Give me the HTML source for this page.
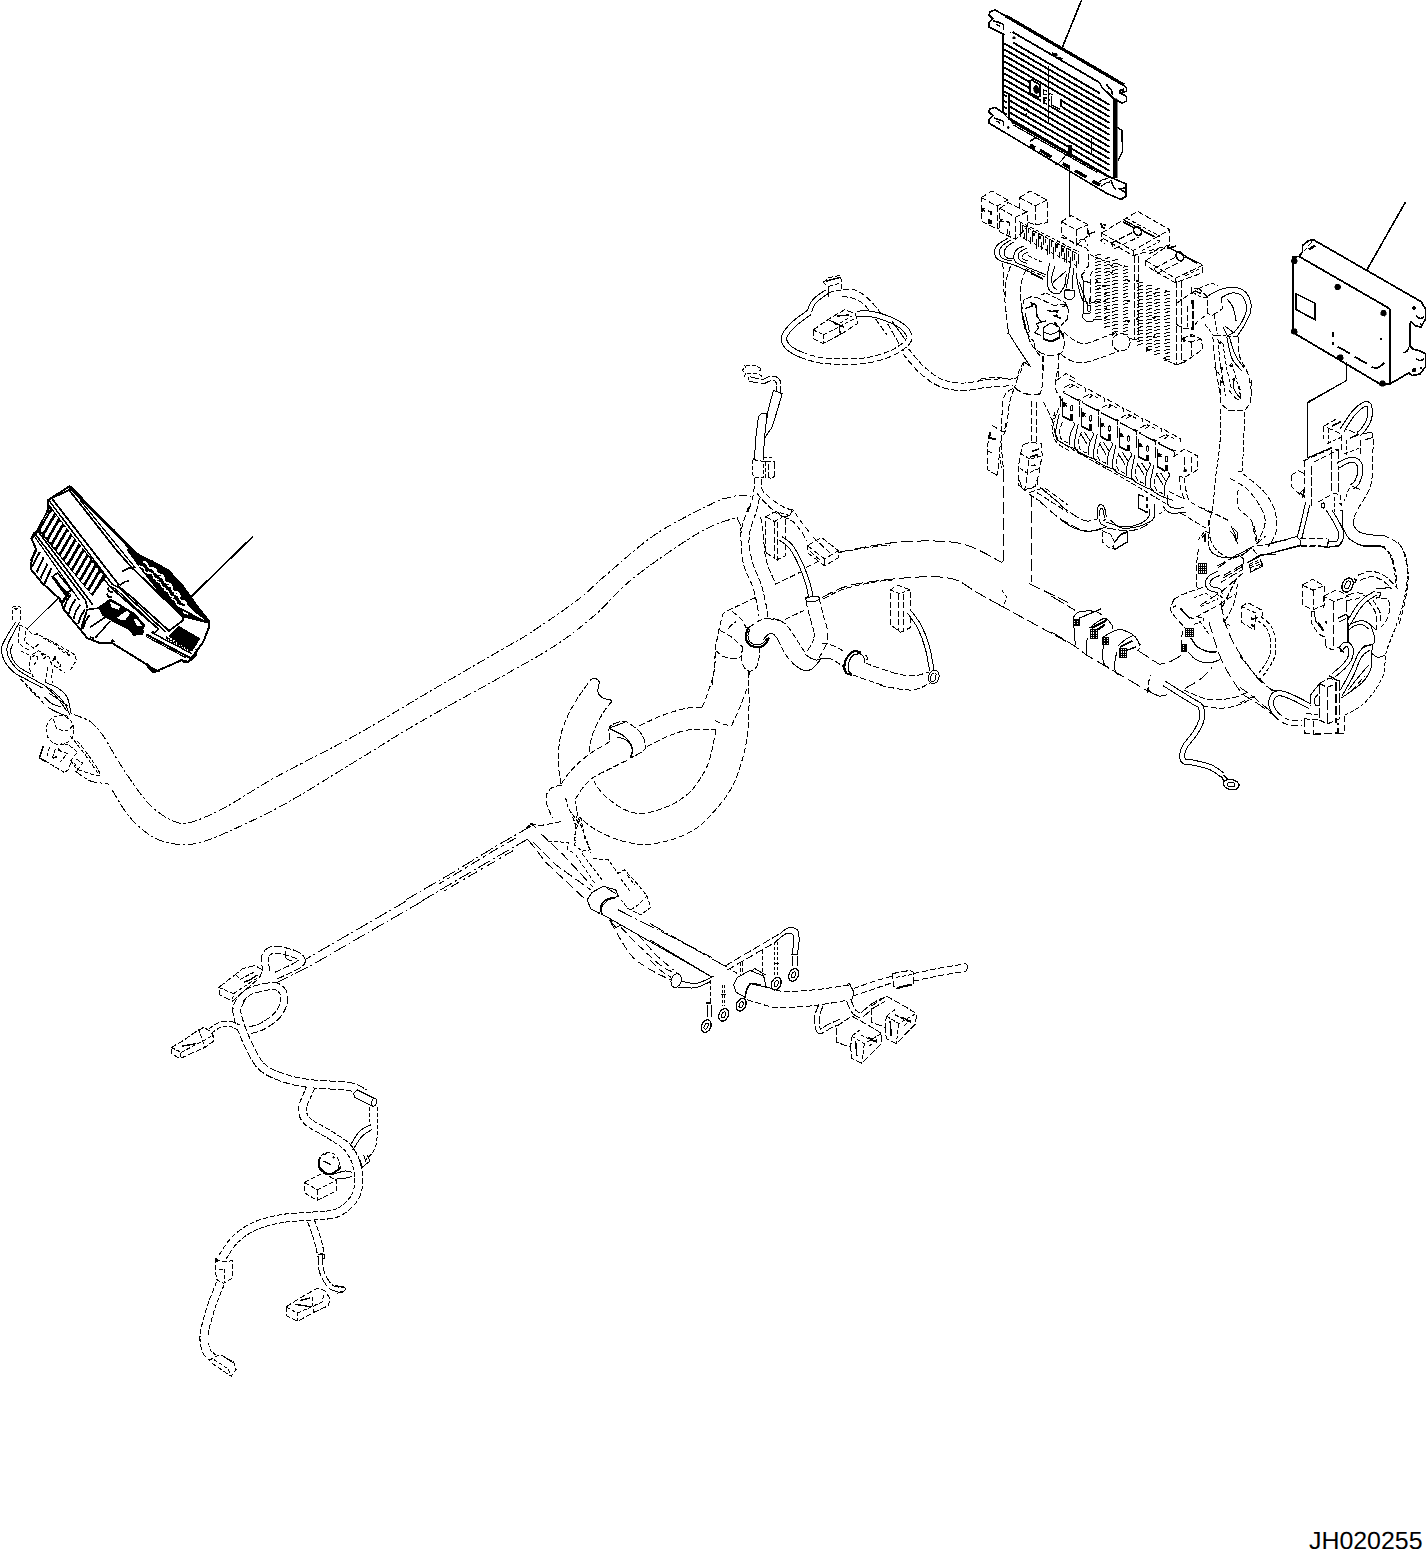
<!DOCTYPE html>
<html><head><meta charset="utf-8"><title>JH020255</title>
<style>html,body{margin:0;padding:0;background:#fff}body{width:1426px;height:1549px;overflow:hidden;font-family:"Liberation Sans",sans-serif}svg{display:block}</style></head>
<body>
<svg width="1426" height="1549" viewBox="0 0 1426 1549" shape-rendering="crispEdges">
<path d="M73.6,714.6 C76.4,715.8 85.5,718.1 90.4,721.7 C95.4,725.3 99,730 103.3,736 C107.6,742 111.8,750.6 116.2,757.8 C120.7,765 124.4,771.1 130,779 C135.6,786.9 143,798.1 150,805 C157,811.9 165.3,817.6 172,820.5 C178.7,823.4 181.2,824.7 190,822.5 C198.8,820.3 210.8,815 225,807.5 C239.2,800 253.2,789.6 275,777.5 C296.8,765.4 331.5,748.6 356,735 C380.5,721.4 398,710.1 422,696 C446,681.9 482,661.1 500,650.6 C518,640.1 517.1,641.4 530,633 C542.9,624.6 564.8,609.7 577.5,600 C590.2,590.3 592.9,586 606,575 C619.1,564 638.3,545.9 656,534 C673.7,522.1 700.2,509.7 712,503.7 C723.8,497.7 722.2,499.4 727,498 C731.8,496.6 737,495.4 741,495.2 C745,495 749.3,496.7 751,497" fill="none" stroke="#000" stroke-width="1" stroke-dasharray="9 2.5 2.5 2.5"/>
<path d="M74.9,770.8 C77.5,772.5 85.1,778.9 90.4,781 C95.8,783.1 104.2,783.1 107,783.7 C109.8,784.3 107.4,784.4 107.5,784.5" fill="none" stroke="#000" stroke-width="1" stroke-dasharray="9 2.5 2.5 2.5"/>
<path d="M112,790 C115,794.6 123.3,809.8 130,817.5 C136.7,825.2 144.5,832.1 152,836.5 C159.5,840.9 167,843 175,844 C183,845 189.6,845.2 200,842.5 C210.4,839.8 222.9,834.2 237.5,827.5 C252.1,820.8 267.8,813.6 287.5,802.5 C307.2,791.4 333.9,774.4 356,761 C378.1,747.6 396,735.9 420,722 C444,708.1 477.3,690.3 500,677.5 C522.7,664.7 540.2,655.4 556,645 C571.8,634.6 582.5,625.8 595,615 C607.5,604.2 616.7,591.8 631,580 C645.3,568.2 667.5,553 681,544 C694.5,535 702.7,530.4 712,526 C721.3,521.6 732.8,518.9 737,517.5" fill="none" stroke="#000" stroke-width="1" stroke-dasharray="9 2.5 2.5 2.5"/>
<path d="M737,517.5 L740,524 L741,533" fill="none" stroke="#000" stroke-width="1" stroke-dasharray="9 2.5 2.5 2.5"/>
<path d="M12.3,620.3 C12.3,618.5 11.9,611.7 12.3,609.4 C12.6,607.1 13.1,607 14.2,606.5 C15.3,606 17.6,605.9 18.7,606.3 C19.8,606.6 20.4,606.3 20.7,608.7 C20.9,611.2 20.1,618.9 20,621" fill="none" stroke="#000" stroke-width="1" stroke-dasharray="4 2"/>
<path d="M14.5,608.1 L16.1,609.4 L18.1,607.8" fill="none" stroke="#000" stroke-width="1" stroke-dasharray="4 2"/>
<path d="M16.1,621.6 C15,623.5 11.4,628.4 9,632.6 C6.7,636.8 2.8,642.3 1.9,646.8 C1.1,651.3 1.8,655.4 3.9,659.7 C5.9,664 10.5,669.4 14.2,672.6 C17.9,675.9 21.1,676.5 25.8,679.1 C30.6,681.7 39.8,686.6 42.6,688.1" fill="none" stroke="#000" stroke-width="1"/>
<path d="M19.4,622.3 C18.3,624.2 15,629.8 12.9,633.9 C10.9,638 7.8,642.8 7.1,646.8 C6.4,650.8 7.2,654.1 8.8,657.8 C10.4,661.4 13.5,665.6 16.8,668.8 C20.1,671.9 23.8,673.8 28.4,676.5 C33,679.3 41.9,683.8 44.5,685.3" fill="none" stroke="#000" stroke-width="1"/>
<path d="M12.9,644.2 C12.5,645.3 10.6,648.1 10.6,650.7 C10.6,653.3 11.4,656.9 12.9,659.7 C14.4,662.5 16.4,665.1 19.4,667.5 C22.4,669.8 29.1,672.8 31,673.9" fill="none" stroke="#000" stroke-width="1"/>
<path d="M19.4,624.9 L27.1,628.7 L32.3,634.5 L37.4,633.9 L58.1,644.9 L75.5,655.2 L76.2,660.4 L70.4,670.1" fill="none" stroke="#000" stroke-width="1" stroke-dasharray="4 2"/>
<path d="M19.4,627.4 L18.1,642.9 L23.2,646.8 L29.7,650.7" fill="none" stroke="#000" stroke-width="1" stroke-dasharray="4 2"/>
<path d="M25.8,631.3 L24.5,641.6 L33.6,648.1 L38.7,644.2" fill="none" stroke="#000" stroke-width="1" stroke-dasharray="4 2"/>
<path d="M42.6,637.8 L56.8,645.5 L60.7,650.7 L72.3,657.1" fill="none" stroke="#000" stroke-width="1" stroke-dasharray="4 2"/>
<path d="M32.3,654.6 L38.7,650.7 L49.1,657.1 L51.6,664.2 L56.8,667.5 L64.6,672.6" fill="none" stroke="#000" stroke-width="1" stroke-dasharray="4 2"/>
<path d="M20.7,650.7 L31,655.8 L29.1,667.5 L33.6,677.8" fill="none" stroke="#000" stroke-width="1" stroke-dasharray="4 2"/>
<path d="M31.6,657.1 C32.3,656.8 34.5,655 35.5,655.2 C36.5,655.4 37.7,656.8 37.4,658.4 C37.2,660 34.8,663.8 34.2,664.9" fill="none" stroke="#000" stroke-width="1" stroke-dasharray="4 2"/>
<path d="M41.3,653.3 L45.2,657.1 L42.6,659.7" fill="none" stroke="#000" stroke-width="1.6" stroke-dasharray="3 2"/>
<path d="M54.2,657.1 L57.5,662.3 L60.7,663.6 L60,668.8" fill="none" stroke="#000" stroke-width="1.6" stroke-dasharray="3 2"/>
<path d="M59.4,648.1 L64.6,650.7 L69.7,654.6" fill="none" stroke="#000" stroke-width="1" stroke-dasharray="4 2"/>
<path d="M55.5,655.8 L52.9,661" fill="none" stroke="#000" stroke-width="1.6"/>
<path d="M48,667.2 C47.8,668.5 47,672.6 46.5,675.2 C46,677.8 45.4,681.7 45.2,683" fill="none" stroke="#000" stroke-width="1" stroke-dasharray="4 2"/>
<path d="M53.2,668.8 C52.9,670.1 51.2,674.1 51.1,676.5 C51.1,678.9 52.6,682.1 52.9,683.2" fill="none" stroke="#000" stroke-width="1" stroke-dasharray="4 2"/>
<path d="M45.2,682.3 C47.3,683.3 54.4,685.7 58.1,688.1 C61.8,690.6 64.9,692.8 67.1,697.2 C69.3,701.5 70.6,711.4 71.3,714.2" fill="none" stroke="#000" stroke-width="1"/>
<path d="M43.9,685.5 C45.6,686.6 50.8,689 54.2,692 C57.7,695 62,699.7 64.6,703.6 C67.1,707.5 68.9,713.3 69.7,715.2" fill="none" stroke="#000" stroke-width="1"/>
<path d="M47.1,688.1 C48.7,689.6 53.5,693.3 56.8,697.2 C60.1,701 65.4,709 67.1,711.4" fill="none" stroke="#000" stroke-width="1"/>
<path d="M47.8,707.5 C49.5,708.4 54.7,711.2 58.1,712.7 C61.5,714.2 66.7,715.9 68.4,716.5" fill="none" stroke="#000" stroke-width="1"/>
<path d="M49.1,693.3 C51,694.6 57.5,698.9 60.7,701 C63.9,703.2 67.1,705.3 68.4,706.2" fill="none" stroke="#000" stroke-width="1"/>
<path d="M44.5,697.2 C45.7,698.2 49,702 51.6,703.6 C54.3,705.2 59.2,706.3 60.7,706.8" fill="none" stroke="#000" stroke-width="1"/>
<path d="M20.7,679.1 L38.7,697.2 L44.5,704.9" fill="none" stroke="#000" stroke-width="1" stroke-dasharray="4 2"/>
<path d="M25.8,685.5 L37.4,697.2" fill="none" stroke="#000" stroke-width="1" stroke-dasharray="4 2"/>
<ellipse cx="60" cy="730.1" rx="14" ry="14.5" fill="none" stroke="#000" stroke-width="1" stroke-dasharray="4 2"/>
<path d="M53.6,719.1 C54.1,720.6 54.6,726.3 56.8,728.2 C59.1,730 64.3,731.1 67.1,730.5 C70,729.8 72.7,725.3 73.9,724.3" fill="none" stroke="#000" stroke-width="1" stroke-dasharray="4 2"/>
<path d="M43.3,746.2 L39.4,757.9 L45.2,761.1" fill="none" stroke="#000" stroke-width="1.6"/>
<path d="M45.2,761.1 L49.7,763.7 L64.6,772.7 L68.4,769.5 L72.3,757.9 L77.5,752 L68.4,744.9 L60.7,743" fill="none" stroke="#000" stroke-width="1" stroke-dasharray="4 2"/>
<path d="M49.7,746.9 L46.5,757.9" fill="none" stroke="#000" stroke-width="1" stroke-dasharray="4 2"/>
<path d="M55.5,748.8 L51.6,760.4" fill="none" stroke="#000" stroke-width="1" stroke-dasharray="4 2"/>
<path d="M58.1,750.1 L67.1,753.3 L60.7,761.7" fill="none" stroke="#000" stroke-width="1" stroke-dasharray="4 2"/>
<path d="M52.9,757.9 L56.8,756.6" fill="none" stroke="#000" stroke-width="1.6"/>
<path d="M58.1,748.8 L60.7,751.4" fill="none" stroke="#000" stroke-width="1.6"/>
<path d="M70.4,760.4 L77.5,770.1 L82.6,763 L76.2,759.1" fill="none" stroke="#000" stroke-width="1" stroke-dasharray="4 2"/>
<path d="M74.2,763 L78.1,768.8" fill="none" stroke="#000" stroke-width="1" stroke-dasharray="4 2"/>
<path d="M70.4,735.9 C72.4,738.5 78,745.2 82.6,751.4 C87.3,757.6 95.5,769.7 98.1,773.3" fill="none" stroke="#000" stroke-width="1" stroke-dasharray="4 2"/>
<path d="M77.5,741.1 C80.1,744.5 89.2,756 93,761.7 C96.7,767.4 100.7,773.3 100.1,775.3 C99.4,777.2 92.9,774.3 89.1,773.3 C85.3,772.4 79.4,770.1 77.5,769.5" fill="none" stroke="#000" stroke-width="1" stroke-dasharray="4 2"/>
<path d="M743.6,364.5 L745.8,367.1 L742.4,370.2 L745.5,373.4 L744.3,377.2" fill="none" stroke="#000" stroke-width="1" stroke-dasharray="4 2"/>
<path d="M745.5,365.8 L755.7,365.8 L762,369 L759.4,370.9" fill="none" stroke="#000" stroke-width="1" stroke-dasharray="4 2"/>
<path d="M747.1,374 L758.2,373.8 L763.2,377.2" fill="none" stroke="#000" stroke-width="1" stroke-dasharray="4 2"/>
<path d="M748.7,376.8 L749.6,380.6" fill="none" stroke="#000" stroke-width="1.8"/>
<path d="M749.1,378.8 C750.3,379.1 753.9,380.1 756.3,380.5 C758.6,380.9 761.1,381.6 763.2,381.4 C765.4,381.1 766.9,379.5 768.9,379.1 C770.9,378.6 773.7,378.1 775.3,378.7 C776.8,379.3 777.9,380.5 778.4,382.6 C779,384.8 778.6,390.2 778.7,391.7" fill="none" stroke="#000" stroke-width="5.4" stroke-dasharray="10 2" stroke-linejoin="round"/>
<path d="M749.1,378.8 C750.3,379.1 753.9,380.1 756.3,380.5 C758.6,380.9 761.1,381.6 763.2,381.4 C765.4,381.1 766.9,379.5 768.9,379.1 C770.9,378.6 773.7,378.1 775.3,378.7 C776.8,379.3 777.9,380.5 778.4,382.6 C779,384.8 778.6,390.2 778.7,391.7" fill="none" stroke="#fff" stroke-width="3.4" stroke-linejoin="round"/>
<path d="M773.4,390.5 L782.2,393.6 L777.2,410.7 L772.1,427.2 L765.1,437.3 L764.5,437.3 L765.8,425.9 L768.3,409.4Z" fill="#fff" stroke="#000" stroke-width="1"/>
<path d="M754.4,460 L755.7,438.5 L758.4,416.4 L761.3,413.6 L766,413.2 L767,414.8 L764.5,437.3 L763.2,460" fill="#fff" stroke="#000" stroke-width="1"/>
<path d="M752.5,461.3 L754.4,457.5 L755.7,460.3 L763.2,461.3 L763.2,477.8 L754.4,477.1 L752.9,474.6 L752.5,461.3" fill="none" stroke="#000" stroke-width="1" stroke-dasharray="4 2"/>
<path d="M763.2,457.5 L772.1,457.5" fill="none" stroke="#000" stroke-width="1" stroke-dasharray="4 2"/>
<path d="M763.2,461.3 L774,461.3 L774,476.5 L772.1,478.4 L768.9,477.8 L768.3,463.8" fill="none" stroke="#000" stroke-width="1" stroke-dasharray="8 2"/>
<path d="M765.1,461.9 L765.1,479" fill="none" stroke="#000" stroke-width="1" stroke-dasharray="4 2"/>
<path d="M755,477.8 C754.7,480.7 754.3,489.8 753.1,495.5 C752,501.2 748.8,510.1 748.1,511.9 C747.3,513.7 749.7,503.8 748.7,506.4 C747.6,509.1 743,521.8 741.7,527.9 C740.5,534.1 740.8,537 741.1,543.1 C741.4,549.2 741.7,557.5 743.6,564.6 C745.5,571.8 750.5,580.6 752.5,586.1 C754.5,591.6 754.5,592.5 755.6,597.5 C756.7,602.6 758.5,613.3 759.1,616.5" fill="none" stroke="#000" stroke-width="1" stroke-dasharray="6 2.5"/>
<path d="M759.4,498 C758.8,500.7 756.4,511.5 755.7,514.4 C754.9,517.3 756,512.4 755,515.3 C754.1,518.2 750.9,526.5 749.9,531.7 C749,537 748.7,541.2 749.3,546.9 C749.9,552.6 751.7,559.6 753.7,565.9 C755.7,572.2 759.2,578.1 761.3,584.9 C763.4,591.6 765.3,600.8 766.4,606.4 C767.4,612 767.4,616.4 767.7,618.4" fill="none" stroke="#000" stroke-width="1" stroke-dasharray="6 2.5"/>
<path d="M762,479 C761.9,480.4 760.7,484.7 761.3,487.2 C762,489.8 762.5,491.1 765.8,494.2 C769,497.3 776.5,502.9 781,505.6 C785.4,508.3 790.4,509.6 792.3,510.4" fill="none" stroke="#000" stroke-width="1" stroke-dasharray="6 2.5"/>
<path d="M787.3,508.1 L792.3,510.4 L790.4,514.4 L783.5,518.2" fill="none" stroke="#000" stroke-width="1" stroke-dasharray="4 2"/>
<path d="M787.9,509.6 C788.7,509.7 791.1,508.7 793,510.2 C794.8,511.8 796.5,515.4 799.3,519.1 C802,522.8 807.7,530.2 809.4,532.4" fill="none" stroke="#000" stroke-width="1" stroke-dasharray="6 2.5"/>
<path d="M756.9,492.9 C757.6,493.8 758.4,495.5 760.7,498 C763,500.5 767.5,505.4 770.8,508.1 C774.2,510.8 779.3,513.4 781,514.4" fill="none" stroke="#000" stroke-width="1" stroke-dasharray="6 2.5"/>
<path d="M782.8,516.6 C784.5,517.4 790,519.3 793,521.6 C795.9,523.9 798.2,527.3 800.5,530.5 C802.9,533.6 805.8,538.9 806.9,540.6" fill="none" stroke="#000" stroke-width="1" stroke-dasharray="6 2.5"/>
<path d="M807.5,545.7 L821.4,537.4 L838.5,550.7 L838.5,557.7 L824.6,565.9 L807.5,552.6Z" fill="#fff" stroke="#000" stroke-width="1" stroke-dasharray="6 2.5"/>
<path d="M807.5,545.7 L824.6,558.9 L838.5,550.7 M824.6,558.9 L824.6,565.9" fill="none" stroke="#000" stroke-width="1" stroke-dasharray="6 2.5"/>
<path d="M813.2,537.4 L830.3,553.2" fill="none" stroke="#000" stroke-width="1" stroke-dasharray="6 2.5"/>
<path d="M809.4,550.7 L820.8,560.8" fill="none" stroke="#000" stroke-width="1" stroke-dasharray="6 2.5"/>
<path d="M760.7,517.2 L763.2,531.7 L764.5,552 L767.7,565.9 L775.9,584.2 L800.5,572" fill="none" stroke="#000" stroke-width="1" stroke-dasharray="6 2.5"/>
<path d="M806.2,567.4 L819.5,560.8" fill="none" stroke="#000" stroke-width="1" stroke-dasharray="6 2.5"/>
<path d="M765.1,552 L765.1,517.2 L774,512.1 L782.2,516.3 L785.6,517.2 L785.6,555.8 L777.8,559.3" fill="none" stroke="#000" stroke-width="1" stroke-dasharray="6 2.5"/>
<path d="M765.8,516.6 L774.6,521.6 L774.6,558.3 L765.1,552" fill="none" stroke="#000" stroke-width="1" stroke-dasharray="6 2.5"/>
<path d="M777.8,522.3 L777.8,560.2 L774.6,558.3" fill="none" stroke="#000" stroke-width="1" stroke-dasharray="6 2.5"/>
<path d="M774.6,521.6 L782.2,517.2" fill="none" stroke="#000" stroke-width="1" stroke-dasharray="4 2"/>
<path d="M780.3,512.8 L789.2,515.3 L793,510.9" fill="none" stroke="#000" stroke-width="1" stroke-dasharray="4 2"/>
<path d="M780.3,538.1 C782.1,539.5 787.6,542.4 791.1,546.9 C794.5,551.5 798.2,558.6 801.2,565.3 C804.1,571.9 807.1,581.3 808.8,586.8 C810.4,592.2 810.6,596.2 810.9,598.1" fill="none" stroke="#000" stroke-width="5.4" stroke-linejoin="round"/>
<path d="M780.3,538.1 C782.1,539.5 787.6,542.4 791.1,546.9 C794.5,551.5 798.2,558.6 801.2,565.3 C804.1,571.9 807.1,581.3 808.8,586.8 C810.4,592.2 810.6,596.2 810.9,598.1" fill="none" stroke="#fff" stroke-width="3.4" stroke-linejoin="round"/>
<path d="M812.6,600 C813.3,603 815.6,612.5 817,617.8 C818.4,623 820.4,627.4 820.8,631.7 C821.2,635.9 820.8,639.3 819.5,643 C818.2,646.8 814.2,652.5 813.2,654.4" fill="none" stroke="#000" stroke-width="14.5" stroke-dasharray="6 2.5" stroke-linejoin="round"/>
<path d="M812.6,600 C813.3,603 815.6,612.5 817,617.8 C818.4,623 820.4,627.4 820.8,631.7 C821.2,635.9 820.8,639.3 819.5,643 C818.2,646.8 814.2,652.5 813.2,654.4" fill="none" stroke="#fff" stroke-width="12.5" stroke-linejoin="round"/>
<ellipse cx="812.6" cy="599" rx="7" ry="2.6" fill="#fff" stroke="#000" stroke-width="1" transform="rotate(-8 812.6 599)"/>
<path d="M805.6,599.4 C805.6,599.1 805.4,598 805.9,597.5 C806.3,597 807.8,596.8 808.1,596.6" fill="none" stroke="#000" stroke-width="1"/>
<path d="M819.5,599 C819.5,598.7 819.9,597.7 819.3,597.3 C818.6,596.8 816.3,596.6 815.7,596.5" fill="none" stroke="#000" stroke-width="1"/>
<path d="M823.3,599 C826.9,597.3 836,591.5 844.8,588.7 C853.7,585.8 868.6,583.1 876.4,581.7 C884.3,580.3 889.4,580.6 892,580.4" fill="none" stroke="#000" stroke-width="1" stroke-dasharray="6 2.5"/>
<path d="M838.5,552.6 C842.7,551.9 855.1,549.4 863.8,548.2 C872.4,546.9 885.9,545.5 890.3,545" fill="none" stroke="#000" stroke-width="1" stroke-dasharray="6 2.5"/>
<path d="M768.3,618.4 L781.6,621.2 L804.3,610.2" fill="none" stroke="#000" stroke-width="1" stroke-dasharray="6 2.5"/>
<path d="M755.6,597.5 L724.6,612.1 L722.8,614.6 L719.6,626.6 L715.8,645.6 L715.2,653.2" fill="none" stroke="#000" stroke-width="1" stroke-dasharray="6 2.5"/>
<path d="M728.4,628.5 C729.1,627.8 730.9,625.5 732.2,624.3 C733.5,623.2 735.6,622 736.3,621.5" fill="none" stroke="#000" stroke-width="1" stroke-dasharray="6 2.5"/>
<path d="M732.2,611.4 C733.7,612.7 738.8,616.3 741.1,619 C743.4,621.8 745.3,626.4 746.2,627.9" fill="none" stroke="#000" stroke-width="1" stroke-dasharray="6 2.5"/>
<path d="M715.8,650.6 C717.3,651.7 721.1,655.7 724.6,657 C728.2,658.2 734.3,658.6 737.3,658.2 C740.2,657.8 741.5,655.1 742.4,654.4" fill="none" stroke="#000" stroke-width="1" stroke-dasharray="6 2.5"/>
<path d="M719.6,630.4 C721.5,631.5 727.2,634 731,636.7 C734.8,639.5 740.5,645.2 742.4,646.8" fill="none" stroke="#000" stroke-width="1" stroke-dasharray="6 2.5"/>
<path d="M715.2,653.2 L713.9,672.1 L712,685.9" fill="none" stroke="#000" stroke-width="1" stroke-dasharray="6 2.5"/>
<path d="M742.4,646.8 C742.3,649.2 741.3,657.2 741.7,660.8 C742.1,664.3 743.5,666.6 744.9,668.3 C746.3,670.1 748.2,671.1 749.9,671.1 C751.7,671.1 754.2,670.3 755.6,668.3 C757.1,666.4 758.2,663 758.8,659.5 C759.4,656 759,649.5 759.1,647.5" fill="none" stroke="#000" stroke-width="1" stroke-dasharray="6 2.5"/>
<path d="M749.3,672.1 L748,685.9" fill="none" stroke="#000" stroke-width="1" stroke-dasharray="6 2.5"/>
<path d="M749.3,627.2 C750.9,626.2 755.7,622.4 758.8,620.9 C761.9,619.4 764.9,618.7 767.7,618.4 C770.4,618.1 772.9,618.5 775.2,619 C777.6,619.5 779.5,620.3 781.6,621.5 C783.7,622.8 785.2,623.2 787.9,626.6 C790.6,630 795,637.1 798,641.8 C801.1,646.4 804.9,652.3 806.2,654.4" fill="none" stroke="#000" stroke-width="1" stroke-dasharray="6 2.5"/>
<path d="M762.6,640.5 C763.4,639.6 766,636 767.7,634.8 C769.3,633.7 771,632.8 772.7,633.6 C774.4,634.3 776.9,638.3 777.8,639.3" fill="none" stroke="#000" stroke-width="1"/>
<path d="M777.8,639.3 C779,641.8 782.6,650.2 785.4,654.4 C788.1,658.6 792.7,662.9 794.2,664.6" fill="none" stroke="#000" stroke-width="1" stroke-dasharray="6 2.5"/>
<path d="M794.2,664.6 C795.7,665.5 800.1,669.5 803.1,670.2 C806,671 809.2,670.6 811.9,669 C814.7,667.4 817.9,662.5 819.5,660.8 C821.1,659 821.1,658.6 821.4,658.2" fill="none" stroke="#000" stroke-width="1"/>
<path d="M805.6,654.4 C806.4,655.1 808.8,657.3 810.7,658.2 C812.6,659.2 815.2,660.1 817,660.1 C818.8,660.1 819.7,658.5 821.4,658.2 C823.1,657.9 826.2,658.2 827.1,658.2" fill="none" stroke="#000" stroke-width="1"/>
<path d="M748.9,626.9 C748.4,628.3 745.7,632.7 745.6,635.5 C745.6,638.3 747,641.7 748.7,643.7 C750.3,645.6 753.1,646.9 755.6,647.2 C758.2,647.5 761.6,646.9 763.9,645.3 C766.1,643.7 768.3,639 769.2,637.7" fill="none" stroke="#000" stroke-width="2.2"/>
<path d="M749.9,629.1 C749.6,630.2 747.9,633.4 747.9,635.5 C747.9,637.6 748.6,640.2 749.9,641.8 C751.3,643.4 754.2,644.7 756.3,644.9 C758.4,645.2 760.8,644.5 762.6,643.3 C764.4,642.1 766.3,638.9 767,638" fill="none" stroke="#000" stroke-width="1"/>
<path d="M755.6,647.2 L763.9,646.8" fill="none" stroke="#000" stroke-width="1.2"/>
<path d="M822,643.3 C822.9,643.4 824.4,642.9 827.1,643.7 C829.8,644.5 835.3,646.5 838.5,648.1 C841.6,649.7 844.8,652.3 846.1,653.2" fill="none" stroke="#000" stroke-width="1" stroke-dasharray="6 2.5"/>
<path d="M827.1,658.2 C828.2,658.5 830.6,658.6 833.4,660.1 C836.3,661.6 842.4,665.9 844.2,667.1" fill="none" stroke="#000" stroke-width="1" stroke-dasharray="6 2.5"/>
<path d="M865.7,663.3 C867.5,663.9 872,665.5 876.4,667.1 C880.8,668.6 889.4,671.6 892,672.5" fill="none" stroke="#000" stroke-width="1" stroke-dasharray="6 2.5"/>
<path d="M852.4,674.9 C855.4,675.9 864.8,679.2 870.1,681 C875.4,682.8 881.7,685.1 884,685.9" fill="none" stroke="#000" stroke-width="1" stroke-dasharray="6 2.5"/>
<path d="M861.3,652.5 C860,652.3 856.1,650.3 853.7,651.3 C851.2,652.2 848.3,655.6 846.7,658.2 C845.1,660.9 844.2,664.6 844.2,667.1 C844.2,669.6 845.3,672.1 846.7,673.4 C848.1,674.7 851.5,674.5 852.4,674.7" fill="none" stroke="#000" stroke-width="2.2"/>
<path d="M858.7,653.8 C857.7,654.1 854.1,654.1 852.4,655.7 C850.7,657.3 849.2,660.8 848.6,663.3 C848,665.8 848.1,669.1 848.6,670.9 C849.1,672.7 851.2,673.5 851.8,674" fill="none" stroke="#000" stroke-width="1.2"/>
<path d="M859.4,653.2 C860.1,653.8 862.8,655.3 863.8,657 C864.7,658.6 864.8,662.2 865,663.3" fill="none" stroke="#000" stroke-width="1"/>
<path d="M865.7,655.1 C866,655.6 867.4,657.4 867.6,658.2 C867.7,659.1 866.7,659.8 866.6,660.1" fill="none" stroke="#000" stroke-width="1"/>
<path d="M748.8,671.2 C748.7,680.3 749.6,710.7 748.4,725.9 C747.2,741 744.5,751.7 741.5,762.3 C738.5,773 735.4,781.2 730.5,789.7 C725.7,798.2 718.4,806.7 712.3,813.4 C706.2,820 701.4,825.2 694.1,829.8 C686.8,834.3 677.1,838.3 668.6,840.7 C660.1,843.1 650.9,844.4 643,844.4 C635.1,844.4 627.8,842.5 621.2,840.7 C614.5,838.9 608.1,835.8 602.9,833.4 C597.8,831 594.1,828.9 590.2,826.1 C586.2,823.4 581,818.5 579.2,817" fill="none" stroke="#000" stroke-width="1" stroke-dasharray="6 2.5"/>
<path d="M716,729.5 C715.5,731.9 714.4,738.6 713.2,744.1 C712,749.6 710.6,756.8 708.7,762.3 C706.7,767.8 704.7,771.7 701.4,776.9 C698,782.1 694.1,788.4 688.6,793.3 C683.1,798.2 676.2,802.7 668.6,806.1 C661,809.4 650.3,812.8 643,813.4 C635.7,814 630.6,812.1 624.8,809.7 C619,807.3 612.6,802.1 608.4,798.8 C604.1,795.4 601.7,792.7 599.3,789.7 C596.8,786.6 594.7,782.1 593.8,780.5" fill="none" stroke="#000" stroke-width="1" stroke-dasharray="6 2.5"/>
<path d="M561,784.2 C562.8,781.8 567.4,774.5 571.9,769.6 C576.5,764.7 582,759.7 588.3,755 C594.7,750.3 606.6,743.6 610.2,741.3" fill="none" stroke="#000" stroke-width="1" stroke-dasharray="6 2.5"/>
<path d="M639.4,725.9 C643,724.2 653.7,718.7 661.3,715.8 C668.9,712.9 678.1,710 685,708.5 C691.8,707.1 699.4,707.3 702.3,707.1" fill="none" stroke="#000" stroke-width="1" stroke-dasharray="6 2.5"/>
<path d="M702.3,707.1 C703.2,704.7 705.8,699 707.8,693 C709.7,687 712.8,679.4 714.1,671.2 C715.5,663 715.7,648.4 716,643.8" fill="none" stroke="#000" stroke-width="1" stroke-dasharray="6 2.5"/>
<path d="M575.6,798.8 C576.8,797 580,791.3 582.9,787.8 C585.8,784.3 588.3,781 592.9,777.8 C597.5,774.6 604.3,771.7 610.2,768.7 C616.1,765.7 625.4,761.1 628.5,759.6" fill="none" stroke="#000" stroke-width="1" stroke-dasharray="6 2.5"/>
<path d="M646.7,746.8 C650,745.1 659.7,739.6 666.7,736.8 C673.7,734 680.4,731.1 688.6,729.9 C696.8,728.6 711.4,729.6 716,729.5" fill="none" stroke="#000" stroke-width="1" stroke-dasharray="6 2.5"/>
<path d="M715.1,720.4 L721.4,724 L731.5,725.9" fill="none" stroke="#000" stroke-width="1" stroke-dasharray="6 2.5"/>
<path d="M731.5,725.9 C732.8,722.8 736.8,714.6 739.7,707.6 C742.5,700.6 747.3,687.9 748.8,683.9" fill="none" stroke="#000" stroke-width="1" stroke-dasharray="6 2.5"/>
<path d="M609.7,740.4 C609.6,738.3 608.3,730.6 609.3,727.7 C610.3,724.8 613.1,724.2 615.7,723.1 C618.3,722.1 621.8,720.7 624.8,721.3 C627.8,721.9 631,724.5 633.9,726.8 C636.8,729 640.2,731.9 642.1,735 C644,738 644.9,742.4 645.2,745 C645.5,747.6 646.3,748.3 643.9,750.5 C641.6,752.6 633.3,756.5 631.2,757.8" fill="none" stroke="#000" stroke-width="1" stroke-dasharray="7 2"/>
<path d="M609.7,728 L624.8,722.2" fill="none" stroke="#000" stroke-width="1"/>
<path d="M609.7,728.6 C612.2,730 621.1,733.6 624.8,736.8 C628.5,740 631,744.2 632.1,747.7 C633.2,751.2 631.3,756.1 631.2,757.8" fill="none" stroke="#000" stroke-width="1.3"/>
<path d="M617.5,737.2 C619,737.7 624.2,738.4 626.6,740.4 C629.1,742.5 631.5,746.6 632.1,749.6 C632.6,752.5 630.3,756.8 629.9,758.3" fill="none" stroke="#000" stroke-width="1"/>
<path d="M561,784.2 C560.5,780.5 558.4,769.9 558.3,762.3 C558.1,754.7 558.7,745.9 560.1,738.6 C561.4,731.3 563.6,725.2 566.5,718.6 C569.3,711.9 573.3,705 577.4,698.5 C581.5,692 588.8,682.6 591.1,679.4" fill="none" stroke="#000" stroke-width="1" stroke-dasharray="6 2.5"/>
<path d="M591.1,679.4 C591.8,679.2 594.3,678 595.6,678.5 C597,678.9 598.9,680 599.3,682.1 C599.6,684.2 597.4,688.6 597.8,691.2 C598.3,693.8 599.6,696.1 602,697.6 C604.4,699.1 610.4,699.9 612,700.3" fill="none" stroke="#000" stroke-width="1"/>
<path d="M612,701.2 C610.5,703.2 606,708.1 602.9,713.1 C599.9,718.1 595.9,726.2 593.8,731.3 C591.7,736.5 590.9,740.3 590.2,744.1 C589.4,747.9 589.4,752.4 589.3,754.1" fill="none" stroke="#000" stroke-width="1" stroke-dasharray="6 2.5"/>
<path d="M561.9,785.1 C560.2,785.6 554.5,786.2 551.9,787.8 C549.3,789.5 547.2,792.1 546.4,795.1 C545.6,798.2 546.3,802.3 547.3,806.1 C548.4,809.9 551.9,815.9 552.8,817.9" fill="none" stroke="#000" stroke-width="1" stroke-dasharray="6 2.5"/>
<path d="M530,823.4 C531.8,823.7 537.3,825.2 540.9,825.2 C544.6,825.2 548.5,824 551.9,823.4 C555.2,822.8 559.5,821.9 561,821.6" fill="none" stroke="#000" stroke-width="1" stroke-dasharray="6 2.5"/>
<path d="M565.6,797.9 C566.2,799.8 567.2,805.6 569.2,809.7 C571.2,813.8 576.5,818.2 577.4,822.5 C578.3,826.7 575,831.9 574.7,835.2 C574.4,838.6 575.4,841.3 575.6,842.5" fill="none" stroke="#000" stroke-width="1" stroke-dasharray="4 2"/>
<path d="M575.6,800.6 C576,803.3 576.8,811.2 578.3,817 C579.8,822.8 582.7,829.8 584.7,835.2 C586.7,840.7 589.3,847.4 590.2,849.8" fill="none" stroke="#000" stroke-width="1" stroke-dasharray="4 2"/>
<path d="M572.8,817 L575.6,825.2 L578.9,823.4 L576.5,816.1" fill="none" stroke="#000" stroke-width="1" stroke-dasharray="4 2"/>
<path d="M530.9,826.2 L495.9,846.2 L450.9,873.7 L406,899.7" fill="none" stroke="#000" stroke-width="1" stroke-dasharray="14 3 2 3"/>
<path d="M528.4,838.7 L495.9,857.4 L450.9,883.7 L422,900.9" fill="none" stroke="#000" stroke-width="1" stroke-dasharray="14 3 2 3"/>
<path d="M515.9,838 L495.9,849.4 L450.9,876.9 L438.4,884.2" fill="none" stroke="#000" stroke-width="1" stroke-dasharray="10 4 3 4"/>
<path d="M513.4,850.4 L495.9,860.7 L450.9,886.9 L440.9,892.9" fill="none" stroke="#000" stroke-width="1" stroke-dasharray="10 4 3 4"/>
<path d="M525.9,828.7 C526.7,828 529.2,824.7 530.9,824.5 C532.5,824.3 535,827 535.9,827.5" fill="none" stroke="#000" stroke-width="1"/>
<path d="M528.4,840 L545.9,862.4 L585.8,899.9" fill="none" stroke="#000" stroke-width="1" stroke-dasharray="10 4"/>
<path d="M533.4,842.5 L555.9,864.9 L590.8,889.9" fill="none" stroke="#000" stroke-width="1" stroke-dasharray="10 4"/>
<path d="M540.9,833.7 L563.3,854.9 L593.3,887.4" fill="none" stroke="#000" stroke-width="1" stroke-dasharray="10 4"/>
<path d="M548.4,841.2 L568.3,842.5 L567.1,849.9 L573.3,852.4" fill="none" stroke="#000" stroke-width="1" stroke-dasharray="4 2"/>
<path d="M575.8,825 L574.6,845 L582.1,851.2 L589.6,849.9" fill="none" stroke="#000" stroke-width="1" stroke-dasharray="4 2"/>
<path d="M580.8,817.5 L584.6,837.5 L590.8,852.4" fill="none" stroke="#000" stroke-width="1" stroke-dasharray="4 2"/>
<path d="M575.8,854.9 L595.8,884.9" fill="none" stroke="#000" stroke-width="1" stroke-dasharray="4 2"/>
<path d="M582.1,853.7 L602.1,879.9" fill="none" stroke="#000" stroke-width="1" stroke-dasharray="4 2"/>
<path d="M593.3,858.7 L608.3,859.9 L618.3,873.7" fill="none" stroke="#000" stroke-width="1" stroke-dasharray="4 2"/>
<path d="M617.1,873.7 L624.5,869.9 L638.3,884.9 L647,896.2 L650.8,907.4 L640.8,914.9 L628.3,908.7 L620.8,899.9" fill="none" stroke="#000" stroke-width="1" stroke-dasharray="4 2"/>
<path d="M620.8,878.7 L630.8,892.4" fill="none" stroke="#000" stroke-width="1" stroke-dasharray="4 2"/>
<path d="M627,874.9 L634.5,884.9" fill="none" stroke="#000" stroke-width="1" stroke-dasharray="4 2"/>
<path d="M630.8,909.9 L638.3,904.9 L647,896.2" fill="none" stroke="#000" stroke-width="1" stroke-dasharray="4 2"/>
<path d="M587.1,899.9 L592.1,892.4 L603.3,886.2 L615.8,889.9 L618.3,896.2 L608.3,899.9 L602.1,906.2 L599.6,913.6 L590.8,908.7Z" fill="#fff" stroke="#000" stroke-width="1"/>
<path d="M615.8,897.4 C614.1,897.8 608.3,898.2 605.8,899.9 C603.3,901.6 601.4,904.9 600.8,907.4 C600.2,909.9 601.9,913.6 602.1,914.9" fill="none" stroke="#000" stroke-width="1.8"/>
<path d="M605.8,887.4 L615.8,893.7" fill="none" stroke="#000" stroke-width="1"/>
<path d="M618.3,909.9 L712,957.4" fill="none" stroke="#000" stroke-width="1" stroke-dasharray="16 3 2 3"/>
<path d="M603.3,914.9 L708.2,974.9" fill="none" stroke="#000" stroke-width="1"/>
<path d="M609.6,919.9 L615.8,927.4 L622.1,924.9" fill="none" stroke="#000" stroke-width="1"/>
<circle cx="611.3" cy="921.1" r="1.2" fill="#000" stroke="#000" stroke-width="0.5"/>
<path d="M610.8,922.4 C614.1,927.8 624.1,947 630.8,954.9 C637.5,962.8 644.1,965.7 650.8,969.9 C657.4,974 667.4,978.2 670.8,979.9" fill="none" stroke="#000" stroke-width="1" stroke-dasharray="8 4"/>
<path d="M620.8,927.4 C624.5,931.1 636.2,943.2 643.3,949.9 C650.4,956.5 657.4,963.4 663.3,967.4 C669.1,971.3 675.8,972.6 678.3,973.6" fill="none" stroke="#000" stroke-width="1" stroke-dasharray="8 4"/>
<path d="M638.3,934.9 L655.8,954.9 L673.3,969.9" fill="none" stroke="#000" stroke-width="1" stroke-dasharray="8 4"/>
<path d="M650,923.6 L724.9,966.1 L737.4,973.6" fill="none" stroke="#000" stroke-width="1" stroke-dasharray="16 3 2 3"/>
<path d="M650,939.9 L712.5,977.4" fill="none" stroke="#000" stroke-width="1"/>
<path d="M650,959.9 C651.7,961.5 656.5,966.9 660,969.9 C663.5,972.8 669.4,976.1 671.2,977.4" fill="none" stroke="#000" stroke-width="1" stroke-dasharray="8 4"/>
<path d="M677.5,979.9 C680.4,980.5 689.8,983.8 695,983.6 C700.2,983.4 705.6,979.9 708.7,978.6 C711.8,977.4 712.9,976.5 713.7,976.1" fill="none" stroke="#000" stroke-width="1"/>
<path d="M676.2,986.8 C679.4,987 689.3,988.7 695,987.8 C700.6,987 707.5,982.8 710,981.8" fill="none" stroke="#000" stroke-width="1"/>
<ellipse cx="676.2" cy="980.6" rx="5" ry="7" fill="#fff" stroke="#000" stroke-width="1" transform="rotate(20 676.2 980.6)"/>
<path d="M724.9,966.1 L779.9,933.6" fill="none" stroke="#000" stroke-width="1" stroke-dasharray="8 3"/>
<path d="M727.4,969.9 L774.9,942.4" fill="none" stroke="#000" stroke-width="1" stroke-dasharray="8 3"/>
<path d="M779.9,933.6 C781.4,932.7 785.7,928.5 788.6,927.9 C791.6,927.3 795.6,927.9 797.4,929.9 C799.1,931.9 799.1,935.7 799.1,939.9 C799.1,944 797.7,952.4 797.4,954.9" fill="none" stroke="#000" stroke-width="1"/>
<path d="M774.9,942.4 C776.8,940.9 783.2,934.9 786.1,933.6 C789.1,932.4 791.6,933.4 792.9,934.9 C794.1,936.3 793.8,939 793.6,942.4 C793.5,945.7 792.2,952.8 791.9,954.9" fill="none" stroke="#000" stroke-width="1"/>
<path d="M791.9,954.9 L797.4,954.9" fill="none" stroke="#000" stroke-width="1"/>
<path d="M792.9,956.1 L792.9,966.1" fill="none" stroke="#000" stroke-width="1"/>
<path d="M797.4,956.1 L797.4,966.1" fill="none" stroke="#000" stroke-width="1"/>
<path d="M740.4,962.4 L740.4,977.4" fill="none" stroke="#000" stroke-width="1" stroke-dasharray="4 2"/>
<path d="M742.9,962.4 L742.9,977.4" fill="none" stroke="#000" stroke-width="1" stroke-dasharray="4 2"/>
<path d="M762.4,949.9 L762.4,977.4" fill="none" stroke="#000" stroke-width="1" stroke-dasharray="4 2"/>
<path d="M774.9,942.4 L774.9,977.4" fill="none" stroke="#000" stroke-width="1" stroke-dasharray="3 2"/>
<path d="M777.9,942.4 L777.9,977.4" fill="none" stroke="#000" stroke-width="1" stroke-dasharray="3 2"/>
<path d="M774.2,963.6 L778.7,963.6" fill="none" stroke="#000" stroke-width="1.5"/>
<path d="M710,979.9 L710,1002.3" fill="none" stroke="#000" stroke-width="1" stroke-dasharray="4 2"/>
<path d="M706.2,1002.8 L711.2,1002.8" fill="none" stroke="#000" stroke-width="1.5"/>
<path d="M707,1004.8 L707,1017.3" fill="none" stroke="#000" stroke-width="1"/>
<path d="M711.2,1004.8 L711.2,1017.3" fill="none" stroke="#000" stroke-width="1"/>
<path d="M722.4,984.8 L722.4,1006.1" fill="none" stroke="#000" stroke-width="1" stroke-dasharray="3 2"/>
<path d="M724.9,984.8 L724.9,1006.1" fill="none" stroke="#000" stroke-width="1" stroke-dasharray="3 2"/>
<path d="M721.4,994.3 L725.9,994.3" fill="none" stroke="#000" stroke-width="1.5"/>
<path d="M733.7,984.8 L737.4,977.4 L749.9,970.4 L763.7,976.1 L766.2,987.3 L761.2,986.1 L749.9,983.6 L746.2,992.3 L744.9,997.3 L736.2,992.3Z" fill="#fff" stroke="#000" stroke-width="1"/>
<path d="M751.2,971.1 L754.9,968.6 L765.4,974.9" fill="none" stroke="#000" stroke-width="1"/>
<path d="M761.2,985.3 C759.5,985.1 753.7,982.6 751.2,983.6 C748.7,984.6 747.1,988.7 746.2,991.1 C745.3,993.5 745.8,996.7 745.7,997.8" fill="none" stroke="#000" stroke-width="1.6"/>
<path d="M747.4,999.8 C749.5,1000.5 755.3,1002.3 759.9,1003.6 C764.5,1004.8 768.2,1006.8 774.9,1007.3 C781.6,1007.9 792.4,1007.2 799.9,1006.8 C807.4,1006.4 811.5,1006 819.9,1004.8 C828.2,1003.7 844.9,1000.7 849.9,999.8" fill="none" stroke="#000" stroke-width="1" stroke-dasharray="6 2.5"/>
<path d="M767.4,987.3 C770.3,988.1 778.7,991.3 784.9,991.8 C791.1,992.4 798.2,991.1 804.9,990.6 C811.5,990.1 817.4,989.6 824.9,988.6 C832.4,987.6 845.7,985.5 849.9,984.8" fill="none" stroke="#000" stroke-width="1" stroke-dasharray="6 2.5"/>
<path d="M849.9,984.8 C850.5,986.1 853.3,989.8 853.6,992.3 C853.9,994.8 852.1,998.6 851.8,999.8" fill="none" stroke="#000" stroke-width="1"/>
<path d="M847.4,985.3 C847.6,985.1 848.1,983.7 848.6,983.6 C849.1,983.5 850.1,984.6 850.3,984.8" fill="none" stroke="#000" stroke-width="1"/>
<path d="M853.6,988.6 C857.1,987.3 868.4,983.2 874.8,981.1 C881.3,979 889.4,976.9 892.3,976.1" fill="none" stroke="#000" stroke-width="1" stroke-dasharray="6 2.5"/>
<path d="M852.8,996.1 C856.5,994.8 868,990.9 874.8,988.6 C881.6,986.3 890.4,983.4 893.6,982.3" fill="none" stroke="#000" stroke-width="1" stroke-dasharray="6 2.5"/>
<path d="M913.6,973.6 C917.5,972.8 928.5,970.3 937.3,968.6 C946,966.9 961.2,964.4 966,963.6" fill="none" stroke="#000" stroke-width="1" stroke-dasharray="6 2.5"/>
<path d="M913.6,981.1 C917.5,980.3 928.5,977.8 937.3,976.1 C946,974.4 961.2,971.9 966,971.1" fill="none" stroke="#000" stroke-width="1" stroke-dasharray="6 2.5"/>
<path d="M965.3,963.1 C965.7,963.7 967.6,965.5 967.8,966.9 C967.9,968.2 966.3,970.6 966,971.4" fill="none" stroke="#000" stroke-width="1"/>
<path d="M892.3,973.6 L909.8,970.4 L913.6,972.4 L913.6,984.8 L897.3,988.6 L893.6,986.1 L892.3,973.6" fill="none" stroke="#000" stroke-width="1" stroke-dasharray="7 2"/>
<path d="M896.1,977.4 L912.3,974.4" fill="none" stroke="#000" stroke-width="1" stroke-dasharray="4 2"/>
<path d="M897.3,987.8 L912.3,984.3" fill="none" stroke="#000" stroke-width="1.8"/>
<ellipse cx="706.2" cy="1026.1" rx="4.6" ry="6.6" fill="#fff" stroke="#000" stroke-width="1.3" transform="rotate(25 706.2 1026.1)"/>
<ellipse cx="706.2" cy="1026.1" rx="1.8" ry="3.2" fill="#fff" stroke="#000" stroke-width="1" transform="rotate(25 706.2 1026.1)"/>
<ellipse cx="723.7" cy="1014.8" rx="4.6" ry="6.6" fill="#fff" stroke="#000" stroke-width="1.3" transform="rotate(25 723.7 1014.8)"/>
<ellipse cx="723.7" cy="1014.8" rx="1.8" ry="3.2" fill="#fff" stroke="#000" stroke-width="1" transform="rotate(25 723.7 1014.8)"/>
<ellipse cx="741.2" cy="1004.8" rx="4.6" ry="6.6" fill="#fff" stroke="#000" stroke-width="1.3" transform="rotate(25 741.2 1004.8)"/>
<ellipse cx="741.2" cy="1004.8" rx="1.8" ry="3.2" fill="#fff" stroke="#000" stroke-width="1" transform="rotate(25 741.2 1004.8)"/>
<ellipse cx="776.2" cy="983.6" rx="4.6" ry="6.6" fill="#fff" stroke="#000" stroke-width="1.3" transform="rotate(25 776.2 983.6)"/>
<ellipse cx="776.2" cy="983.6" rx="1.8" ry="3.2" fill="#fff" stroke="#000" stroke-width="1" transform="rotate(25 776.2 983.6)"/>
<ellipse cx="793.6" cy="974.9" rx="4.6" ry="6.6" fill="#fff" stroke="#000" stroke-width="1.3" transform="rotate(25 793.6 974.9)"/>
<ellipse cx="793.6" cy="974.9" rx="1.8" ry="3.2" fill="#fff" stroke="#000" stroke-width="1" transform="rotate(25 793.6 974.9)"/>
<path d="M821.1,1004.8 C820.4,1006.9 817.2,1013 816.9,1017.3 C816.6,1021.7 817.2,1029.6 819.4,1031.1 C821.5,1032.5 826.2,1027.7 829.9,1026.1 C833.5,1024.4 839.2,1021.9 841.1,1021.1" fill="none" stroke="#000" stroke-width="5.5" stroke-dasharray="9 2" stroke-linejoin="round"/>
<path d="M821.1,1004.8 C820.4,1006.9 817.2,1013 816.9,1017.3 C816.6,1021.7 817.2,1029.6 819.4,1031.1 C821.5,1032.5 826.2,1027.7 829.9,1026.1 C833.5,1024.4 839.2,1021.9 841.1,1021.1" fill="none" stroke="#fff" stroke-width="3.5" stroke-linejoin="round"/>
<path d="M848.6,999.8 C849.4,1001.7 851.5,1008.6 853.6,1011.1 C855.7,1013.6 858,1015.7 861.1,1014.8 C864.2,1014 868.6,1008.6 872.3,1006.1 C876.1,1003.6 881.7,1000.9 883.6,999.8" fill="none" stroke="#000" stroke-width="5.5" stroke-dasharray="9 2" stroke-linejoin="round"/>
<path d="M848.6,999.8 C849.4,1001.7 851.5,1008.6 853.6,1011.1 C855.7,1013.6 858,1015.7 861.1,1014.8 C864.2,1014 868.6,1008.6 872.3,1006.1 C876.1,1003.6 881.7,1000.9 883.6,999.8" fill="none" stroke="#fff" stroke-width="3.5" stroke-linejoin="round"/>
<path d="M836.9,1026.1 L851.8,1016.1 L863.1,1022.3 L871.8,1027.3 L881.8,1033.6 L881.3,1043.6 L861.8,1063.5 L851.8,1058.5 L850.6,1047.3 L836.9,1042.3 L836.9,1026.1" fill="none" stroke="#000" stroke-width="1" stroke-dasharray="7 2"/>
<path d="M850.6,1047.3 L851.8,1036.1 L861.8,1028.6" fill="none" stroke="#000" stroke-width="1" stroke-dasharray="4 2"/>
<path d="M851.8,1036.1 L864.3,1043.6 L881.3,1033.6" fill="none" stroke="#000" stroke-width="1" stroke-dasharray="4 2"/>
<path d="M864.3,1043.6 L861.8,1063.5" fill="none" stroke="#000" stroke-width="1" stroke-dasharray="4 2"/>
<path d="M855.6,1041.1 L856.8,1056" fill="none" stroke="#000" stroke-width="1.5"/>
<path d="M868.1,1037.3 L876.8,1042.3" fill="none" stroke="#000" stroke-width="1.5"/>
<path d="M860.6,1034.8 L874.3,1041.6" fill="none" stroke="#000" stroke-width="1" stroke-dasharray="4 2"/>
<path d="M869.3,1046.1 L878.1,1038.6" fill="none" stroke="#000" stroke-width="1" stroke-dasharray="4 2"/>
<path d="M871.3,1006.1 L886.3,996.1 L897.6,1002.3 L906.3,1007.3 L916.3,1013.6 L915.8,1023.6 L896.3,1043.6 L886.3,1038.6 L885.1,1027.3 L871.3,1022.3 L871.3,1006.1" fill="none" stroke="#000" stroke-width="1" stroke-dasharray="7 2"/>
<path d="M885.1,1027.3 L886.3,1016.1 L896.3,1008.6" fill="none" stroke="#000" stroke-width="1" stroke-dasharray="4 2"/>
<path d="M886.3,1016.1 L898.8,1023.6 L915.8,1013.6" fill="none" stroke="#000" stroke-width="1" stroke-dasharray="4 2"/>
<path d="M898.8,1023.6 L896.3,1043.6" fill="none" stroke="#000" stroke-width="1" stroke-dasharray="4 2"/>
<path d="M890.1,1021.1 L891.3,1036.1" fill="none" stroke="#000" stroke-width="1.5"/>
<path d="M902.6,1017.3 L911.3,1022.3" fill="none" stroke="#000" stroke-width="1.5"/>
<path d="M895.1,1014.8 L908.8,1021.6" fill="none" stroke="#000" stroke-width="1" stroke-dasharray="4 2"/>
<path d="M903.8,1026.1 L912.6,1018.6" fill="none" stroke="#000" stroke-width="1" stroke-dasharray="4 2"/>
<path d="M422.3,901.2 L309.8,966.2 L274.9,983.7" fill="none" stroke="#000" stroke-width="1" stroke-dasharray="14 3 2 3"/>
<path d="M406,901.2 L302.3,961.2" fill="none" stroke="#000" stroke-width="1" stroke-dasharray="14 3 2 3"/>
<path d="M266.1,971.2 C266,968.7 264.3,959.7 265.4,956.2 C266.4,952.7 269.1,950.8 272.4,950 C275.6,949.1 280.5,950.2 284.9,951.2 C289.2,952.3 296.1,954.1 298.6,956.2 C301.1,958.3 303.8,960.4 299.9,963.7 C295.9,967 279,974.1 274.9,976.2" fill="none" stroke="#000" stroke-width="8" stroke-dasharray="7 2" stroke-linejoin="round"/>
<path d="M266.1,971.2 C266,968.7 264.3,959.7 265.4,956.2 C266.4,952.7 269.1,950.8 272.4,950 C275.6,949.1 280.5,950.2 284.9,951.2 C289.2,952.3 296.1,954.1 298.6,956.2 C301.1,958.3 303.8,960.4 299.9,963.7 C295.9,967 279,974.1 274.9,976.2" fill="none" stroke="#fff" stroke-width="6" stroke-linejoin="round"/>
<path d="M285.4,951.2 L286.1,958.7 L292.4,961.2" fill="none" stroke="#000" stroke-width="1"/>
<path d="M218.7,987.4 L234.9,974.9 L242.4,968.7 L254.9,965.5 L262.4,969.9 L259.9,977.4 L232.4,1001.2 L219.9,994.9 L218.7,987.4" fill="none" stroke="#000" stroke-width="1" stroke-dasharray="7 2"/>
<path d="M218.7,987.4 L233.6,993.7 L232.4,1001.2" fill="none" stroke="#000" stroke-width="1" stroke-dasharray="4 2"/>
<path d="M233.6,993.7 L259.9,976.2" fill="none" stroke="#000" stroke-width="1" stroke-dasharray="4 2"/>
<path d="M236.1,974.9 L239.9,979.4 L256.1,971.2" fill="none" stroke="#000" stroke-width="1" stroke-dasharray="4 2"/>
<path d="M243.6,982.4 L249.9,979.9 L257.4,974.9" fill="none" stroke="#000" stroke-width="1.4"/>
<path d="M239.9,999.9 C241.6,998.5 244.1,993.5 249.9,991.2 C255.7,988.9 269.1,985.4 274.9,986.2 C280.6,987 283.7,991.6 284.4,996.2 C285,1000.8 282.3,1008.7 278.6,1013.7 C275,1018.7 267.2,1023.4 262.4,1026.2 C257.5,1028.9 251.6,1029.7 249.4,1030.4" fill="none" stroke="#000" stroke-width="8" stroke-dasharray="7 2" stroke-linejoin="round"/>
<path d="M240.4,999.9 C239.8,1002 235.9,1005.8 236.9,1012.4 C237.9,1019.1 242.1,1030.9 246.1,1039.9 C250.2,1048.8 254.9,1059.8 261.1,1066.1 C267.4,1072.5 275.5,1075 283.6,1077.9 C291.7,1080.8 298.8,1082.2 309.8,1083.6 C320.9,1085.1 340.7,1084.9 349.8,1086.6 C359,1088.3 362.3,1092.4 364.8,1093.6" fill="none" stroke="#000" stroke-width="9" stroke-dasharray="7 2" stroke-linejoin="round"/>
<path d="M311.1,1086.9 C309.7,1090.3 303.5,1101.6 302.8,1107.3 C302.2,1113 302.8,1116.5 307.3,1121.1 C311.8,1125.7 323,1130.2 329.8,1134.8 C336.7,1139.4 343.9,1142.7 348.6,1148.6 C353.2,1154.4 356.6,1162.1 357.8,1169.8 C359.1,1177.5 359.3,1187.7 356.1,1194.8 C352.9,1201.9 345.6,1208.7 338.6,1212.3 C331.5,1215.8 323,1215 313.6,1216 C304.2,1217.1 292.1,1216.8 282.4,1218.5 C272.6,1220.2 262.8,1222.5 254.9,1226 C247,1229.5 240.3,1234.5 234.9,1239.7 C229.5,1244.9 224.5,1254.3 222.4,1257.2" fill="none" stroke="#000" stroke-width="9" stroke-dasharray="5 2" stroke-linejoin="round"/>
<path d="M239.9,999.9 C241.6,998.5 244.1,993.5 249.9,991.2 C255.7,988.9 269.1,985.4 274.9,986.2 C280.6,987 283.7,991.6 284.4,996.2 C285,1000.8 282.3,1008.7 278.6,1013.7 C275,1018.7 267.2,1023.4 262.4,1026.2 C257.5,1028.9 251.6,1029.7 249.4,1030.4" fill="none" stroke="#fff" stroke-width="6" stroke-linejoin="round"/>
<path d="M240.4,999.9 C239.8,1002 235.9,1005.8 236.9,1012.4 C237.9,1019.1 242.1,1030.9 246.1,1039.9 C250.2,1048.8 254.9,1059.8 261.1,1066.1 C267.4,1072.5 275.5,1075 283.6,1077.9 C291.7,1080.8 298.8,1082.2 309.8,1083.6 C320.9,1085.1 340.7,1084.9 349.8,1086.6 C359,1088.3 362.3,1092.4 364.8,1093.6" fill="none" stroke="#fff" stroke-width="7" stroke-linejoin="round"/>
<path d="M311.1,1086.9 C309.7,1090.3 303.5,1101.6 302.8,1107.3 C302.2,1113 302.8,1116.5 307.3,1121.1 C311.8,1125.7 323,1130.2 329.8,1134.8 C336.7,1139.4 343.9,1142.7 348.6,1148.6 C353.2,1154.4 356.6,1162.1 357.8,1169.8 C359.1,1177.5 359.3,1187.7 356.1,1194.8 C352.9,1201.9 345.6,1208.7 338.6,1212.3 C331.5,1215.8 323,1215 313.6,1216 C304.2,1217.1 292.1,1216.8 282.4,1218.5 C272.6,1220.2 262.8,1222.5 254.9,1226 C247,1229.5 240.3,1234.5 234.9,1239.7 C229.5,1244.9 224.5,1254.3 222.4,1257.2" fill="none" stroke="#fff" stroke-width="7" stroke-linejoin="round"/>
<path d="M209.9,1031.2 C211.6,1030.1 216.6,1026.2 219.9,1024.9 C223.2,1023.7 226.8,1023.2 229.9,1023.7 C233,1024.1 237.2,1026.8 238.6,1027.4" fill="none" stroke="#000" stroke-width="6" stroke-dasharray="5 2" stroke-linejoin="round"/>
<path d="M209.9,1031.2 C211.6,1030.1 216.6,1026.2 219.9,1024.9 C223.2,1023.7 226.8,1023.2 229.9,1023.7 C233,1024.1 237.2,1026.8 238.6,1027.4" fill="none" stroke="#fff" stroke-width="4" stroke-linejoin="round"/>
<path d="M171.2,1047.4 L182.4,1041.1 L194.9,1032.4 L203.7,1027.4 L212.4,1032.4 L213.7,1041.1 L204.9,1047.4 L179.9,1058.6 L171.2,1053.6 L171.2,1047.4" fill="none" stroke="#000" stroke-width="1" stroke-dasharray="6 2"/>
<path d="M171.2,1047.4 L181.2,1052.4 L179.9,1058.6" fill="none" stroke="#000" stroke-width="1" stroke-dasharray="4 2"/>
<path d="M181.2,1052.4 L204.9,1039.9 L213.7,1034.9" fill="none" stroke="#000" stroke-width="1" stroke-dasharray="4 2"/>
<path d="M182.4,1046.1 L196.2,1043.6" fill="none" stroke="#000" stroke-width="1.4"/>
<path d="M198.7,1028.7 L204.9,1047.4" fill="none" stroke="#000" stroke-width="1" stroke-dasharray="4 2"/>
<path d="M353.6,1093.6 L357.3,1089.9 L374.8,1098.6 L372.3,1106.1 L354.8,1097.4Z" fill="#fff" stroke="#000" stroke-width="1"/>
<ellipse cx="374" cy="1102.3" rx="2.5" ry="4.2" fill="#fff" stroke="#000" stroke-width="1" transform="rotate(15 374 1102.3)"/>
<path d="M369.8,1107.3 L369.8,1122.3" fill="none" stroke="#000" stroke-width="1" stroke-dasharray="4 2"/>
<path d="M377.8,1107.3 C377.5,1113.6 378.2,1135.9 376,1144.8 C373.9,1153.8 366.7,1158.3 364.8,1161.1" fill="none" stroke="#000" stroke-width="1" stroke-dasharray="4 2"/>
<path d="M349.8,1146.1 C351.5,1143.6 356.3,1134.6 359.8,1131.1 C363.3,1127.5 369.2,1125.9 371,1124.8" fill="none" stroke="#000" stroke-width="1"/>
<path d="M352.8,1149.8 C354.4,1147.5 359.1,1139.5 362.3,1136.1 C365.6,1132.7 370.6,1130.5 372.3,1129.3" fill="none" stroke="#000" stroke-width="1"/>
<path d="M359.8,1159.8 L362.3,1167.3 L369.8,1161.1 L367.3,1154.8" fill="none" stroke="#000" stroke-width="1"/>
<path d="M363.6,1154.8 L366.1,1162.3" fill="none" stroke="#000" stroke-width="1"/>
<ellipse cx="328.6" cy="1163.6" rx="10.5" ry="11" fill="#fff" stroke="#000" stroke-width="1" stroke-dasharray="4 2"/>
<path d="M319.8,1157.3 C319.8,1159 317.7,1164.5 319.3,1167.3 C321,1170.1 326.2,1174.3 329.8,1174.3 C333.4,1174.3 339.2,1168.5 341.1,1167.3" fill="none" stroke="#000" stroke-width="2"/>
<path d="M322.3,1154.8 L327.3,1153.6" fill="none" stroke="#000" stroke-width="1.4"/>
<path d="M323.6,1161.1 L331.1,1164.8" fill="none" stroke="#000" stroke-width="1.4"/>
<circle cx="333.6" cy="1157.3" r="1" fill="#000" stroke="#000" stroke-width="0.5"/>
<path d="M331.1,1174.8 C333.4,1174.2 341.3,1171.5 344.8,1171 C348.4,1170.6 351.1,1172.1 352.3,1172.3" fill="none" stroke="#000" stroke-width="1"/>
<path d="M334.8,1179.3 C336.9,1179 344.4,1178.3 347.3,1177.8 C350.2,1177.3 351.5,1176.3 352.3,1176" fill="none" stroke="#000" stroke-width="1"/>
<path d="M304.3,1182.3 L323.1,1172.8 L336.1,1180.3 L336.1,1190.8 L317.3,1200.3 L304.3,1192.8Z" fill="#fff" stroke="#000" stroke-width="1" stroke-dasharray="5 2"/>
<path d="M304.3,1182.3 L317.3,1189.8 L336.1,1180.3 M317.3,1189.8 L317.3,1200.3" fill="none" stroke="#000" stroke-width="1" stroke-dasharray="5 2"/>
<path d="M311.1,1221 C312,1223.7 315.2,1231.6 316.8,1237.2 C318.5,1242.9 320.4,1251.8 321.1,1254.7 C321.8,1257.7 321.1,1254.9 321.1,1254.9" fill="none" stroke="#000" stroke-width="8" stroke-dasharray="5 2" stroke-linejoin="round"/>
<path d="M311.1,1221 C312,1223.7 315.2,1231.6 316.8,1237.2 C318.5,1242.9 320.4,1251.8 321.1,1254.7 C321.8,1257.7 321.1,1254.9 321.1,1254.9" fill="none" stroke="#fff" stroke-width="6" stroke-linejoin="round"/>
<path d="M317.8,1254.4 L324.8,1254.4" fill="none" stroke="#000" stroke-width="1"/>
<path d="M320.3,1255.7 C320.6,1258.4 320,1266.7 321.8,1271.9 C323.6,1277.1 327.5,1283.9 331.1,1286.9 C334.7,1289.9 341.5,1289.4 343.6,1289.9" fill="none" stroke="#000" stroke-width="5.5" stroke-dasharray="9 2" stroke-linejoin="round"/>
<path d="M320.3,1255.7 C320.6,1258.4 320,1266.7 321.8,1271.9 C323.6,1277.1 327.5,1283.9 331.1,1286.9 C334.7,1289.9 341.5,1289.4 343.6,1289.9" fill="none" stroke="#fff" stroke-width="3.5" stroke-linejoin="round"/>
<path d="M334.8,1285.7 C336.3,1285.9 341.9,1286.1 343.6,1286.9 C345.2,1287.7 345.9,1289.6 344.8,1290.7 C343.8,1291.7 338.6,1292.7 337.3,1293.2" fill="none" stroke="#000" stroke-width="1"/>
<path d="M286.1,1306.9 L299.9,1298.1 L317.3,1288.2 L324.8,1290.7 L329.8,1298.1 L328.6,1305.6 L314.8,1311.9 L297.4,1321.4 L286.1,1315.6 L286.1,1306.9" fill="none" stroke="#000" stroke-width="1" stroke-dasharray="6 2"/>
<path d="M286.1,1306.9 L297.4,1313.1 L297.4,1321.4" fill="none" stroke="#000" stroke-width="1" stroke-dasharray="4 2"/>
<path d="M297.4,1313.1 L322.3,1301.9 L323.6,1294.4" fill="none" stroke="#000" stroke-width="1" stroke-dasharray="4 2"/>
<path d="M294.9,1304.4 L312.3,1306.9" fill="none" stroke="#000" stroke-width="1.4"/>
<path d="M299.9,1300.6 L309.8,1298.1" fill="none" stroke="#000" stroke-width="1.4"/>
<path d="M312.3,1296.9 L313.6,1313.1" fill="none" stroke="#000" stroke-width="1" stroke-dasharray="4 2"/>
<path d="M215.4,1259.4 L224.9,1261.9 L232.4,1260.7 L232.4,1278.2 L223.7,1283.2 L216.2,1279.4 L215.4,1259.4" fill="none" stroke="#000" stroke-width="1" stroke-dasharray="5 2"/>
<path d="M218.7,1269.4 L224.9,1269.4 L224.9,1283.2" fill="none" stroke="#000" stroke-width="1" stroke-dasharray="4 2"/>
<path d="M216.2,1258.2 L217.4,1261.9" fill="none" stroke="#000" stroke-width="1.6"/>
<path d="M220.4,1283.2 C218.9,1287.1 213.9,1298.4 211.2,1306.9 C208.5,1315.4 205,1327.1 204.2,1334.4 C203.3,1341.7 204.8,1346.8 206.2,1350.6 C207.5,1354.4 211.4,1356.2 212.4,1357.4" fill="none" stroke="#000" stroke-width="9" stroke-dasharray="5 2" stroke-linejoin="round"/>
<path d="M220.4,1283.2 C218.9,1287.1 213.9,1298.4 211.2,1306.9 C208.5,1315.4 205,1327.1 204.2,1334.4 C203.3,1341.7 204.8,1346.8 206.2,1350.6 C207.5,1354.4 211.4,1356.2 212.4,1357.4" fill="none" stroke="#fff" stroke-width="7" stroke-linejoin="round"/>
<path d="M208.7,1360.6 L219.9,1354.4 L233.6,1361.9 L236.1,1369.3 L231.2,1376.3 L209.9,1361.9" fill="none" stroke="#000" stroke-width="1" stroke-dasharray="5 2"/>
<path d="M213.7,1359.4 L228.7,1369.3 L229.9,1375.6" fill="none" stroke="#000" stroke-width="1" stroke-dasharray="4 2"/>
<path d="M222.4,1355.6 L233.6,1363.1" fill="none" stroke="#000" stroke-width="1.3"/>
<path d="M905.6,351.1 C908.1,354 915,363.4 920.6,368.6 C926.2,373.8 932.5,379.3 939.3,382.3 C946.2,385.4 953.9,386.6 961.8,386.8 C969.7,387.1 978.3,384.4 986.8,383.6 C995.3,382.8 1008.7,382.1 1013,381.8" fill="none" stroke="#000" stroke-width="8.5" stroke-dasharray="6 2.5" stroke-linejoin="round"/>
<path d="M905.6,351.1 C908.1,354 915,363.4 920.6,368.6 C926.2,373.8 932.5,379.3 939.3,382.3 C946.2,385.4 953.9,386.6 961.8,386.8 C969.7,387.1 978.3,384.4 986.8,383.6 C995.3,382.8 1008.7,382.1 1013,381.8" fill="none" stroke="#fff" stroke-width="6.5" stroke-linejoin="round"/>
<path d="M843.2,289.9 C845,289.9 850.4,288.7 854.4,289.9 C858.3,291.2 862.3,293.2 866.9,297.4 C871.5,301.6 876.9,307.8 881.9,314.9 C886.9,322 893.1,333.6 896.9,339.9 C900.6,346.1 903.1,350.3 904.4,352.4" fill="none" stroke="#000" stroke-width="1" stroke-dasharray="6 2.5"/>
<path d="M841.9,296.2 C844,296.6 850.6,297.2 854.4,298.7 C858.1,300.1 861.1,301.8 864.4,304.9 C867.7,308 870.6,312.4 874.4,317.4 C878.1,322.4 884.8,332 886.9,334.9" fill="none" stroke="#000" stroke-width="1" stroke-dasharray="6 2.5"/>
<path d="M809.4,312.4 C806.9,314.3 798.6,319.7 794.4,323.6 C790.3,327.6 785.8,332.6 784.4,336.1 C783.1,339.7 784.1,342.1 786.2,344.9 C788.3,347.7 791.6,350.4 796.9,352.9 C802.3,355.4 810.7,358.4 818.2,359.9 C825.7,361.3 833.8,361.5 841.9,361.6 C850,361.7 858.8,361.7 866.9,360.4 C875,359 884,356.5 890.6,353.6 C897.3,350.7 903.8,346 906.9,342.9 C909.9,339.8 909.7,337.7 908.9,334.9 C908,332.1 905.7,329 901.9,326.1 C898,323.3 890.8,319.9 885.6,317.9 C880.4,315.9 875.4,314.6 870.6,313.9 C865.8,313.2 859.2,313.9 856.9,313.9" fill="none" stroke="#000" stroke-width="6.5" stroke-dasharray="62 0 6 2.5 6 2.5 6 2.5 6 2.5 6 2.5 6 2.5 6 2.5 6 2.5 6 2.5 6 2.5 6 2.5 6 2.5 6 2.5 6 2.5 400 0" stroke-linejoin="round"/>
<path d="M809.4,312.4 C806.9,314.3 798.6,319.7 794.4,323.6 C790.3,327.6 785.8,332.6 784.4,336.1 C783.1,339.7 784.1,342.1 786.2,344.9 C788.3,347.7 791.6,350.4 796.9,352.9 C802.3,355.4 810.7,358.4 818.2,359.9 C825.7,361.3 833.8,361.5 841.9,361.6 C850,361.7 858.8,361.7 866.9,360.4 C875,359 884,356.5 890.6,353.6 C897.3,350.7 903.8,346 906.9,342.9 C909.9,339.8 909.7,337.7 908.9,334.9 C908,332.1 905.7,329 901.9,326.1 C898,323.3 890.8,319.9 885.6,317.9 C880.4,315.9 875.4,314.6 870.6,313.9 C865.8,313.2 859.2,313.9 856.9,313.9" fill="none" stroke="#fff" stroke-width="4.5" stroke-linejoin="round"/>
<path d="M826.9,291.7 C824.8,293.2 817.3,297.9 814.4,301.2 C811.5,304.4 810.3,309.5 809.4,311.2" fill="none" stroke="#000" stroke-width="5.5" stroke-linejoin="round"/>
<path d="M826.9,291.7 C824.8,293.2 817.3,297.9 814.4,301.2 C811.5,304.4 810.3,309.5 809.4,311.2" fill="none" stroke="#fff" stroke-width="3.5" stroke-linejoin="round"/>
<path d="M891.9,321.1 L905.6,339.9" fill="none" stroke="#000" stroke-width="1"/>
<path d="M823.2,282.4 L829.4,277.4 L840.7,275.4 L841.9,289.9 L828.9,292.4 L828.2,286.2 L823.2,282.4" fill="none" stroke="#000" stroke-width="1" stroke-dasharray="5 2"/>
<path d="M825.7,281.2 L840.7,277.4" fill="none" stroke="#000" stroke-width="1.5"/>
<path d="M828.9,286.2 L841.4,282.9" fill="none" stroke="#000" stroke-width="1" stroke-dasharray="4 2"/>
<path d="M828.2,286.2 L828.2,297.4" fill="none" stroke="#000" stroke-width="1.3"/>
<path d="M813.2,329.9 L829.4,318.6 L844.4,309.9 L855.6,313.6 L857.4,323.6 L841.9,333.6 L823.2,343.6 L813.2,338.6 L813.2,329.9" fill="none" stroke="#000" stroke-width="1" stroke-dasharray="6 2"/>
<path d="M813.2,329.9 L823.7,334.9 L823.2,343.6" fill="none" stroke="#000" stroke-width="1" stroke-dasharray="4 2"/>
<path d="M823.7,334.9 L856.9,317.4" fill="none" stroke="#000" stroke-width="1" stroke-dasharray="4 2"/>
<path d="M829.4,319.9 L836.9,324.9 L851.9,316.1" fill="none" stroke="#000" stroke-width="1" stroke-dasharray="4 2"/>
<path d="M839.4,324.9 L840.7,334.9" fill="none" stroke="#000" stroke-width="1" stroke-dasharray="4 2"/>
<path d="M831.9,321.1 L844.4,327.4" fill="none" stroke="#000" stroke-width="1.4"/>
<path d="M836.9,316.1 L849.4,314.9" fill="none" stroke="#000" stroke-width="1.4"/>
<path d="M839.4,327.4 L839.9,332.9" fill="none" stroke="#000" stroke-width="1.6"/>
<path d="M1024.3,361.5 C1023.3,363.1 1020,368 1018.7,371.6 C1017.3,375.1 1017.2,380.2 1016.4,382.8 C1015.7,385.4 1014.5,386.6 1014.2,387.3" fill="none" stroke="#000" stroke-width="1" stroke-dasharray="6 2.5"/>
<path d="M1014.2,387.3 C1015.3,388.1 1018.3,390.6 1020.9,391.8 C1023.5,393 1026.7,394.2 1029.9,394.6 C1033.1,395 1038.3,394.1 1040,394" fill="none" stroke="#000" stroke-width="1.3" stroke-dasharray="8 3"/>
<path d="M1043.4,356.4 C1043.2,361 1043.1,377.5 1042.5,383.9 C1041.8,390.4 1039.9,393.3 1039.4,395.2" fill="none" stroke="#000" stroke-width="1" stroke-dasharray="6 2.5"/>
<path d="M1059.1,354.2 C1058.9,356.5 1058.5,364 1058,368.2 C1057.4,372.4 1056.1,375.9 1055.7,379.4 C1055.4,383 1054.6,385.8 1055.7,389.6 C1056.9,393.3 1061.3,399.9 1062.5,401.9" fill="none" stroke="#000" stroke-width="1" stroke-dasharray="6 2.5"/>
<path d="M1013,388.4 C1011.9,389.2 1008,390.7 1006.3,392.9 C1004.6,395.2 1003.7,397.4 1002.9,401.9 C1002.2,406.4 1002.1,413.1 1001.8,419.9 C1001.5,426.6 1001,433.9 1001.2,442.4 C1001.5,450.8 1003.1,465.8 1003.5,470.4" fill="none" stroke="#000" stroke-width="1" stroke-dasharray="6 2.5"/>
<path d="M1003.5,470.4 L1003.5,504 L1003,562.4" fill="none" stroke="#000" stroke-width="1" stroke-dasharray="12 4"/>
<path d="M1014.2,388.4 C1013.4,390.7 1010.8,396.7 1009.7,401.9 C1008.5,407.2 1008.2,415 1007.4,419.9 C1006.7,424.8 1006.3,427.4 1005.2,431.1 C1004,434.9 1001.8,436.7 1000.7,442.4 C999.6,448 999,459.4 998.4,464.8 C997.9,470.3 997.5,473.3 997.3,474.9" fill="none" stroke="#000" stroke-width="1" stroke-dasharray="6 2.5"/>
<path d="M992.2,425.5 L1004,432.2 L1006.3,422.1" fill="none" stroke="#000" stroke-width="1" stroke-dasharray="6 2.5"/>
<path d="M989.4,432.2 L987.2,449.1 L987.2,469.3 L997.3,475.5" fill="none" stroke="#000" stroke-width="1" stroke-dasharray="6 2.5"/>
<path d="M990,431.7 L989.4,437.9 L996.2,439.6" fill="none" stroke="#000" stroke-width="1.8"/>
<path d="M988.3,451.3 L993.9,453.6" fill="none" stroke="#000" stroke-width="1" stroke-dasharray="4 2"/>
<path d="M999.6,453.6 L1001.2,468.2" fill="none" stroke="#000" stroke-width="1" stroke-dasharray="4 2"/>
<path d="M1031,400.8 L1031.2,443.5" fill="none" stroke="#000" stroke-width="1" stroke-dasharray="6 2.5"/>
<path d="M1036.6,401.9 L1036.4,443.5" fill="none" stroke="#000" stroke-width="1" stroke-dasharray="6 2.5"/>
<path d="M1023.1,444.6 L1029.9,442.4 L1041.1,443.5 L1042.2,454.7 L1038.9,473.8 L1035.5,486.2 L1025.4,489.6 L1018.7,485.1 L1018.7,464.8 L1020.9,452.5 L1023.1,444.6" fill="none" stroke="#000" stroke-width="1" stroke-dasharray="6 2.5"/>
<path d="M1020.9,453.6 L1029.9,459.2 L1041.7,455.8" fill="none" stroke="#000" stroke-width="1" stroke-dasharray="4 2"/>
<path d="M1028.8,460.3 L1025.4,488.4" fill="none" stroke="#000" stroke-width="1" stroke-dasharray="6 2.5"/>
<path d="M1019.8,468.2 L1027.6,473.3 L1040,468.2" fill="none" stroke="#000" stroke-width="1" stroke-dasharray="4 2"/>
<path d="M1029.9,457 L1037.8,454.7" fill="none" stroke="#000" stroke-width="1.8"/>
<path d="M1032.1,451.3 L1038.9,449.1" fill="none" stroke="#000" stroke-width="1.4"/>
<path d="M1031.6,466 L1035.5,464.8" fill="none" stroke="#000" stroke-width="1.4"/>
<path d="M1043.4,401.9 C1044.1,403.4 1046.4,407.7 1047.9,410.9 C1049.4,414.1 1051.6,419.3 1052.4,421" fill="none" stroke="#000" stroke-width="1" stroke-dasharray="6 2.5"/>
<path d="M1028.8,494 L1041.1,501.9" fill="none" stroke="#000" stroke-width="1" stroke-dasharray="6 2.5"/>
<path d="M1042.2,488.4 L1060.2,504" fill="none" stroke="#000" stroke-width="1" stroke-dasharray="6 2.5"/>
<path d="M1031.6,495.2 L1031.6,504 L1031.8,582.4" fill="none" stroke="#000" stroke-width="1" stroke-dasharray="12 4"/>
<path d="M838.2,552.4 C844.2,551.3 862.1,547.3 874.4,545.5 C886.7,543.6 897.3,541.5 911.9,541.2 C926.4,540.9 946.8,540.2 961.8,543.7 C976.8,547.2 995.1,559.3 1001.8,562.4" fill="none" stroke="#000" stroke-width="1" stroke-dasharray="12 4"/>
<path d="M821.9,597.4 C826.9,595.3 836.9,588.3 851.9,584.9 C866.9,581.6 895.2,578.5 911.9,577.4 C928.5,576.4 941,576.2 951.8,578.7 C962.6,581.2 968.9,588 976.8,592.4 C984.7,596.8 995.5,602.8 999.3,604.9" fill="none" stroke="#000" stroke-width="1" stroke-dasharray="12 4"/>
<path d="M999.3,604.9 L1068,642.4" fill="none" stroke="#000" stroke-width="1" stroke-dasharray="12 4"/>
<path d="M1029.3,583.7 L1068,602.4" fill="none" stroke="#000" stroke-width="1" stroke-dasharray="12 4"/>
<path d="M1001.8,589.9 L1006.8,597.4 L1003,607.4" fill="none" stroke="#000" stroke-width="1" stroke-dasharray="4 2"/>
<path d="M1019.3,480 C1020.1,481.7 1021.4,489.2 1024.3,490 C1027.2,490.8 1034.7,486.7 1036.8,485 C1038.8,483.3 1036.8,480.8 1036.8,480" fill="none" stroke="#000" stroke-width="1" stroke-dasharray="6 2.5"/>
<path d="M1029.3,492.5 L1044.3,487.5 L1068,505" fill="none" stroke="#000" stroke-width="1" stroke-dasharray="6 2.5"/>
<path d="M1036.8,492.5 L1068,512.5" fill="none" stroke="#000" stroke-width="1" stroke-dasharray="6 2.5"/>
<path d="M1002.9,263.4 C1003.1,267.2 1003.2,279 1003.6,286.2 C1004,293.4 1004.8,300.1 1005.5,306.4 C1006.1,312.8 1007.1,321.2 1007.4,324.1" fill="none" stroke="#000" stroke-width="1" stroke-dasharray="6 2.5"/>
<path d="M1007.4,324.1 L1008.6,333 L1018.1,348.2 L1030.8,367.1" fill="none" stroke="#000" stroke-width="1"/>
<path d="M1025.7,269.7 C1024.9,272.5 1021.4,280.1 1020.7,286.2 C1019.9,292.3 1020.7,300.1 1021.3,306.4 C1021.9,312.8 1022.9,318 1024.4,324.1 C1026,330.2 1028,337.6 1030.8,343.1 C1033.5,348.6 1039.2,354.7 1040.9,357" fill="none" stroke="#000" stroke-width="1" stroke-dasharray="6 2.5"/>
<path d="M1010.5,266 C1009.7,268.9 1006.2,278.2 1005.5,283.7 C1004.7,289.1 1006,296.3 1006.1,298.8" fill="none" stroke="#000" stroke-width="1" stroke-dasharray="6 2.5"/>
<path d="M1006.7,326.7 L1009.3,331.7 L1007.4,333.6" fill="none" stroke="#000" stroke-width="1" stroke-dasharray="4 2"/>
<path d="M980.2,379.2 C982.9,378.8 990.7,377.4 996.6,377.3 C1002.5,377.2 1011,381.1 1015.6,378.5 C1020.2,376 1023,364.8 1024.4,362.1" fill="none" stroke="#000" stroke-width="1" stroke-dasharray="6 2.5"/>
<path d="M1024.4,362.1 L1030.8,367.1" fill="none" stroke="#000" stroke-width="1" stroke-dasharray="6 2.5"/>
<path d="M1042.4,355.8 L1042.4,380.9" fill="none" stroke="#000" stroke-width="1" stroke-dasharray="6 2.5"/>
<path d="M1058.9,354.5 L1058,380.9" fill="none" stroke="#000" stroke-width="1" stroke-dasharray="6 2.5"/>
<path d="M1056.1,380.9 L1066.2,373.5 L1075,378.5" fill="none" stroke="#000" stroke-width="1" stroke-dasharray="6 2.5"/>
<path d="M1063.7,331.7 C1065.1,333 1069.4,337.3 1072.5,339.3 C1075.7,341.3 1079.5,343.3 1082.6,343.7 C1085.8,344.2 1086.2,343.6 1091.5,341.8 C1096.8,340.1 1110.5,334.5 1114.3,333" fill="none" stroke="#000" stroke-width="1" stroke-dasharray="6 2.5"/>
<path d="M1061.1,354.5 C1062.6,355.4 1066.4,358.8 1070,360.2 C1073.6,361.6 1077.8,363 1082.6,362.7 C1087.5,362.4 1093.4,360.1 1099.1,358.3 C1104.8,356.5 1112.6,353.5 1116.8,352 C1121,350.4 1123.1,349.3 1124.4,348.8" fill="none" stroke="#000" stroke-width="1" stroke-dasharray="6 2.5"/>
<path d="M1033.9,341.8 C1034.3,343.1 1033.6,347.2 1035.8,349.4 C1038,351.6 1043.4,354.4 1047.2,355.1 C1051,355.9 1055.9,354.8 1058.6,353.9 C1061.3,352.9 1062.8,352.9 1063.7,349.4 C1064.5,346 1063.7,335.7 1063.7,333" fill="none" stroke="#000" stroke-width="1" stroke-dasharray="8 2"/>
<path d="M1024.4,298.8 C1024,300.9 1021.7,306.2 1021.9,311.5 C1022.1,316.8 1023.7,325.4 1025.7,330.5 C1027.7,335.5 1032.6,339.9 1033.9,341.8" fill="none" stroke="#000" stroke-width="1" stroke-dasharray="6 2.5"/>
<path d="M1025.1,312.8 L1029.5,331.7 L1027,333 L1022.6,314" fill="none" stroke="#000" stroke-width="1"/>
<path d="M1025.7,298.8 L1030.8,296.9 L1037.1,297.6 L1053.5,305.2 L1066.2,304.5 L1068.7,310.2 L1067.5,319.1 L1061.1,325.4" fill="none" stroke="#000" stroke-width="1" stroke-dasharray="7 2"/>
<path d="M1040.9,295 L1046,293.1 L1066.2,303.3" fill="none" stroke="#000" stroke-width="1" stroke-dasharray="4 2"/>
<path d="M1025.1,308.3 L1032,306.4 L1032,303.3 L1035.8,304.5 L1037.1,316.5 L1040.9,321.6" fill="none" stroke="#000" stroke-width="1.3"/>
<path d="M1030.1,302.6 L1034.6,304.5" fill="none" stroke="#000" stroke-width="1.3"/>
<path d="M1046.6,310.2 L1052.3,311.5 L1058.6,310.2" fill="none" stroke="#000" stroke-width="1.5"/>
<path d="M1053.5,315.3 L1061.1,318.4" fill="none" stroke="#000" stroke-width="1.5"/>
<path d="M1055.4,310.2 L1058,312.8" fill="none" stroke="#000" stroke-width="2"/>
<path d="M1055.4,316.5 L1057.3,314.6" fill="none" stroke="#000" stroke-width="2"/>
<path d="M1062.4,307.1 L1066.2,305.2 L1068.1,307.7" fill="none" stroke="#000" stroke-width="1.3"/>
<path d="M1035.8,324.1 C1036.7,323.8 1039.2,322.8 1040.9,322.2 C1042.6,321.7 1045.1,321.2 1046,321" fill="none" stroke="#000" stroke-width="1.3"/>
<path d="M1043.4,327.9 L1043.4,338.7" fill="none" stroke="#000" stroke-width="1.3"/>
<path d="M1059.6,327.3 L1059.6,337.4" fill="none" stroke="#000" stroke-width="1.3"/>
<path d="M1043.4,338.7 C1044.7,339.1 1048.3,341.4 1051,341.2 C1053.7,341 1058.2,338 1059.6,337.4" fill="none" stroke="#000" stroke-width="2"/>
<path d="M1043.4,331.7 C1044.7,332.1 1048.3,334.5 1051,334.3 C1053.7,334 1058.2,331.1 1059.6,330.5" fill="none" stroke="#000" stroke-width="1"/>
<path d="M1043.4,327.9 C1044.7,327.2 1048.3,323.6 1051,323.5 C1053.7,323.4 1058.2,326.7 1059.6,327.3" fill="none" stroke="#000" stroke-width="1"/>
<path d="M1054.8,322.2 L1057.3,326.7" fill="none" stroke="#000" stroke-width="2.2"/>
<path d="M1060.5,330.5 L1063,336.8" fill="none" stroke="#000" stroke-width="1.6"/>
<path d="M1034.6,333 L1038.4,327.9 L1037.7,325.4" fill="none" stroke="#000" stroke-width="1"/>
<path d="M1033.9,332.4 L1040.9,335.5" fill="none" stroke="#000" stroke-width="1"/>
<path d="M981.2,197.6 L991.8,191.1 L1007.8,199.9 L1007.8,222.1 L997.3,229 L981.2,221Z" fill="#fff" stroke="#000" stroke-width="1" stroke-dasharray="6 2.5"/>
<path d="M981.2,197.6 L997.3,206.2 L1007.8,199.9 M997.3,206.2 L997.3,229" fill="none" stroke="#000" stroke-width="1" stroke-dasharray="6 2.5"/>
<path d="M1019.4,197.6 L1030.1,191.1 L1047,199.9 L1047,222.7 L1035.2,224.8 L1019.4,219.2Z" fill="#fff" stroke="#000" stroke-width="1" stroke-dasharray="6 2.5"/>
<path d="M1019.4,197.6 L1035.2,205.9 L1047,199.9 M1035.2,205.9 L1035.2,224.8" fill="none" stroke="#000" stroke-width="1" stroke-dasharray="6 2.5"/>
<path d="M999.8,208.4 L1008,202.7 L1027,211.8 L1027,227 L1015.6,239.4 L999.8,231.8Z" fill="#fff" stroke="#000" stroke-width="1" stroke-dasharray="6 2.5"/>
<path d="M999.8,208.4 L1015.6,217.3 L1027,211.8 M1015.6,217.3 L1015.6,239.4" fill="none" stroke="#000" stroke-width="1" stroke-dasharray="6 2.5"/>
<path d="M1061.4,221.7 L1071,215.6 L1087.9,224.5 L1087.9,235.8 L1076.3,245.1 L1061.4,234.3Z" fill="#fff" stroke="#000" stroke-width="1" stroke-dasharray="6 2.5"/>
<path d="M1061.4,221.7 L1076.3,229.9 L1087.9,224.5 M1076.3,229.9 L1076.3,245.1" fill="none" stroke="#000" stroke-width="1" stroke-dasharray="6 2.5"/>
<path d="M982.1,207.8 L982.1,211.6" fill="none" stroke="#000" stroke-width="1.6"/>
<path d="M982.1,209.7 L984.9,208.4" fill="none" stroke="#000" stroke-width="1.4"/>
<path d="M982.3,209.7 L984.9,211.3" fill="none" stroke="#000" stroke-width="1.4"/>
<path d="M987.8,210.9 L990.9,211.6 L990.9,214.7" fill="none" stroke="#000" stroke-width="1.4"/>
<path d="M989,218.5 L989,223.6" fill="none" stroke="#000" stroke-width="1.6"/>
<path d="M991.2,219.8 L991.2,224.2" fill="none" stroke="#000" stroke-width="1.6"/>
<path d="M1000.4,218.5 L1000.4,222.3" fill="none" stroke="#000" stroke-width="1.6"/>
<path d="M1000.4,220.4 L1003.2,219.2" fill="none" stroke="#000" stroke-width="1.4"/>
<path d="M1000.7,220.4 L1003.2,222.1" fill="none" stroke="#000" stroke-width="1.4"/>
<path d="M1006.1,221.7 L1009.3,222.3 L1009.3,225.5" fill="none" stroke="#000" stroke-width="1.4"/>
<path d="M1007.4,229.3 L1007.4,234.3" fill="none" stroke="#000" stroke-width="1.6"/>
<path d="M1009.5,230.5 L1009.5,235" fill="none" stroke="#000" stroke-width="1.6"/>
<path d="M1020.7,223.4 L1020.7,236.5" fill="none" stroke="#000" stroke-width="1"/>
<path d="M1022.6,226.1 L1022.6,231.5" fill="none" stroke="#000" stroke-width="1.5"/>
<path d="M1024.5,232.9 L1024.5,238" fill="none" stroke="#000" stroke-width="1"/>
<path d="M1026.4,226 L1026.4,241.4" fill="none" stroke="#000" stroke-width="1"/>
<path d="M1028.3,228.9 L1028.3,233.4" fill="none" stroke="#000" stroke-width="1.5"/>
<path d="M1030.3,236.8 L1030.3,243.6" fill="none" stroke="#000" stroke-width="1"/>
<path d="M1032.2,230.5 L1032.2,242.1" fill="none" stroke="#000" stroke-width="1"/>
<path d="M1034.1,232.8 L1034.1,236.1" fill="none" stroke="#000" stroke-width="1.5"/>
<path d="M1036,238.9 L1036,249.1" fill="none" stroke="#000" stroke-width="1"/>
<path d="M1038,232.9 L1038,246.8" fill="none" stroke="#000" stroke-width="1"/>
<path d="M1039.9,235.9 L1039.9,238.8" fill="none" stroke="#000" stroke-width="1.5"/>
<path d="M1041.8,242.2 L1041.8,250.3" fill="none" stroke="#000" stroke-width="1"/>
<path d="M1043.7,235.5 L1043.7,245.3" fill="none" stroke="#000" stroke-width="1"/>
<path d="M1045.6,239.4 L1045.6,243.1" fill="none" stroke="#000" stroke-width="1.5"/>
<path d="M1047.6,245.1 L1047.6,255.1" fill="none" stroke="#000" stroke-width="1"/>
<path d="M1049.5,239.3 L1049.5,253.9" fill="none" stroke="#000" stroke-width="1"/>
<path d="M1051.4,241.2 L1051.4,247.2" fill="none" stroke="#000" stroke-width="1.5"/>
<path d="M1053.3,247.4 L1053.3,258.5" fill="none" stroke="#000" stroke-width="1"/>
<path d="M1055.3,242.6 L1055.3,251.7" fill="none" stroke="#000" stroke-width="1"/>
<path d="M1057.2,243.5 L1057.2,248.3" fill="none" stroke="#000" stroke-width="1.5"/>
<path d="M1059.1,251.7 L1059.1,258.3" fill="none" stroke="#000" stroke-width="1"/>
<path d="M1061,245.1 L1061,256" fill="none" stroke="#000" stroke-width="1"/>
<path d="M1063,247.5 L1063,251.9" fill="none" stroke="#000" stroke-width="1.5"/>
<path d="M1064.9,253.2 L1064.9,262.3" fill="none" stroke="#000" stroke-width="1"/>
<path d="M1066.8,248 L1066.8,262.8" fill="none" stroke="#000" stroke-width="1"/>
<path d="M1068.7,250.9 L1068.7,256.6" fill="none" stroke="#000" stroke-width="1.5"/>
<path d="M1070.6,257.4 L1070.6,267.9" fill="none" stroke="#000" stroke-width="1"/>
<path d="M1072.6,251.2 L1072.6,261.1" fill="none" stroke="#000" stroke-width="1"/>
<path d="M1074.5,254.4 L1074.5,259.7" fill="none" stroke="#000" stroke-width="1.5"/>
<path d="M1076.4,260.6 L1076.4,268.2" fill="none" stroke="#000" stroke-width="1"/>
<path d="M1078.3,254.3 L1078.3,264.4" fill="none" stroke="#000" stroke-width="1"/>
<path d="M1021.9,224.9 L1025.5,226.8" fill="none" stroke="#000" stroke-width="1.2"/>
<path d="M1022.6,237.5 L1025.7,239.3" fill="none" stroke="#000" stroke-width="1"/>
<path d="M1027.6,227.8 L1031.2,229.7" fill="none" stroke="#000" stroke-width="1.2"/>
<path d="M1028.2,240.5 L1031.4,242.2" fill="none" stroke="#000" stroke-width="1"/>
<path d="M1033.3,230.8 L1036.8,232.7" fill="none" stroke="#000" stroke-width="1.2"/>
<path d="M1033.9,243.4 L1037.1,245.2" fill="none" stroke="#000" stroke-width="1"/>
<path d="M1039,233.7 L1042.5,235.6" fill="none" stroke="#000" stroke-width="1.2"/>
<path d="M1039.6,246.4 L1042.8,248.2" fill="none" stroke="#000" stroke-width="1"/>
<path d="M1044.7,236.7 L1048.2,238.6" fill="none" stroke="#000" stroke-width="1.2"/>
<path d="M1045.3,249.4 L1048.5,251.1" fill="none" stroke="#000" stroke-width="1"/>
<path d="M1050.4,239.7 L1053.9,241.6" fill="none" stroke="#000" stroke-width="1.2"/>
<path d="M1051,252.3 L1054.2,254.1" fill="none" stroke="#000" stroke-width="1"/>
<path d="M1056.1,242.6 L1059.6,244.5" fill="none" stroke="#000" stroke-width="1.2"/>
<path d="M1056.7,255.3 L1059.9,257" fill="none" stroke="#000" stroke-width="1"/>
<path d="M1061.8,245.6 L1065.3,247.5" fill="none" stroke="#000" stroke-width="1.2"/>
<path d="M1062.4,258.2 L1065.6,260" fill="none" stroke="#000" stroke-width="1"/>
<path d="M1067.5,248.5 L1071,250.4" fill="none" stroke="#000" stroke-width="1.2"/>
<path d="M1068.1,261.2 L1071.2,263" fill="none" stroke="#000" stroke-width="1"/>
<path d="M1073.1,251.5 L1076.7,253.4" fill="none" stroke="#000" stroke-width="1.2"/>
<path d="M1073.8,264.2 L1076.9,265.9" fill="none" stroke="#000" stroke-width="1"/>
<path d="M1019.4,221.7 L1047.2,235.6 L1078.8,252" fill="none" stroke="#000" stroke-width="1" stroke-dasharray="4 2"/>
<path d="M1061.1,236.9 L1086.4,248.2 L1088.3,250.8 L1088.3,266 L1083.9,271" fill="none" stroke="#000" stroke-width="1" stroke-dasharray="6 2.5"/>
<path d="M1078.8,240.7 L1083.9,238.1 L1087.7,245.7" fill="none" stroke="#000" stroke-width="1" stroke-dasharray="4 2"/>
<path d="M1008,238.1 C1006.2,239.3 999.5,242.7 997.3,245.1 C995,247.5 994.2,250.2 994.3,252.7 C994.5,255.1 995.9,257.9 998.1,259.6 C1000.4,261.4 1004.5,261.9 1008,263.2 C1011.5,264.4 1013.5,264.6 1019.4,267.2 C1025.3,269.8 1039.4,276.7 1043.4,278.6" fill="none" stroke="#000" stroke-width="1"/>
<path d="M1010.5,240 C1009.1,241.1 1003.5,244.2 1001.7,246.3 C999.8,248.5 999.3,250.7 999.4,252.7 C999.5,254.7 1000.2,257 1002.3,258.4 C1004.4,259.7 1010.2,260.5 1011.8,260.9" fill="none" stroke="#000" stroke-width="1"/>
<path d="M1013.7,241.9 C1012.4,242.9 1007.7,245.7 1006.1,247.6 C1004.5,249.5 1004.1,251.6 1004.2,253.3 C1004.3,255 1005.4,256.8 1006.7,257.7 C1008.1,258.7 1011.5,258.8 1012.4,259" fill="none" stroke="#000" stroke-width="1"/>
<path d="M1024.4,245.7 C1023.2,246.3 1018.7,247.8 1016.9,249.5 C1015.1,251.2 1013.9,253.7 1013.7,255.8 C1013.5,257.9 1013.8,260.5 1015.6,262.2 C1017.4,263.8 1019.4,263.8 1024.4,266 C1029.5,268.1 1042.4,273.3 1046,274.8" fill="none" stroke="#000" stroke-width="1"/>
<path d="M1027,248.2 C1025.8,248.9 1021.5,250.6 1020,252 C1018.5,253.5 1018,255.6 1018.1,257.1 C1018.2,258.6 1019.2,259.8 1020.7,260.9 C1022.1,261.9 1025.9,263 1027,263.4" fill="none" stroke="#000" stroke-width="1"/>
<path d="M1028.2,252 C1027.4,252.5 1024.1,253.4 1023.2,254.6 C1022.2,255.7 1021.7,257.9 1022.6,259 C1023.4,260 1027.3,260.6 1028.2,260.9" fill="none" stroke="#000" stroke-width="1"/>
<path d="M1028.2,255.8 L1042.2,262.2" fill="none" stroke="#000" stroke-width="1" stroke-dasharray="4 2"/>
<path d="M1025.7,268.5 L1044.7,276.7" fill="none" stroke="#000" stroke-width="1" stroke-dasharray="4 2"/>
<path d="M1030.8,273.5 L1043.4,279.2" fill="none" stroke="#000" stroke-width="1.3"/>
<path d="M1049.7,263.4 C1049.3,265.5 1047.4,271.9 1047.2,276.1 C1047,280.3 1047.4,285.9 1048.5,288.7 C1049.5,291.6 1051.7,292.3 1053.5,293.1 C1055.3,294 1058.3,293.9 1059.2,294" fill="none" stroke="#000" stroke-width="1"/>
<path d="M1054.8,266 C1054.3,268.1 1052,275.2 1051.6,278.6 C1051.3,282 1052,284.3 1052.9,286.2 C1053.9,288.1 1056.6,289.4 1057.3,290" fill="none" stroke="#000" stroke-width="1"/>
<path d="M1052.9,282.4 L1066.2,271" fill="none" stroke="#000" stroke-width="1"/>
<path d="M1059.2,293.8 C1060.2,292.3 1063.8,288.3 1064.9,284.9 C1066.1,281.6 1066,275.4 1066.2,273.5" fill="none" stroke="#000" stroke-width="1"/>
<path d="M1070,267.2 C1069.7,269.1 1068.7,275.2 1068.1,278.6 C1067.5,282 1066.5,286 1066.2,287.5" fill="none" stroke="#000" stroke-width="1"/>
<path d="M1073.8,268.5 C1073.6,270.4 1072.7,276.5 1072.5,279.9 C1072.3,283.2 1072.5,287.2 1072.5,288.7" fill="none" stroke="#000" stroke-width="1"/>
<path d="M1064.9,290 C1064.8,291 1063.7,294.7 1064.3,296.3 C1064.9,297.9 1067.1,299.3 1068.7,299.5 C1070.3,299.7 1072.7,298.9 1073.8,297.6 C1074.8,296.2 1074.8,292.3 1075,291.2" fill="none" stroke="#000" stroke-width="1"/>
<path d="M1064.9,290 L1075,290.6" fill="none" stroke="#000" stroke-width="1.6"/>
<path d="M1076.3,273.5 C1076.7,276.1 1077.6,283.7 1078.8,288.7 C1080.1,293.8 1083.1,301.4 1083.9,303.9" fill="none" stroke="#000" stroke-width="1"/>
<path d="M1079.5,282.4 C1080.4,285.1 1083.7,294.8 1085.2,298.8 C1086.6,302.8 1087.8,305.2 1088.3,306.4" fill="none" stroke="#000" stroke-width="1"/>
<path d="M1082.6,273.5 L1081.4,276.1 L1083.3,281.1 L1090.2,282.4" fill="none" stroke="#000" stroke-width="1"/>
<path d="M1090.2,296.3 L1089.6,303.3 L1101,300.7" fill="none" stroke="#000" stroke-width="1"/>
<path d="M1083.9,304.5 L1082.6,317.8 L1086.4,321.6 L1092.8,321 L1094,319.1 L1102.2,319.7" fill="none" stroke="#000" stroke-width="1"/>
<path d="M1083.3,314 L1091.5,312.8" fill="none" stroke="#000" stroke-width="1"/>
<ellipse cx="1089" cy="308.3" rx="1.6" ry="3.2" fill="none" stroke="#000" stroke-width="1"/>
<path d="M1101,222.9 L1102.2,227.4 L1105.4,228" fill="none" stroke="#000" stroke-width="2"/>
<path d="M1103.5,224.2 L1106,225.5" fill="none" stroke="#000" stroke-width="1.6"/>
<path d="M1101,231.8 L1106.7,235 L1101,240.7 L1105.4,244.4" fill="none" stroke="#000" stroke-width="1" stroke-dasharray="4 2"/>
<path d="M1088.3,230.5 L1089.6,236.9" fill="none" stroke="#000" stroke-width="1.3"/>
<path d="M1089.6,233.7 L1095.3,231.8" fill="none" stroke="#000" stroke-width="1.3"/>
<path d="M1101.5,233.1 L1137.6,211.4 L1169.8,229.7 L1169.8,244.9 L1133.1,255.7 L1101.5,237.6Z" fill="#fff" stroke="#000" stroke-width="1" stroke-dasharray="6 2.5"/>
<path d="M1101.5,233.1 L1133.1,250.6 L1169.8,229.7 M1133.1,250.6 L1133.1,255.7" fill="none" stroke="#000" stroke-width="1" stroke-dasharray="6 2.5"/>
<path d="M1111.6,243 L1134.4,231.6" fill="none" stroke="#000" stroke-width="1" stroke-dasharray="6 2.5"/>
<path d="M1114.2,248.7 L1139.4,236.7" fill="none" stroke="#000" stroke-width="1" stroke-dasharray="6 2.5"/>
<path d="M1111.6,243 L1113.1,248.1" fill="none" stroke="#000" stroke-width="1" stroke-dasharray="4 2"/>
<path d="M1124.3,220.2 L1154.6,236.7" fill="none" stroke="#000" stroke-width="1.2"/>
<path d="M1126.8,218.3 L1157.2,234.8" fill="none" stroke="#000" stroke-width="1" stroke-dasharray="4 2"/>
<path d="M1123,222.1 L1133.1,227.2" fill="none" stroke="#000" stroke-width="1.6"/>
<path d="M1143.2,231 L1154,236.7" fill="none" stroke="#000" stroke-width="1.6"/>
<ellipse cx="1137.6" cy="231" rx="3.6" ry="4.8" fill="none" stroke="#000" stroke-width="1.8" transform="rotate(-30 1137.6 231)"/>
<path d="M1142,250.6 L1159.7,241.7" fill="none" stroke="#000" stroke-width="1" stroke-dasharray="4 2"/>
<path d="M1148.9,253.8 L1159.1,248.7" fill="none" stroke="#000" stroke-width="1" stroke-dasharray="4 2"/>
<path d="M1158.2,234.8 L1159.9,236.7" fill="none" stroke="#000" stroke-width="1.5"/>
<path d="M1157.4,241.1 L1159.7,240.2" fill="none" stroke="#000" stroke-width="1.5"/>
<path d="M1145.8,260.7 L1167.3,246.2 L1202.7,265.1 L1202.7,272.7 L1175.5,282.8 L1145.8,265.8Z" fill="#fff" stroke="#000" stroke-width="1" stroke-dasharray="6 2.5"/>
<path d="M1145.8,260.7 L1175.5,278.4 L1202.7,265.1 M1175.5,278.4 L1175.5,282.8" fill="none" stroke="#000" stroke-width="1" stroke-dasharray="6 2.5"/>
<path d="M1154.6,268.3 L1176.1,256.9" fill="none" stroke="#000" stroke-width="1" stroke-dasharray="6 2.5"/>
<path d="M1157.2,273.4 L1179.9,262" fill="none" stroke="#000" stroke-width="1" stroke-dasharray="6 2.5"/>
<path d="M1154.6,268.3 L1155.9,272.7" fill="none" stroke="#000" stroke-width="1" stroke-dasharray="4 2"/>
<path d="M1168.5,247.4 L1196.4,262" fill="none" stroke="#000" stroke-width="1.2"/>
<path d="M1185.6,256.9 L1197,263" fill="none" stroke="#000" stroke-width="1.6"/>
<path d="M1167.3,248.1 L1176.1,246.2" fill="none" stroke="#000" stroke-width="1.6"/>
<ellipse cx="1179.9" cy="256.3" rx="3.4" ry="4.8" fill="none" stroke="#000" stroke-width="1.8" transform="rotate(-30 1179.9 256.3)"/>
<path d="M1185,275.9 L1201.4,267.7" fill="none" stroke="#000" stroke-width="1" stroke-dasharray="4 2"/>
<path d="M1134.4,255.7 L1134.4,340.4" fill="none" stroke="#000" stroke-width="1" stroke-dasharray="7 2"/>
<path d="M1138.8,255.7 L1138.8,340.4" fill="none" stroke="#000" stroke-width="1" stroke-dasharray="7 2"/>
<path d="M1176.1,281 L1176.1,364.4" fill="none" stroke="#000" stroke-width="1" stroke-dasharray="7 2"/>
<path d="M1181.2,281 L1181.2,364.4" fill="none" stroke="#000" stroke-width="1" stroke-dasharray="7 2"/>
<path d="M1130,337.9 L1134.4,340.4 L1139.4,337.9" fill="none" stroke="#000" stroke-width="1" stroke-dasharray="4 2"/>
<path d="M1173.6,363.2 L1176.1,365.1 L1181.2,363.2" fill="none" stroke="#000" stroke-width="1" stroke-dasharray="4 2"/>
<path d="M1121.7,334.1 L1130,338.5" fill="none" stroke="#000" stroke-width="1" stroke-dasharray="4 2"/>
<path d="M1163.5,358.1 L1175.5,365.1" fill="none" stroke="#000" stroke-width="1" stroke-dasharray="4 2"/>
<path d="M1094.9,255.9 L1098.5,254.6 L1100.5,254.6 M1094.9,259.3 L1098.5,258.1 L1100.5,258.1 M1094.9,262.7 L1098.5,261.5 L1100.5,261.5 M1094.9,266.2 L1098.5,264.9 L1100.5,264.9 M1094.9,269.6 L1098.5,268.3 L1100.5,268.3 M1094.9,273 L1098.5,271.7 L1100.5,271.7 M1094.9,276.4 L1098.5,275.1 L1100.5,275.1 M1094.9,279.8 L1098.5,278.5 L1100.5,278.5 M1094.9,283.2 L1098.5,282 L1100.5,282 M1094.9,286.6 L1098.5,285.4 L1100.5,285.4 M1094.9,290.1 L1098.5,288.8 L1100.5,288.8 M1094.9,293.5 L1098.5,292.2 L1100.5,292.2 M1094.9,296.9 L1098.5,295.6 L1100.5,295.6 M1094.9,300.3 L1098.5,299 L1100.5,299 M1094.9,303.7 L1098.5,302.5 L1100.5,302.5 M1094.9,307.1 L1098.5,305.9 L1100.5,305.9 M1094.9,310.5 L1098.5,309.3 L1100.5,309.3 M1094.9,314 L1098.5,312.7 L1100.5,312.7 M1094.9,317.4 L1098.5,316.1 L1100.5,316.1" fill="none" stroke="#000" stroke-width="1"/>
<path d="M1104.4,259.1 L1108,257.8 L1110,257.8 M1104.4,262.5 L1108,261.2 L1110,261.2 M1104.4,265.9 L1108,264.6 L1110,264.6 M1104.4,269.3 L1108,268 L1110,268 M1104.4,272.7 L1108,271.5 L1110,271.5 M1104.4,276.1 L1108,274.9 L1110,274.9 M1104.4,279.6 L1108,278.3 L1110,278.3 M1104.4,283 L1108,281.7 L1110,281.7 M1104.4,286.4 L1108,285.1 L1110,285.1 M1104.4,289.8 L1108,288.5 L1110,288.5 M1104.4,293.2 L1108,292 L1110,292 M1104.4,296.6 L1108,295.4 L1110,295.4 M1104.4,300.1 L1108,298.8 L1110,298.8 M1104.4,303.5 L1108,302.2 L1110,302.2 M1104.4,306.9 L1108,305.6 L1110,305.6 M1104.4,310.3 L1108,309 L1110,309 M1104.4,313.7 L1108,312.4 L1110,312.4 M1104.4,317.1 L1108,315.9 L1110,315.9 M1104.4,320.5 L1108,319.3 L1110,319.3 M1104.4,324 L1108,322.7 L1110,322.7 M1104.4,327.4 L1108,326.1 L1110,326.1" fill="none" stroke="#000" stroke-width="1"/>
<path d="M1112,261 L1115.6,259.7 L1117.6,259.7 M1112,264.4 L1115.6,263.1 L1117.6,263.1 M1112,267.8 L1115.6,266.5 L1117.6,266.5 M1112,271.2 L1115.6,269.9 L1117.6,269.9 M1112,274.6 L1115.6,273.4 L1117.6,273.4 M1112,278 L1115.6,276.8 L1117.6,276.8 M1112,281.5 L1115.6,280.2 L1117.6,280.2 M1112,284.9 L1115.6,283.6 L1117.6,283.6 M1112,288.3 L1115.6,287 L1117.6,287 M1112,291.7 L1115.6,290.4 L1117.6,290.4 M1112,295.1 L1115.6,293.9 L1117.6,293.9 M1112,298.5 L1115.6,297.3 L1117.6,297.3 M1112,301.9 L1115.6,300.7 L1117.6,300.7 M1112,305.4 L1115.6,304.1 L1117.6,304.1 M1112,308.8 L1115.6,307.5 L1117.6,307.5 M1112,312.2 L1115.6,310.9 L1117.6,310.9 M1112,315.6 L1115.6,314.3 L1117.6,314.3 M1112,319 L1115.6,317.8 L1117.6,317.8 M1112,322.4 L1115.6,321.2 L1117.6,321.2 M1112,325.9 L1115.6,324.6 L1117.6,324.6 M1112,329.3 L1115.6,328 L1117.6,328 M1112,332.7 L1115.6,331.4 L1117.6,331.4" fill="none" stroke="#000" stroke-width="1"/>
<path d="M1122.8,267.3 L1126.4,266 L1128.3,266 M1122.8,270.7 L1126.4,269.4 L1128.3,269.4 M1122.8,274.1 L1126.4,272.9 L1128.3,272.9 M1122.8,277.5 L1126.4,276.3 L1128.3,276.3 M1122.8,281 L1126.4,279.7 L1128.3,279.7 M1122.8,284.4 L1126.4,283.1 L1128.3,283.1 M1122.8,287.8 L1126.4,286.5 L1128.3,286.5 M1122.8,291.2 L1126.4,289.9 L1128.3,289.9 M1122.8,294.6 L1126.4,293.3 L1128.3,293.3 M1122.8,298 L1126.4,296.8 L1128.3,296.8 M1122.8,301.4 L1126.4,300.2 L1128.3,300.2 M1122.8,304.9 L1126.4,303.6 L1128.3,303.6 M1122.8,308.3 L1126.4,307 L1128.3,307 M1122.8,311.7 L1126.4,310.4 L1128.3,310.4 M1122.8,315.1 L1126.4,313.8 L1128.3,313.8 M1122.8,318.5 L1126.4,317.3 L1128.3,317.3 M1122.8,321.9 L1126.4,320.7 L1128.3,320.7 M1122.8,325.3 L1126.4,324.1 L1128.3,324.1 M1122.8,328.8 L1126.4,327.5 L1128.3,327.5 M1122.8,332.2 L1126.4,330.9 L1128.3,330.9 M1122.8,335.6 L1126.4,334.3 L1128.3,334.3" fill="none" stroke="#000" stroke-width="1"/>
<path d="M1137.3,283.7 L1140.9,282.5 L1142.9,282.5 M1137.3,287.1 L1140.9,285.9 L1142.9,285.9 M1137.3,290.6 L1140.9,289.3 L1142.9,289.3 M1137.3,294 L1140.9,292.7 L1142.9,292.7 M1137.3,297.4 L1140.9,296.1 L1142.9,296.1 M1137.3,300.8 L1140.9,299.5 L1142.9,299.5 M1137.3,304.2 L1140.9,303 L1142.9,303 M1137.3,307.6 L1140.9,306.4 L1142.9,306.4 M1137.3,311.1 L1140.9,309.8 L1142.9,309.8 M1137.3,314.5 L1140.9,313.2 L1142.9,313.2 M1137.3,317.9 L1140.9,316.6 L1142.9,316.6 M1137.3,321.3 L1140.9,320 L1142.9,320 M1137.3,324.7 L1140.9,323.5 L1142.9,323.5 M1137.3,328.1 L1140.9,326.9 L1142.9,326.9 M1137.3,331.5 L1140.9,330.3 L1142.9,330.3 M1137.3,335 L1140.9,333.7 L1142.9,333.7 M1137.3,338.4 L1140.9,337.1 L1142.9,337.1 M1137.3,341.8 L1140.9,340.5 L1142.9,340.5 M1137.3,345.2 L1140.9,343.9 L1142.9,343.9" fill="none" stroke="#000" stroke-width="1"/>
<path d="M1146.2,286.3 L1149.8,285 L1151.7,285 M1146.2,289.7 L1149.8,288.4 L1151.7,288.4 M1146.2,293.1 L1149.8,291.8 L1151.7,291.8 M1146.2,296.5 L1149.8,295.2 L1151.7,295.2 M1146.2,299.9 L1149.8,298.7 L1151.7,298.7 M1146.2,303.3 L1149.8,302.1 L1151.7,302.1 M1146.2,306.8 L1149.8,305.5 L1151.7,305.5 M1146.2,310.2 L1149.8,308.9 L1151.7,308.9 M1146.2,313.6 L1149.8,312.3 L1151.7,312.3 M1146.2,317 L1149.8,315.7 L1151.7,315.7 M1146.2,320.4 L1149.8,319.2 L1151.7,319.2 M1146.2,323.8 L1149.8,322.6 L1151.7,322.6 M1146.2,327.2 L1149.8,326 L1151.7,326 M1146.2,330.7 L1149.8,329.4 L1151.7,329.4 M1146.2,334.1 L1149.8,332.8 L1151.7,332.8 M1146.2,337.5 L1149.8,336.2 L1151.7,336.2 M1146.2,340.9 L1149.8,339.6 L1151.7,339.6 M1146.2,344.3 L1149.8,343.1 L1151.7,343.1 M1146.2,347.7 L1149.8,346.5 L1151.7,346.5 M1146.2,351.2 L1149.8,349.9 L1151.7,349.9" fill="none" stroke="#000" stroke-width="1"/>
<path d="M1154.4,290.1 L1158,288.8 L1159.9,288.8 M1154.4,293.5 L1158,292.2 L1159.9,292.2 M1154.4,296.9 L1158,295.6 L1159.9,295.6 M1154.4,300.3 L1158,299 L1159.9,299 M1154.4,303.7 L1158,302.5 L1159.9,302.5 M1154.4,307.1 L1158,305.9 L1159.9,305.9 M1154.4,310.5 L1158,309.3 L1159.9,309.3 M1154.4,314 L1158,312.7 L1159.9,312.7 M1154.4,317.4 L1158,316.1 L1159.9,316.1 M1154.4,320.8 L1158,319.5 L1159.9,319.5 M1154.4,324.2 L1158,322.9 L1159.9,322.9 M1154.4,327.6 L1158,326.4 L1159.9,326.4 M1154.4,331 L1158,329.8 L1159.9,329.8 M1154.4,334.5 L1158,333.2 L1159.9,333.2 M1154.4,337.9 L1158,336.6 L1159.9,336.6 M1154.4,341.3 L1158,340 L1159.9,340 M1154.4,344.7 L1158,343.4 L1159.9,343.4 M1154.4,348.1 L1158,346.9 L1159.9,346.9 M1154.4,351.5 L1158,350.3 L1159.9,350.3 M1154.4,354.9 L1158,353.7 L1159.9,353.7" fill="none" stroke="#000" stroke-width="1"/>
<path d="M1164.5,292.6 L1168.1,291.3 L1170.1,291.3 M1164.5,296 L1168.1,294.7 L1170.1,294.7 M1164.5,299.4 L1168.1,298.2 L1170.1,298.2 M1164.5,302.8 L1168.1,301.6 L1170.1,301.6 M1164.5,306.2 L1168.1,305 L1170.1,305 M1164.5,309.7 L1168.1,308.4 L1170.1,308.4 M1164.5,313.1 L1168.1,311.8 L1170.1,311.8 M1164.5,316.5 L1168.1,315.2 L1170.1,315.2 M1164.5,319.9 L1168.1,318.6 L1170.1,318.6 M1164.5,323.3 L1168.1,322.1 L1170.1,322.1 M1164.5,326.7 L1168.1,325.5 L1170.1,325.5 M1164.5,330.2 L1168.1,328.9 L1170.1,328.9 M1164.5,333.6 L1168.1,332.3 L1170.1,332.3 M1164.5,337 L1168.1,335.7 L1170.1,335.7 M1164.5,340.4 L1168.1,339.1 L1170.1,339.1 M1164.5,343.8 L1168.1,342.5 L1170.1,342.5 M1164.5,347.2 L1168.1,346 L1170.1,346 M1164.5,350.6 L1168.1,349.4 L1170.1,349.4 M1164.5,354.1 L1168.1,352.8 L1170.1,352.8 M1164.5,357.5 L1168.1,356.2 L1170.1,356.2 M1164.5,360.9 L1168.1,359.6 L1170.1,359.6" fill="none" stroke="#000" stroke-width="1"/>
<path d="M1095.9,281.6 L1098.2,280.3" fill="none" stroke="#000" stroke-width="2"/>
<path d="M1097.8,289.2 L1100.1,287.9" fill="none" stroke="#000" stroke-width="2"/>
<path d="M1102.3,286.6 L1104.5,285.4" fill="none" stroke="#000" stroke-width="2"/>
<path d="M1104.2,294.2 L1106.4,293" fill="none" stroke="#000" stroke-width="2"/>
<path d="M1103.5,301.8 L1105.8,300.6" fill="none" stroke="#000" stroke-width="2"/>
<path d="M1104.8,309.4 L1107.1,308.1" fill="none" stroke="#000" stroke-width="2"/>
<path d="M1104.2,318.3 L1106.4,317" fill="none" stroke="#000" stroke-width="2"/>
<path d="M1110.5,266.4 L1112.8,265.1" fill="none" stroke="#000" stroke-width="2"/>
<path d="M1110.5,273.4 L1112.8,272.1" fill="none" stroke="#000" stroke-width="2"/>
<path d="M1127.6,281.6 L1129.8,280.3" fill="none" stroke="#000" stroke-width="2"/>
<path d="M1127.6,301.8 L1129.8,300.6" fill="none" stroke="#000" stroke-width="2"/>
<path d="M1127.6,322.1 L1129.8,320.8" fill="none" stroke="#000" stroke-width="2"/>
<path d="M1136.4,281.6 L1138.7,280.3" fill="none" stroke="#000" stroke-width="2"/>
<path d="M1135.8,319.5 L1138.1,318.3" fill="none" stroke="#000" stroke-width="2"/>
<path d="M1153.5,294.2 L1155.8,293" fill="none" stroke="#000" stroke-width="2"/>
<path d="M1152.9,318.3 L1155.1,317" fill="none" stroke="#000" stroke-width="2"/>
<path d="M1152.9,337.2 L1155.1,336" fill="none" stroke="#000" stroke-width="2"/>
<path d="M1145.9,349.9 L1148.2,348.6" fill="none" stroke="#000" stroke-width="2"/>
<path d="M1164.9,291.7 L1167.1,290.4" fill="none" stroke="#000" stroke-width="2"/>
<path d="M1163.6,358.7 L1165.9,357.5" fill="none" stroke="#000" stroke-width="2"/>
<path d="M1090.1,254.4 L1100.2,259.4 L1117.9,264.5 L1129.3,267" fill="none" stroke="#000" stroke-width="1" stroke-dasharray="4 2"/>
<path d="M1092.6,270.8 L1090.1,275.9 L1090.8,301.2 L1101.5,301.2" fill="none" stroke="#000" stroke-width="1" stroke-dasharray="6 2.5"/>
<path d="M1085.1,272.1 C1084.5,272.5 1082.1,273.2 1081.9,274.6 C1081.7,276.1 1082.6,279.7 1083.8,281 C1085,282.2 1088,282 1088.9,282.2" fill="none" stroke="#000" stroke-width="1"/>
<path d="M1083.8,281 L1083.8,301.2 L1087.6,302.5" fill="none" stroke="#000" stroke-width="1"/>
<ellipse cx="1121.1" cy="342.3" rx="9" ry="8.6" fill="#fff" stroke="#000" stroke-width="1" stroke-dasharray="6 2"/>
<path d="M1112.3,335.3 C1112.8,334.9 1114.5,332.9 1115.4,332.8 C1116.4,332.7 1117.5,334.4 1117.9,334.7" fill="none" stroke="#000" stroke-width="1"/>
<path d="M1176.1,303.7 L1185,297.4 L1192.6,292.3 L1198.9,288.5 L1207.8,297.4 L1207.8,313.8 L1197.6,321.4 L1192.6,327.8" fill="none" stroke="#000" stroke-width="1" stroke-dasharray="6 2.5"/>
<path d="M1192.6,292.3 L1201.4,297.4 L1207.8,297.4" fill="none" stroke="#000" stroke-width="1" stroke-dasharray="4 2"/>
<path d="M1192.6,301.2 L1192.6,327.8" fill="none" stroke="#000" stroke-width="2" stroke-dasharray="8 2"/>
<path d="M1176.1,324 L1183.7,329 L1192.6,327.8" fill="none" stroke="#000" stroke-width="1" stroke-dasharray="6 2.5"/>
<path d="M1187.5,306.2 L1187.5,326.5" fill="none" stroke="#000" stroke-width="1" stroke-dasharray="6 2.5"/>
<path d="M1191.3,287.3 L1191.9,293.6" fill="none" stroke="#000" stroke-width="1.5"/>
<path d="M1195.1,291.1 L1201.4,293.6" fill="none" stroke="#000" stroke-width="1.5"/>
<path d="M1181.2,298.7 L1181.2,301.2" fill="none" stroke="#000" stroke-width="2.2"/>
<path d="M1192.6,299.9 L1192.6,303.7" fill="none" stroke="#000" stroke-width="2.6"/>
<path d="M1192.6,326.5 L1192.6,330.3" fill="none" stroke="#000" stroke-width="2.6"/>
<path d="M1182.5,339.1 L1191.3,334.1 L1201.4,339.1 L1202.7,349.3 L1193.8,355.6 L1185,361.9" fill="none" stroke="#000" stroke-width="1" stroke-dasharray="6 2.5"/>
<path d="M1191.3,341.7 L1191.3,355.6" fill="none" stroke="#000" stroke-width="1" stroke-dasharray="6 2.5"/>
<path d="M1191.3,341.7 L1201.4,339.1" fill="none" stroke="#000" stroke-width="1" stroke-dasharray="4 2"/>
<path d="M1182.5,339.1 L1191.3,342.3" fill="none" stroke="#000" stroke-width="1" stroke-dasharray="4 2"/>
<path d="M1182.5,337.9 L1185,341.7" fill="none" stroke="#000" stroke-width="2.4"/>
<path d="M1183.1,360.6 L1186.2,361.3" fill="none" stroke="#000" stroke-width="1.5"/>
<path d="M1190,336 L1194.5,336.6" fill="none" stroke="#000" stroke-width="1.5"/>
<path d="M1185,361.9 L1176.1,365.1" fill="none" stroke="#000" stroke-width="1" stroke-dasharray="4 2"/>
<path d="M1207.8,296.1 C1209.6,295.1 1215.1,291.5 1219.1,290.1 C1223.1,288.6 1227.8,287.3 1231.8,287.3 C1235.8,287.3 1240.1,288 1243.2,290.1 C1246.2,292.2 1248.9,296.4 1250.1,299.9 C1251.4,303.5 1251.7,307.1 1250.8,311.3 C1249.8,315.5 1246.8,321 1244.4,325.2 C1242.1,329.4 1238.1,334.7 1236.8,336.6" fill="none" stroke="#000" stroke-width="1"/>
<path d="M1221.7,297.4 C1223.4,296.7 1228.6,293.4 1231.8,293 C1234.9,292.5 1238.3,293.3 1240.6,294.9 C1243,296.4 1244.7,299.7 1245.7,302.5 C1246.6,305.2 1247.2,307.7 1246.3,311.3 C1245.5,314.9 1242.7,320.4 1240.6,324 C1238.5,327.5 1234.8,331.3 1233.7,332.8" fill="none" stroke="#000" stroke-width="1"/>
<path d="M1221.7,297.4 L1222.3,308.8 L1212.8,315.1 L1207.8,313.8" fill="none" stroke="#000" stroke-width="1" stroke-dasharray="6 2.5"/>
<path d="M1226.7,298.7 C1227.8,300.1 1231.5,303.7 1233,307.5 C1234.6,311.3 1235.7,319.1 1236.2,321.4" fill="none" stroke="#000" stroke-width="1"/>
<path d="M1225.5,326.5 L1233.7,332.8 L1227.4,336" fill="none" stroke="#000" stroke-width="1"/>
<path d="M1222.9,326.5 L1228,336.6" fill="none" stroke="#000" stroke-width="1"/>
<path d="M1193.8,288.5 C1195.1,288.3 1198.5,288.1 1201.4,287.3 C1204.4,286.4 1208.8,283.7 1211.5,283.5 C1214.3,283.3 1216.8,285.6 1217.9,286" fill="none" stroke="#000" stroke-width="1" stroke-dasharray="4 2"/>
<path d="M1205.2,324.6 L1212.8,334.7" fill="none" stroke="#000" stroke-width="1" stroke-dasharray="4 2"/>
<path d="M1214.1,315.1 L1217.2,334.1" fill="none" stroke="#000" stroke-width="1" stroke-dasharray="4 2"/>
<path d="M1212.8,335.3 L1238.1,336.6" fill="none" stroke="#000" stroke-width="1" stroke-dasharray="8 2"/>
<path d="M1212.8,336.6 C1213.2,341.2 1214.1,354.5 1215.3,364.4 C1216.6,374.3 1219.6,390.7 1220.4,395.9" fill="none" stroke="#000" stroke-width="1" stroke-dasharray="6 2.5"/>
<path d="M1238.1,337.2 C1238.3,340.3 1237.7,349.4 1239.4,355.6 C1241.1,361.8 1246.1,367.8 1248.2,374.6 C1250.3,381.3 1251.4,392.4 1252,395.9" fill="none" stroke="#000" stroke-width="1" stroke-dasharray="6 2.5"/>
<path d="M1226.7,336.6 C1227.6,340.2 1229.3,352.4 1231.8,358.1 C1234.3,363.8 1240.2,368.6 1241.9,370.8" fill="none" stroke="#000" stroke-width="1"/>
<path d="M1229.3,336.6 C1230.3,339.8 1233,350.3 1235.6,355.6 C1238.1,360.8 1243,366.1 1244.4,368.2" fill="none" stroke="#000" stroke-width="1"/>
<path d="M1217.9,339.1 C1218.3,343.4 1219.3,356.4 1220.4,364.4 C1221.5,372.4 1223.6,383.4 1224.2,387.2" fill="none" stroke="#000" stroke-width="1" stroke-dasharray="4 2"/>
<path d="M1222.9,342.9 C1223.6,347.1 1225.2,360.4 1226.7,368.2 C1228.2,376 1230.9,386.1 1231.8,389.7" fill="none" stroke="#000" stroke-width="1" stroke-dasharray="4 2"/>
<path d="M1214.1,367 C1215.6,369.3 1221,376 1222.9,380.9 C1224.8,385.7 1225,393.4 1225.5,395.9" fill="none" stroke="#000" stroke-width="1" stroke-dasharray="4 2"/>
<path d="M1231.8,363.2 C1232.6,366.1 1235.4,375.4 1236.8,380.9 C1238.3,386.3 1240,393.4 1240.6,395.9" fill="none" stroke="#000" stroke-width="1" stroke-dasharray="4 2"/>
<path d="M1218.9,342.9 L1221.9,342.4" fill="none" stroke="#000" stroke-width="1.5"/>
<path d="M1220.4,341.4 L1220.8,344.4" fill="none" stroke="#000" stroke-width="1.5"/>
<path d="M1229,365.7 L1232,365.2" fill="none" stroke="#000" stroke-width="1.5"/>
<path d="M1230.5,364.2 L1230.9,367.2" fill="none" stroke="#000" stroke-width="1.5"/>
<path d="M1220.1,368.2 L1223.2,367.7" fill="none" stroke="#000" stroke-width="1.5"/>
<path d="M1221.7,366.7 L1222,369.7" fill="none" stroke="#000" stroke-width="1.5"/>
<path d="M1221.4,382.1 L1224.4,381.6" fill="none" stroke="#000" stroke-width="1.5"/>
<path d="M1222.9,380.6 L1223.3,383.7" fill="none" stroke="#000" stroke-width="1.5"/>
<path d="M1232.2,379.6 L1235.2,379.1" fill="none" stroke="#000" stroke-width="1.5"/>
<path d="M1233.7,378.1 L1234.1,381.1" fill="none" stroke="#000" stroke-width="1.5"/>
<path d="M1040,487.6 C1042.1,489.3 1048.4,494.2 1052.6,497.8 C1056.9,501.3 1060,505.3 1065.3,509.1 C1070.6,512.9 1079,518.8 1084.3,520.5 C1089.5,522.2 1094.8,519.5 1096.9,519.3" fill="none" stroke="#000" stroke-width="1" stroke-dasharray="10 3"/>
<path d="M1040,501.5 C1042.1,503.4 1048.4,509.6 1052.6,512.9 C1056.9,516.3 1059.4,518.6 1065.3,521.8 C1071.2,524.9 1081.3,531.1 1088.1,531.9 C1094.8,532.7 1102.8,527.7 1105.8,526.8" fill="none" stroke="#000" stroke-width="1" stroke-dasharray="10 3"/>
<path d="M1097.6,519.3 C1097.6,517.4 1097,510.3 1097.6,507.9 C1098.1,505.4 1099.6,504.7 1100.7,504.7 C1101.9,504.7 1103.6,505.8 1104.5,507.9 C1105.5,510 1106.1,515.8 1106.4,517.4" fill="none" stroke="#000" stroke-width="1"/>
<path d="M1099.4,515.5 C1099.6,514.4 1099.6,510.2 1100.1,509.1 C1100.6,508.1 1101.9,507.7 1102.6,509.1 C1103.3,510.6 1104.2,516.5 1104.5,518" fill="none" stroke="#000" stroke-width="1"/>
<path d="M1099.4,518.6 C1099.7,519.5 1099.4,522.3 1100.7,523.7 C1102,525.1 1106,526.3 1107,526.8" fill="none" stroke="#000" stroke-width="1"/>
<path d="M1103.2,520.5 L1105.8,519.3" fill="none" stroke="#000" stroke-width="1.2"/>
<path d="M1105.8,521.8 C1108.5,522.6 1116.7,526.4 1122.2,526.8 C1127.7,527.3 1134.2,526 1138.7,524.3 C1143.1,522.6 1146.9,519.3 1148.8,516.7 C1150.7,514.2 1149.8,510.4 1150,509.1" fill="none" stroke="#000" stroke-width="1"/>
<path d="M1107,528.1 C1110.2,528.5 1120.3,530.6 1126,530.6 C1131.7,530.6 1136.6,530.2 1141.2,528.1 C1145.8,526 1151.6,521.4 1153.8,518 C1156.1,514.6 1154.4,509.6 1154.5,507.9" fill="none" stroke="#000" stroke-width="1" stroke-dasharray="9 2"/>
<path d="M1102,530.6 L1110.8,534.4 L1114.6,542 L1113.4,548.3 L1108.3,547.1 L1102.6,542 L1102,530.6" fill="none" stroke="#000" stroke-width="1" stroke-dasharray="5 2"/>
<path d="M1114.6,542 L1121,534.4 L1127.3,531.9 L1127.3,542 L1121,545.8 L1114.6,549.6 L1112.7,545.8" fill="none" stroke="#000" stroke-width="1.4"/>
<path d="M1121,534.4 L1127.3,531.9" fill="none" stroke="#000" stroke-width="2"/>
<path d="M1059.2,414.1 C1058.6,417 1056,426.9 1055.7,431.1 C1055.3,435.3 1055.1,437.1 1057.1,439.6 C1059.1,442 1064.1,444.2 1067.6,445.9 C1071.1,447.6 1076.4,449.3 1078.2,449.9" fill="none" stroke="#000" stroke-width="1"/>
<path d="M1073.3,422 C1073.5,422.4 1075.1,422.9 1074.7,424.8 C1074.2,426.6 1071.4,429.8 1070.5,433.2 C1069.6,436.6 1069.5,443.2 1069.3,445.1" fill="none" stroke="#000" stroke-width="1"/>
<path d="M1062.4,422.1 C1061.9,423.7 1059.6,428.7 1059.5,431.6 C1059.3,434.5 1060.1,437.5 1061.5,439.4 C1062.9,441.3 1067,442.4 1068.1,443" fill="none" stroke="#000" stroke-width="1" stroke-dasharray="5 2"/>
<path d="M1078.2,424.3 C1077.6,427.1 1075,437 1074.7,441.2 C1074.3,445.4 1074.1,447.2 1076,449.7 C1078,452.2 1083,454.3 1086.5,456 C1090.1,457.7 1095.4,459.4 1097.2,460.1" fill="none" stroke="#000" stroke-width="1"/>
<path d="M1092.2,432.1 C1092.5,432.6 1094.1,433 1093.6,434.9 C1093.2,436.8 1090.3,440 1089.5,443.4 C1088.6,446.8 1088.5,453.3 1088.3,455.3" fill="none" stroke="#000" stroke-width="1"/>
<path d="M1081.4,432.2 C1080.9,433.8 1078.6,438.8 1078.5,441.7 C1078.3,444.6 1079,447.7 1080.5,449.6 C1081.9,451.5 1086,452.5 1087.1,453.1" fill="none" stroke="#000" stroke-width="1" stroke-dasharray="5 2"/>
<path d="M1080.1,432.9 L1087.1,444.2" fill="none" stroke="#000" stroke-width="1"/>
<path d="M1084.5,432.2 L1089.8,440.5" fill="none" stroke="#000" stroke-width="1"/>
<path d="M1097.2,434.4 C1096.6,437.2 1094,447.1 1093.6,451.3 C1093.3,455.6 1093,457.3 1095,459.8 C1097,462.3 1102,464.4 1105.5,466.1 C1109,467.9 1114.4,469.5 1116.1,470.2" fill="none" stroke="#000" stroke-width="1"/>
<path d="M1111.2,442.2 C1111.4,442.7 1113.1,443.1 1112.6,445 C1112.1,446.9 1109.3,450.1 1108.4,453.5 C1107.5,456.9 1107.5,463.4 1107.3,465.4" fill="none" stroke="#000" stroke-width="1"/>
<path d="M1100.3,442.4 C1099.8,443.9 1097.6,448.9 1097.4,451.8 C1097.3,454.7 1098,457.8 1099.4,459.7 C1100.9,461.6 1104.9,462.6 1106,463.2" fill="none" stroke="#000" stroke-width="1" stroke-dasharray="5 2"/>
<path d="M1099.1,443 L1106,454.4" fill="none" stroke="#000" stroke-width="1"/>
<path d="M1103.5,442.4 L1108.8,450.6" fill="none" stroke="#000" stroke-width="1"/>
<path d="M1116.1,444.5 C1115.6,447.3 1113,457.2 1112.6,461.4 C1112.2,465.7 1112,467.5 1114,469.9 C1116,472.4 1121,474.5 1124.5,476.2 C1128,478 1133.3,479.6 1135.1,480.3" fill="none" stroke="#000" stroke-width="1"/>
<path d="M1130.2,452.3 C1130.4,452.8 1132,453.2 1131.6,455.1 C1131.1,457 1128.3,460.2 1127.4,463.6 C1126.5,467 1126.5,473.5 1126.3,475.5" fill="none" stroke="#000" stroke-width="1"/>
<path d="M1119.3,452.5 C1118.8,454.1 1116.5,459.1 1116.4,462 C1116.3,464.8 1117,467.9 1118.4,469.8 C1119.9,471.7 1123.9,472.7 1125,473.3" fill="none" stroke="#000" stroke-width="1" stroke-dasharray="5 2"/>
<path d="M1118,453.1 L1125,464.5" fill="none" stroke="#000" stroke-width="1"/>
<path d="M1122.5,452.5 L1127.8,460.7" fill="none" stroke="#000" stroke-width="1"/>
<path d="M1135.1,454.6 C1134.5,457.4 1131.9,467.3 1131.6,471.6 C1131.2,475.8 1131,477.6 1133,480 C1134.9,482.5 1139.9,484.6 1143.5,486.4 C1147,488.1 1152.3,489.7 1154.1,490.4" fill="none" stroke="#000" stroke-width="1"/>
<path d="M1149.2,462.5 C1149.4,462.9 1151,463.4 1150.5,465.2 C1150.1,467.1 1147.3,470.3 1146.4,473.7 C1145.5,477.1 1145.4,483.6 1145.2,485.6" fill="none" stroke="#000" stroke-width="1"/>
<path d="M1138.3,462.6 C1137.8,464.2 1135.5,469.2 1135.4,472.1 C1135.2,475 1136,478 1137.4,479.9 C1138.8,481.8 1142.9,482.9 1144,483.5" fill="none" stroke="#000" stroke-width="1" stroke-dasharray="5 2"/>
<path d="M1137,463.2 L1144,474.6" fill="none" stroke="#000" stroke-width="1"/>
<path d="M1141.4,462.6 L1146.8,470.8" fill="none" stroke="#000" stroke-width="1"/>
<path d="M1154.1,464.7 C1153.5,467.6 1150.9,477.5 1150.5,481.7 C1150.2,485.9 1150,487.7 1151.9,490.2 C1153.9,492.6 1158.9,494.8 1162.4,496.5 C1166,498.2 1171.3,499.9 1173.1,500.5" fill="none" stroke="#000" stroke-width="1"/>
<path d="M1168.1,472.6 C1168.4,473 1170,473.5 1169.5,475.4 C1169.1,477.2 1166.2,480.4 1165.3,483.8 C1164.5,487.2 1164.4,493.7 1164.2,495.7" fill="none" stroke="#000" stroke-width="1"/>
<path d="M1157.3,472.7 C1156.8,474.3 1154.5,479.3 1154.3,482.2 C1154.2,485.1 1154.9,488.1 1156.4,490 C1157.8,491.9 1161.8,493 1162.9,493.6" fill="none" stroke="#000" stroke-width="1" stroke-dasharray="5 2"/>
<path d="M1156,473.3 L1162.9,484.7" fill="none" stroke="#000" stroke-width="1"/>
<path d="M1160.4,472.7 L1165.7,480.9" fill="none" stroke="#000" stroke-width="1"/>
<path d="M1059,407.9 C1058.1,410.5 1054.1,418.1 1053.9,423.1 C1053.7,428.2 1054.5,433.9 1057.7,438.3 C1060.9,442.7 1067,445.9 1072.9,449.7 C1078.8,453.5 1083.8,455.8 1093.1,461.1 C1102.4,466.3 1116.3,474.1 1128.5,481.3 C1140.8,488.5 1160.2,500.3 1166.5,504.1" fill="none" stroke="#000" stroke-width="1" stroke-dasharray="5 2"/>
<path d="M1055.2,411.7 C1054.7,414.1 1051.8,420.6 1052,425.7 C1052.2,430.7 1053.2,437.7 1056.4,442.1 C1059.7,446.5 1069.1,450.5 1071.6,452.2" fill="none" stroke="#000" stroke-width="1" stroke-dasharray="5 2"/>
<path d="M1062.6,392.4 L1079.2,400.9 L1079.2,417.7 L1071.5,420.7 L1062.6,416.4Z" fill="#fff" stroke="none" stroke-width="0"/>
<path d="M1062.6,398.1 L1062.6,416.4" fill="none" stroke="#000" stroke-width="1.3"/>
<path d="M1060.2,395.9 L1060.2,407.2" fill="none" stroke="#000" stroke-width="1.2"/>
<path d="M1063,392.4 L1079.2,400.9" fill="none" stroke="#000" stroke-width="1.2"/>
<path d="M1062.6,416.3 L1070.7,420.5" fill="none" stroke="#000" stroke-width="1.8"/>
<path d="M1071.5,414.1 L1071.5,420.5" fill="none" stroke="#000" stroke-width="2.6"/>
<path d="M1079.2,400.9 L1079.2,407.6" fill="none" stroke="#000" stroke-width="1" stroke-dasharray="4 2"/>
<path d="M1064,402.3 L1064,406.8" fill="none" stroke="#000" stroke-width="1.3"/>
<path d="M1064,405 L1066.6,403.3" fill="none" stroke="#000" stroke-width="1.2"/>
<path d="M1064.3,404.8 L1066.8,406.3" fill="none" stroke="#000" stroke-width="1.2"/>
<ellipse cx="1071.6" cy="408.2" rx="1.1" ry="2.6" fill="none" stroke="#000" stroke-width="1.3"/>
<path d="M1063,392.4 L1064.5,391.4" fill="none" stroke="#000" stroke-width="1.2"/>
<path d="M1076.9,399 L1080.7,400.2" fill="none" stroke="#000" stroke-width="1.2"/>
<path d="M1064.3,387.3 L1070.9,383.8 L1072.9,386.1 L1068.1,388.8" fill="none" stroke="#000" stroke-width="1" stroke-dasharray="6 2.5"/>
<path d="M1069.3,379.1 L1080.7,385.4 L1085.8,388.6 L1085.8,391.8" fill="none" stroke="#000" stroke-width="1" stroke-dasharray="6 2.5"/>
<path d="M1070.9,383.8 L1079.2,388" fill="none" stroke="#000" stroke-width="1" stroke-dasharray="4 2"/>
<path d="M1081.6,402.5 L1098.2,411 L1098.2,427.8 L1090.5,430.8 L1081.6,426.5Z" fill="#fff" stroke="none" stroke-width="0"/>
<path d="M1081.6,408.2 L1081.6,426.5" fill="none" stroke="#000" stroke-width="1.3"/>
<path d="M1079.2,406 L1079.2,417.3" fill="none" stroke="#000" stroke-width="1.2"/>
<path d="M1082,402.5 L1098.2,411" fill="none" stroke="#000" stroke-width="1.2"/>
<path d="M1081.6,426.4 L1089.7,430.6" fill="none" stroke="#000" stroke-width="1.8"/>
<path d="M1090.5,424.3 L1090.5,430.6" fill="none" stroke="#000" stroke-width="2.6"/>
<path d="M1098.2,411 L1098.2,417.7" fill="none" stroke="#000" stroke-width="1" stroke-dasharray="4 2"/>
<path d="M1083,412.4 L1083,416.9" fill="none" stroke="#000" stroke-width="1.3"/>
<path d="M1083,415.2 L1085.5,413.4" fill="none" stroke="#000" stroke-width="1.2"/>
<path d="M1083.3,414.9 L1085.8,416.4" fill="none" stroke="#000" stroke-width="1.2"/>
<ellipse cx="1090.6" cy="418.3" rx="1.1" ry="2.6" fill="none" stroke="#000" stroke-width="1.3"/>
<path d="M1082,402.5 L1083.5,401.5" fill="none" stroke="#000" stroke-width="1.2"/>
<path d="M1095.9,409.1 L1099.7,410.3" fill="none" stroke="#000" stroke-width="1.2"/>
<path d="M1083.3,397.4 L1089.8,393.9 L1091.9,396.2 L1087.1,399" fill="none" stroke="#000" stroke-width="1" stroke-dasharray="6 2.5"/>
<path d="M1088.3,389.2 L1099.7,395.6 L1104.8,398.7 L1104.8,401.9" fill="none" stroke="#000" stroke-width="1" stroke-dasharray="6 2.5"/>
<path d="M1089.8,393.9 L1098.2,398.1" fill="none" stroke="#000" stroke-width="1" stroke-dasharray="4 2"/>
<path d="M1100.6,412.6 L1117.2,421.1 L1117.2,437.9 L1109.4,441 L1100.6,436.7Z" fill="#fff" stroke="none" stroke-width="0"/>
<path d="M1100.6,418.3 L1100.6,436.7" fill="none" stroke="#000" stroke-width="1.3"/>
<path d="M1098.2,416.2 L1098.2,427.4" fill="none" stroke="#000" stroke-width="1.2"/>
<path d="M1101,412.6 L1117.2,421.1" fill="none" stroke="#000" stroke-width="1.2"/>
<path d="M1100.6,436.5 L1108.7,440.7" fill="none" stroke="#000" stroke-width="1.8"/>
<path d="M1109.4,434.4 L1109.4,440.7" fill="none" stroke="#000" stroke-width="2.6"/>
<path d="M1117.2,421.1 L1117.2,427.8" fill="none" stroke="#000" stroke-width="1" stroke-dasharray="4 2"/>
<path d="M1102,422.5 L1102,427" fill="none" stroke="#000" stroke-width="1.3"/>
<path d="M1102,425.3 L1104.5,423.5" fill="none" stroke="#000" stroke-width="1.2"/>
<path d="M1102.2,425 L1104.8,426.5" fill="none" stroke="#000" stroke-width="1.2"/>
<ellipse cx="1109.6" cy="428.4" rx="1.1" ry="2.6" fill="none" stroke="#000" stroke-width="1.3"/>
<path d="M1101,412.6 L1102.5,411.6" fill="none" stroke="#000" stroke-width="1.2"/>
<path d="M1114.9,419.2 L1118.7,420.5" fill="none" stroke="#000" stroke-width="1.2"/>
<path d="M1102.2,407.6 L1108.8,404 L1110.8,406.3 L1106,409.1" fill="none" stroke="#000" stroke-width="1" stroke-dasharray="6 2.5"/>
<path d="M1107.3,399.3 L1118.7,405.7 L1123.7,408.8 L1123.7,412" fill="none" stroke="#000" stroke-width="1" stroke-dasharray="6 2.5"/>
<path d="M1108.8,404 L1117.2,408.2" fill="none" stroke="#000" stroke-width="1" stroke-dasharray="4 2"/>
<path d="M1119.6,422.7 L1136.1,431.2 L1136.1,448 L1128.4,451.1 L1119.6,446.8Z" fill="#fff" stroke="none" stroke-width="0"/>
<path d="M1119.6,428.4 L1119.6,446.8" fill="none" stroke="#000" stroke-width="1.3"/>
<path d="M1117.2,426.3 L1117.2,437.5" fill="none" stroke="#000" stroke-width="1.2"/>
<path d="M1119.9,422.7 L1136.1,431.2" fill="none" stroke="#000" stroke-width="1.2"/>
<path d="M1119.6,446.7 L1127.7,450.8" fill="none" stroke="#000" stroke-width="1.8"/>
<path d="M1128.4,444.5 L1128.4,450.8" fill="none" stroke="#000" stroke-width="2.6"/>
<path d="M1136.1,431.2 L1136.1,437.9" fill="none" stroke="#000" stroke-width="1" stroke-dasharray="4 2"/>
<path d="M1121,432.6 L1121,437.2" fill="none" stroke="#000" stroke-width="1.3"/>
<path d="M1121,435.4 L1123.5,433.6" fill="none" stroke="#000" stroke-width="1.2"/>
<path d="M1121.2,435.1 L1123.7,436.7" fill="none" stroke="#000" stroke-width="1.2"/>
<ellipse cx="1128.5" cy="438.6" rx="1.1" ry="2.6" fill="none" stroke="#000" stroke-width="1.3"/>
<path d="M1119.9,422.7 L1121.5,421.7" fill="none" stroke="#000" stroke-width="1.2"/>
<path d="M1133.9,429.3 L1137.6,430.6" fill="none" stroke="#000" stroke-width="1.2"/>
<path d="M1121.2,417.7 L1127.8,414.1 L1129.8,416.4 L1125,419.2" fill="none" stroke="#000" stroke-width="1" stroke-dasharray="6 2.5"/>
<path d="M1126.3,409.5 L1137.6,415.8 L1142.7,419 L1142.7,422.1" fill="none" stroke="#000" stroke-width="1" stroke-dasharray="6 2.5"/>
<path d="M1127.8,414.1 L1136.1,418.3" fill="none" stroke="#000" stroke-width="1" stroke-dasharray="4 2"/>
<path d="M1138.5,432.9 L1155.1,441.3 L1155.1,458.2 L1147.4,461.2 L1138.5,456.9Z" fill="#fff" stroke="none" stroke-width="0"/>
<path d="M1138.5,438.6 L1138.5,456.9" fill="none" stroke="#000" stroke-width="1.3"/>
<path d="M1136.1,436.4 L1136.1,447.7" fill="none" stroke="#000" stroke-width="1.2"/>
<path d="M1138.9,432.9 L1155.1,441.3" fill="none" stroke="#000" stroke-width="1.2"/>
<path d="M1138.5,456.8 L1146.6,460.9" fill="none" stroke="#000" stroke-width="1.8"/>
<path d="M1147.4,454.6 L1147.4,460.9" fill="none" stroke="#000" stroke-width="2.6"/>
<path d="M1155.1,441.3 L1155.1,448" fill="none" stroke="#000" stroke-width="1" stroke-dasharray="4 2"/>
<path d="M1139.9,442.7 L1139.9,447.3" fill="none" stroke="#000" stroke-width="1.3"/>
<path d="M1139.9,445.5 L1142.5,443.7" fill="none" stroke="#000" stroke-width="1.2"/>
<path d="M1140.2,445.3 L1142.7,446.8" fill="none" stroke="#000" stroke-width="1.2"/>
<ellipse cx="1147.5" cy="448.7" rx="1.1" ry="2.6" fill="none" stroke="#000" stroke-width="1.3"/>
<path d="M1138.9,432.9 L1140.4,431.9" fill="none" stroke="#000" stroke-width="1.2"/>
<path d="M1152.8,439.4 L1156.6,440.7" fill="none" stroke="#000" stroke-width="1.2"/>
<path d="M1140.2,427.8 L1146.8,424.3 L1148.8,426.5 L1144,429.3" fill="none" stroke="#000" stroke-width="1" stroke-dasharray="6 2.5"/>
<path d="M1145.2,419.6 L1156.6,425.9 L1161.7,429.1 L1161.7,432.2" fill="none" stroke="#000" stroke-width="1" stroke-dasharray="6 2.5"/>
<path d="M1146.8,424.3 L1155.1,428.4" fill="none" stroke="#000" stroke-width="1" stroke-dasharray="4 2"/>
<path d="M1157.5,443 L1174.1,451.5 L1174.1,468.3 L1166.4,471.3 L1157.5,467Z" fill="#fff" stroke="none" stroke-width="0"/>
<path d="M1157.5,448.7 L1157.5,467" fill="none" stroke="#000" stroke-width="1.3"/>
<path d="M1155.1,446.5 L1155.1,457.8" fill="none" stroke="#000" stroke-width="1.2"/>
<path d="M1157.9,443 L1174.1,451.5" fill="none" stroke="#000" stroke-width="1.2"/>
<path d="M1157.5,466.9 L1165.6,471.1" fill="none" stroke="#000" stroke-width="1.8"/>
<path d="M1166.4,464.7 L1166.4,471.1" fill="none" stroke="#000" stroke-width="2.6"/>
<path d="M1174.1,451.5 L1174.1,458.2" fill="none" stroke="#000" stroke-width="1" stroke-dasharray="4 2"/>
<path d="M1158.9,452.8 L1158.9,457.4" fill="none" stroke="#000" stroke-width="1.3"/>
<path d="M1158.9,455.6 L1161.4,453.9" fill="none" stroke="#000" stroke-width="1.2"/>
<path d="M1159.2,455.4 L1161.7,456.9" fill="none" stroke="#000" stroke-width="1.2"/>
<ellipse cx="1166.5" cy="458.8" rx="1.1" ry="2.6" fill="none" stroke="#000" stroke-width="1.3"/>
<path d="M1157.9,443 L1159.4,442" fill="none" stroke="#000" stroke-width="1.2"/>
<path d="M1171.8,449.6 L1175.6,450.8" fill="none" stroke="#000" stroke-width="1.2"/>
<path d="M1159.2,437.9 L1165.7,434.4 L1167.8,436.7 L1162.9,439.4" fill="none" stroke="#000" stroke-width="1" stroke-dasharray="6 2.5"/>
<path d="M1164.2,429.7 L1175.6,436 L1180.7,439.2 L1180.7,442.4" fill="none" stroke="#000" stroke-width="1" stroke-dasharray="6 2.5"/>
<path d="M1165.7,434.4 L1174.1,438.6" fill="none" stroke="#000" stroke-width="1" stroke-dasharray="4 2"/>
<path d="M1172.8,457.3 L1184.2,449.1 L1197.5,456 L1197.5,469.9 L1191.8,473.1 L1184.2,477.5 L1179.1,476.2" fill="none" stroke="#000" stroke-width="1" stroke-dasharray="6 2.5"/>
<path d="M1184.2,457.3 L1184.2,469.9" fill="none" stroke="#000" stroke-width="1" stroke-dasharray="8 2"/>
<path d="M1191.2,457.3 L1191.2,472.5" fill="none" stroke="#000" stroke-width="1" stroke-dasharray="6 2.5"/>
<circle cx="1185.2" cy="470.6" r="1.5" fill="#000" stroke="#000" stroke-width="0.5"/>
<path d="M1179.8,476.2 C1179.9,478.1 1179.7,483.8 1180.4,487.6 C1181.1,491.4 1183.6,497.1 1184.2,499" fill="none" stroke="#000" stroke-width="1" stroke-dasharray="6 2.5"/>
<path d="M1184.8,477.5 C1184.9,479.2 1184.5,483.6 1185.5,487.6 C1186.4,491.6 1186.3,497.3 1190.5,501.5 C1194.7,505.8 1207.4,511 1210.8,512.9" fill="none" stroke="#000" stroke-width="1" stroke-dasharray="6 2.5"/>
<path d="M1167.8,495.2 C1167.8,496.7 1166.9,502 1167.8,504.1 C1168.6,506.2 1170.1,507.2 1172.8,507.9 C1175.6,508.5 1182.3,507.9 1184.2,507.9" fill="none" stroke="#000" stroke-width="1"/>
<path d="M1163.3,506.6 C1164.5,507.7 1166.6,512 1170.3,512.9 C1174,513.9 1182.9,512.4 1185.5,512.3" fill="none" stroke="#000" stroke-width="1"/>
<path d="M1169,491.4 L1184.2,499" fill="none" stroke="#000" stroke-width="1" stroke-dasharray="6 2.5"/>
<path d="M1180.4,512.9 L1205.7,528.1" fill="none" stroke="#000" stroke-width="1" stroke-dasharray="6 2.5"/>
<path d="M1158.9,514.2 L1164.6,510.4" fill="none" stroke="#000" stroke-width="1" stroke-dasharray="4 2"/>
<path d="M1138.7,494 L1138.7,507.9 L1147.5,512.9" fill="none" stroke="#000" stroke-width="1.4"/>
<path d="M1146.9,496.5 L1146.9,512.9" fill="none" stroke="#000" stroke-width="2.6" stroke-dasharray="4 3"/>
<path d="M1154.5,504.1 L1154.5,516.7" fill="none" stroke="#000" stroke-width="1.3"/>
<path d="M1138.7,494.6 L1143.7,496.5" fill="none" stroke="#000" stroke-width="1.4"/>
<path d="M1220.6,380 L1220.6,403.8 L1228.6,410.2 L1244.5,411 L1250.8,402.2 L1251.6,380" fill="none" stroke="#000" stroke-width="1" stroke-dasharray="6 2.5"/>
<path d="M1228.6,389.5 C1229.6,390.9 1233,395.9 1234.9,397.5 C1236.9,399.1 1239.7,400.9 1240.5,399.1 C1241.3,397.2 1239.8,388.5 1239.7,386.4" fill="none" stroke="#000" stroke-width="1" stroke-dasharray="6 2.5"/>
<path d="M1233.4,380 C1233.5,381.6 1233.1,386.6 1234.1,389.5 C1235.2,392.4 1238.8,396.1 1239.7,397.5" fill="none" stroke="#000" stroke-width="1"/>
<path d="M1220.6,408.6 C1220.5,414.4 1220.6,432.4 1219.9,443.5 C1219.1,454.7 1217.1,464.7 1215.9,475.3 C1214.7,485.9 1213.8,499.1 1212.7,507.1 C1211.6,515 1210.2,516.3 1209.5,522.9 C1208.9,529.6 1208.9,542.8 1208.7,546.8" fill="none" stroke="#000" stroke-width="1" stroke-dasharray="5 2"/>
<path d="M1244.5,411.8 C1244.3,417.1 1244.1,433.7 1243.7,443.5 C1243.3,453.3 1242.4,466 1242.1,470.5" fill="none" stroke="#000" stroke-width="1" stroke-dasharray="5 2"/>
<path d="M1238.1,471.3 L1242.1,471.3" fill="none" stroke="#000" stroke-width="1" stroke-dasharray="4 2"/>
<path d="M1230.2,478.5 C1233.1,480.3 1242.6,484.8 1247.6,489.6 C1252.7,494.4 1257.4,501.5 1260.4,507.1 C1263.3,512.6 1265.7,516.9 1265.1,522.9 C1264.6,529 1258.5,540.2 1257.2,543.6" fill="none" stroke="#000" stroke-width="1" stroke-dasharray="6 2.5"/>
<path d="M1242.9,473.7 C1246.3,476.6 1258.2,485.1 1263.5,491.2 C1268.8,497.3 1272.5,503.6 1274.7,510.2 C1276.8,516.9 1277.3,524.8 1276.2,530.9 C1275.2,537 1269.6,544.1 1268.3,546.8" fill="none" stroke="#000" stroke-width="1" stroke-dasharray="6 2.5"/>
<path d="M1238.1,489.6 C1238.1,492.5 1236,502 1238.1,507.1 C1240.2,512.1 1247.9,515.5 1250.8,519.8 C1253.7,524 1254.7,528.5 1255.6,532.5 C1256.5,536.4 1256.3,541.7 1256.4,543.6" fill="none" stroke="#000" stroke-width="1" stroke-dasharray="6 2.5"/>
<path d="M1208.7,546.8 C1209.4,547.8 1210.2,551.3 1212.7,553.1 C1215.2,555 1219.9,557.4 1223.8,557.9 C1227.8,558.4 1234.4,556.6 1236.5,556.3" fill="none" stroke="#000" stroke-width="1"/>
<path d="M1230.2,530.9 C1230.8,531.7 1233.1,533.8 1234.1,535.7 C1235.2,537.5 1236.1,540.9 1236.5,542" fill="none" stroke="#000" stroke-width="1"/>
<path d="M1232.6,527.7 C1233.4,528.5 1236.5,530.6 1237.3,532.5 C1238.2,534.3 1237.7,537.8 1237.8,538.8" fill="none" stroke="#000" stroke-width="1"/>
<path d="M1200,507.1 L1211.1,511.8 L1228.6,520.6" fill="none" stroke="#000" stroke-width="1" stroke-dasharray="6 2.5"/>
<path d="M1217.5,565.8 L1238.1,554.7 L1243.7,558.7 L1242.1,569.8 L1220.6,582.5" fill="none" stroke="#000" stroke-width="1" stroke-dasharray="9 3"/>
<path d="M1241.3,553.1 L1252.4,546.8 L1271.5,543.6" fill="none" stroke="#000" stroke-width="1" stroke-dasharray="6 2.5"/>
<path d="M1247.6,562.7 L1258.8,556.3" fill="none" stroke="#000" stroke-width="1" stroke-dasharray="6 2.5"/>
<path d="M1223.8,575.4 L1242.9,564.2" fill="none" stroke="#000" stroke-width="1" stroke-dasharray="9 3"/>
<path d="M1200,605.5 L1222.2,591.2 L1242.9,573" fill="none" stroke="#000" stroke-width="1" stroke-dasharray="9 3"/>
<path d="M1236.5,578.5 L1222.2,607.1 L1223.8,621.4 L1230.2,626" fill="none" stroke="#000" stroke-width="1" stroke-dasharray="6 2.5"/>
<path d="M1249.2,564.2 L1260.4,559.5 L1262.7,564.2 L1250.8,572.2 L1249.2,564.2" fill="none" stroke="#000" stroke-width="1" stroke-dasharray="4 2"/>
<path d="M1271.5,543.6 L1296.9,536.4 L1300.1,540.4 L1300.4,546 L1258.8,556.3" fill="#fff" stroke="#000" stroke-width="1"/>
<path d="M1300.1,538 L1327.1,538" fill="none" stroke="#000" stroke-width="1" stroke-dasharray="6 2.5"/>
<path d="M1300.9,546 L1327.1,546" fill="none" stroke="#000" stroke-width="1" stroke-dasharray="6 2.5"/>
<path d="M1322.3,546.8 L1327.1,547.6 L1328.7,538.8" fill="none" stroke="#000" stroke-width="1"/>
<path d="M1328.7,543.6 C1330.2,543.6 1336.1,545.4 1338.2,543.6 C1340.2,541.7 1341.6,536.4 1341,532.5 C1340.5,528.5 1336.9,523.3 1335,519.8 C1333.2,516.3 1330.8,512.9 1329.9,511.5" fill="none" stroke="#000" stroke-width="6" stroke-linejoin="round"/>
<path d="M1328.7,543.6 C1330.2,543.6 1336.1,545.4 1338.2,543.6 C1340.2,541.7 1341.6,536.4 1341,532.5 C1340.5,528.5 1336.9,523.3 1335,519.8 C1333.2,516.3 1330.8,512.9 1329.9,511.5" fill="none" stroke="#fff" stroke-width="4" stroke-linejoin="round"/>
<path d="M1326.3,510.2 L1327.9,512.6" fill="none" stroke="#000" stroke-width="1.4"/>
<path d="M1297.7,535.7 L1301.7,519.8 L1305.6,502.3" fill="none" stroke="#000" stroke-width="1"/>
<path d="M1301.7,538.8 L1306.4,519.8 L1309.6,505.5" fill="none" stroke="#000" stroke-width="1"/>
<path d="M1346.1,380.8 L1307.7,403 L1307.7,457.8 L1331.8,447.5" fill="none" stroke="#000" stroke-width="1"/>
<path d="M1304,461 L1304,497.5" fill="none" stroke="#000" stroke-width="1" stroke-dasharray="6 2.5"/>
<path d="M1311.2,465.8 L1311.2,505.5" fill="none" stroke="#000" stroke-width="1" stroke-dasharray="9 2"/>
<path d="M1331.8,449.9 L1331.8,491.2" fill="none" stroke="#000" stroke-width="1" stroke-dasharray="9 2"/>
<path d="M1338.2,449.9 L1338.2,494.4" fill="none" stroke="#000" stroke-width="1" stroke-dasharray="9 2"/>
<path d="M1303.2,461 L1331.8,448.3 L1338.2,449.9 L1311.2,463.4" fill="none" stroke="#000" stroke-width="1" stroke-dasharray="6 2.5"/>
<path d="M1291.3,475.3 L1298.5,470.5 L1304,473.7" fill="none" stroke="#000" stroke-width="1" stroke-dasharray="6 2.5"/>
<path d="M1291.3,475.3 L1291.3,486.4 L1303.2,497.5" fill="none" stroke="#000" stroke-width="1" stroke-dasharray="6 2.5"/>
<path d="M1300.1,492.8 L1303.2,489.6 L1303.2,495.9 L1300.1,492.8" fill="none" stroke="#000" stroke-width="1"/>
<path d="M1323.9,426.1 L1335,419.7 L1341.4,422.6" fill="none" stroke="#000" stroke-width="1" stroke-dasharray="6 2.5"/>
<path d="M1323.9,426.1 L1323.9,438.8" fill="none" stroke="#000" stroke-width="1" stroke-dasharray="6 2.5"/>
<path d="M1327.1,427.6 L1341.4,434 L1341.4,451.5" fill="none" stroke="#000" stroke-width="1" stroke-dasharray="6 2.5"/>
<path d="M1341.4,427.6 L1358.8,434" fill="none" stroke="#000" stroke-width="1" stroke-dasharray="6 2.5"/>
<path d="M1328.7,429.2 L1328.7,443.5" fill="none" stroke="#000" stroke-width="1" stroke-dasharray="4 2"/>
<path d="M1346.1,440.4 L1346.1,454.7" fill="none" stroke="#000" stroke-width="1" stroke-dasharray="4 2"/>
<path d="M1331.8,426.1 L1341.4,421.6" fill="none" stroke="#000" stroke-width="1.6"/>
<path d="M1350.1,438 L1359.6,434" fill="none" stroke="#000" stroke-width="1.6"/>
<path d="M1327.1,443.5 L1341.4,437.2" fill="none" stroke="#000" stroke-width="1" stroke-dasharray="4 2"/>
<path d="M1344.5,453.9 L1360.4,447.5" fill="none" stroke="#000" stroke-width="1" stroke-dasharray="4 2"/>
<path d="M1360.4,439.6 L1360.4,456.2" fill="none" stroke="#000" stroke-width="1" stroke-dasharray="6 2.5"/>
<path d="M1342.2,430 C1344.1,427.1 1350.2,416.9 1354.1,412.6 C1357.9,408.2 1362.6,405.1 1365.2,404.1 C1367.8,403.2 1369,404.5 1369.6,407 C1370.3,409.5 1370.2,415.2 1369.2,418.9 C1368.1,422.6 1365.3,426.7 1363.6,429.2 C1361.9,431.8 1359.6,433.2 1358.8,434" fill="none" stroke="#000" stroke-width="5.5" stroke-linejoin="round"/>
<path d="M1342.2,430 C1344.1,427.1 1350.2,416.9 1354.1,412.6 C1357.9,408.2 1362.6,405.1 1365.2,404.1 C1367.8,403.2 1369,404.5 1369.6,407 C1370.3,409.5 1370.2,415.2 1369.2,418.9 C1368.1,422.6 1365.3,426.7 1363.6,429.2 C1361.9,431.8 1359.6,433.2 1358.8,434" fill="none" stroke="#fff" stroke-width="3.5" stroke-linejoin="round"/>
<path d="M1363.6,434 C1364.9,433.7 1370.1,431.9 1371.5,432.4 C1373,432.9 1373.4,436 1372.3,437.2 C1371.3,438.4 1366.4,439.2 1365.2,439.6" fill="none" stroke="#000" stroke-width="1"/>
<path d="M1373.1,438.8 C1373,444.9 1373.1,466.6 1372.3,475.3 C1371.5,484 1370.9,485.4 1368.4,491.2 C1365.8,497 1359.6,505.7 1357.2,510.2 C1354.9,514.7 1354.6,516.9 1354.1,518.2" fill="none" stroke="#000" stroke-width="1" stroke-dasharray="6 2.5"/>
<path d="M1338.2,465.5 C1340,464.6 1346.1,460.8 1349.3,460.2 C1352.5,459.6 1355.7,460.2 1357.6,461.8 C1359.4,463.4 1360.5,466.3 1360.4,469.7 C1360.3,473.2 1358.5,479.5 1356.9,482.4 C1355.4,485.4 1352.2,486.4 1351.2,487.2" fill="none" stroke="#000" stroke-width="6" stroke-linejoin="round"/>
<path d="M1338.2,465.5 C1340,464.6 1346.1,460.8 1349.3,460.2 C1352.5,459.6 1355.7,460.2 1357.6,461.8 C1359.4,463.4 1360.5,466.3 1360.4,469.7 C1360.3,473.2 1358.5,479.5 1356.9,482.4 C1355.4,485.4 1352.2,486.4 1351.2,487.2" fill="none" stroke="#fff" stroke-width="4" stroke-linejoin="round"/>
<path d="M1352.5,486.4 L1360.4,489.6" fill="none" stroke="#000" stroke-width="1"/>
<path d="M1349.3,488 L1344.5,500.7" fill="none" stroke="#000" stroke-width="1" stroke-dasharray="4 2"/>
<path d="M1317.5,502.3 L1333.4,493.6 L1340.6,494.4 L1341.4,505.5" fill="none" stroke="#000" stroke-width="1" stroke-dasharray="6 2.5"/>
<ellipse cx="1323.1" cy="505.5" rx="1.8" ry="2.6" fill="none" stroke="#000" stroke-width="1"/>
<path d="M1334.2,497.5 L1335,511.8" fill="none" stroke="#000" stroke-width="1" stroke-dasharray="4 2"/>
<path d="M1339.8,503.1 L1342.2,506.3" fill="none" stroke="#000" stroke-width="1.3"/>
<path d="M1339.8,511 L1342.9,510.6 L1342.9,527.7" fill="none" stroke="#000" stroke-width="1"/>
<path d="M1342.9,527.7 C1344,529.6 1346.1,535.9 1349.3,538.8 C1352.5,541.7 1356.7,544 1362,545.2 C1367.3,546.4 1377.9,545.8 1381.1,546" fill="none" stroke="#000" stroke-width="1"/>
<path d="M1381.1,546 C1382.7,547.4 1388.2,550.6 1390.6,554.7 C1393,558.8 1394.3,565 1395.4,570.6 C1396.4,576.2 1396.7,585.2 1397,588.1" fill="none" stroke="#000" stroke-width="1" stroke-dasharray="6 2.5"/>
<path d="M1354.1,518.2 C1354.1,519.5 1353,523.7 1354.1,526.1 C1355.1,528.5 1357.5,531 1360.4,532.5 C1363.3,533.9 1367.6,534.3 1371.5,534.9 C1375.5,535.4 1382.1,535.5 1384.2,535.7" fill="none" stroke="#000" stroke-width="1"/>
<path d="M1384.2,535.7 C1386.9,537.2 1396.4,540.7 1400.1,545.2 C1403.8,549.7 1405.2,557.1 1406.5,562.7 C1407.8,568.2 1408.3,571.9 1408.1,578.5 C1407.8,585.2 1406.5,594.4 1404.9,602.4 C1403.3,610.3 1399.6,622.1 1398.5,626" fill="none" stroke="#000" stroke-width="1" stroke-dasharray="6 2.5"/>
<path d="M1051.6,596.2 L1075.4,610.5" fill="none" stroke="#000" stroke-width="1" stroke-dasharray="14 4"/>
<path d="M1051.6,632 L1073.8,645.5 L1086.5,655 L1104,665.3 L1148.5,691.5" fill="none" stroke="#000" stroke-width="1" stroke-dasharray="14 4"/>
<path d="M1148.5,691.5 L1159.6,696.3 L1167.5,694.7" fill="none" stroke="#000" stroke-width="1"/>
<path d="M1137.4,650.2 L1159.6,664.5 L1170.7,661.4 L1185,653.4" fill="none" stroke="#000" stroke-width="1" stroke-dasharray="14 4"/>
<path d="M1147.7,693.1 L1148.5,682 L1150.9,674.9" fill="none" stroke="#000" stroke-width="1" stroke-dasharray="6 2.5"/>
<path d="M1146.9,688.4 L1151.7,693.1" fill="none" stroke="#000" stroke-width="1"/>
<path d="M1073.8,616.9 C1074.6,616.1 1075.1,613 1078.6,612.1 C1082,611.2 1090.5,610.8 1094.5,611.3 C1098.4,611.9 1101.1,614.6 1102.4,615.3" fill="none" stroke="#000" stroke-width="1"/>
<path d="M1073.8,616.9 L1073.8,624.8 L1075.4,645.5" fill="none" stroke="#000" stroke-width="1"/>
<path d="M1078.6,618.5 L1100.8,608.9" fill="none" stroke="#000" stroke-width="1.2"/>
<path d="M1073.8,619.3 L1079.4,619.3 L1079.4,625.6 L1073.8,625.6Z" fill="#fff" stroke="#000" stroke-width="1"/>
<path d="M1075.2,619.3 L1075.2,625.6" fill="none" stroke="#000" stroke-width="1"/>
<path d="M1073.8,620.9 L1079.4,620.9" fill="none" stroke="#000" stroke-width="1"/>
<path d="M1076.6,619.3 L1076.6,625.6" fill="none" stroke="#000" stroke-width="1"/>
<path d="M1073.8,622.4 L1079.4,622.4" fill="none" stroke="#000" stroke-width="1"/>
<path d="M1078,619.3 L1078,625.6" fill="none" stroke="#000" stroke-width="1"/>
<path d="M1073.8,624 L1079.4,624" fill="none" stroke="#000" stroke-width="1"/>
<path d="M1089.7,628 C1091,626.9 1095,623.2 1097.6,621.7 C1100.3,620.1 1103.2,617.9 1105.6,618.5 C1108,619 1110.9,623.8 1111.9,624.8" fill="none" stroke="#000" stroke-width="1"/>
<path d="M1087.3,637.5 C1087.1,639.1 1086.3,644.2 1086.2,647.1 C1086.1,650 1086.7,653.7 1086.8,655" fill="none" stroke="#000" stroke-width="1"/>
<path d="M1091.3,628 L1104,621.7 L1107.2,618.5" fill="none" stroke="#000" stroke-width="2"/>
<path d="M1097.6,629.6 L1104.8,624.8" fill="none" stroke="#000" stroke-width="2"/>
<path d="M1090.5,629.6 L1097.6,629.6 L1097.6,638.3 L1090.5,638.3Z" fill="#fff" stroke="#000" stroke-width="1"/>
<path d="M1092.3,629.6 L1092.3,638.3" fill="none" stroke="#000" stroke-width="1"/>
<path d="M1090.5,631.8 L1097.6,631.8" fill="none" stroke="#000" stroke-width="1"/>
<path d="M1094.1,629.6 L1094.1,638.3" fill="none" stroke="#000" stroke-width="1"/>
<path d="M1090.5,634 L1097.6,634" fill="none" stroke="#000" stroke-width="1"/>
<path d="M1095.9,629.6 L1095.9,638.3" fill="none" stroke="#000" stroke-width="1"/>
<path d="M1090.5,636.1 L1097.6,636.1" fill="none" stroke="#000" stroke-width="1"/>
<path d="M1102.4,637.5 C1104.3,636.5 1110.4,632.5 1113.5,631.2 C1116.7,629.9 1118.3,629.1 1121.5,629.6 C1124.7,630.1 1130.7,633.6 1132.6,634.4" fill="none" stroke="#000" stroke-width="1"/>
<path d="M1104,640.7 C1103.8,642.8 1102.8,649.7 1102.7,653.4 C1102.7,657.1 1102.9,660.7 1103.7,662.9 C1104.4,665.2 1106.6,666.3 1107.2,666.9" fill="none" stroke="#000" stroke-width="1"/>
<path d="M1102.4,637.5 L1108,637.5 L1108,644.7 L1102.4,644.7Z" fill="#fff" stroke="#000" stroke-width="1"/>
<path d="M1103.8,637.5 L1103.8,644.7" fill="none" stroke="#000" stroke-width="1"/>
<path d="M1102.4,639.3 L1108,639.3" fill="none" stroke="#000" stroke-width="1"/>
<path d="M1105.2,637.5 L1105.2,644.7" fill="none" stroke="#000" stroke-width="1"/>
<path d="M1102.4,641.1 L1108,641.1" fill="none" stroke="#000" stroke-width="1"/>
<path d="M1106.6,637.5 L1106.6,644.7" fill="none" stroke="#000" stroke-width="1"/>
<path d="M1102.4,642.9 L1108,642.9" fill="none" stroke="#000" stroke-width="1"/>
<path d="M1118.3,645.5 C1119.6,644.4 1123.6,640.7 1126.2,639.1 C1128.9,637.5 1131.8,634.9 1134.2,635.9 C1136.6,637 1139.5,643.9 1140.5,645.5" fill="none" stroke="#000" stroke-width="1"/>
<path d="M1116.7,651.8 C1116.4,653.7 1115.1,659.8 1114.8,662.9 C1114.5,666.1 1114.5,668.9 1115.1,670.9 C1115.7,672.9 1117.8,674.2 1118.3,674.9" fill="none" stroke="#000" stroke-width="1"/>
<path d="M1119.9,647.1 L1132.6,640.7" fill="none" stroke="#000" stroke-width="2"/>
<path d="M1127,650.2 L1135.8,647.1" fill="none" stroke="#000" stroke-width="1.5"/>
<path d="M1119.1,648.7 L1126.2,648.7 L1126.2,657.4 L1119.1,657.4Z" fill="#fff" stroke="#000" stroke-width="1"/>
<path d="M1120.9,648.7 L1120.9,657.4" fill="none" stroke="#000" stroke-width="1"/>
<path d="M1119.1,650.8 L1126.2,650.8" fill="none" stroke="#000" stroke-width="1"/>
<path d="M1122.7,648.7 L1122.7,657.4" fill="none" stroke="#000" stroke-width="1"/>
<path d="M1119.1,653 L1126.2,653" fill="none" stroke="#000" stroke-width="1"/>
<path d="M1124.5,648.7 L1124.5,657.4" fill="none" stroke="#000" stroke-width="1"/>
<path d="M1119.1,655.2 L1126.2,655.2" fill="none" stroke="#000" stroke-width="1"/>
<path d="M1111.9,624.8 L1113.5,631.2" fill="none" stroke="#000" stroke-width="1" stroke-dasharray="4 2"/>
<path d="M1135.8,637.5 L1140.5,647.1 L1136.6,651.8" fill="none" stroke="#000" stroke-width="1" stroke-dasharray="4 2"/>
<path d="M1164,683.3 C1166.6,684.9 1174.5,690 1179.4,693.1 C1184.4,696.2 1190.2,699.6 1193.7,701.9 C1197.3,704.1 1199.2,703.7 1200.6,706.6 C1201.9,709.5 1202.6,715 1201.7,719.3 C1200.8,723.7 1198.1,728.3 1195.3,732.8 C1192.6,737.3 1187.2,742.6 1185,746.3 C1182.8,750 1182.3,752.6 1182.1,755.1 C1182,757.6 1182.9,760.3 1184.2,761.4 C1185.5,762.6 1185.7,761.1 1190,762 C1194.3,762.9 1204.5,764.8 1210,767 C1215.5,769.2 1220.8,774.1 1223,775.5" fill="none" stroke="#000" stroke-width="6" stroke-linejoin="round"/>
<path d="M1164,683.3 C1166.6,684.9 1174.5,690 1179.4,693.1 C1184.4,696.2 1190.2,699.6 1193.7,701.9 C1197.3,704.1 1199.2,703.7 1200.6,706.6 C1201.9,709.5 1202.6,715 1201.7,719.3 C1200.8,723.7 1198.1,728.3 1195.3,732.8 C1192.6,737.3 1187.2,742.6 1185,746.3 C1182.8,750 1182.3,752.6 1182.1,755.1 C1182,757.6 1182.9,760.3 1184.2,761.4 C1185.5,762.6 1185.7,761.1 1190,762 C1194.3,762.9 1204.5,764.8 1210,767 C1215.5,769.2 1220.8,774.1 1223,775.5" fill="none" stroke="#fff" stroke-width="4" stroke-linejoin="round"/>
<path d="M1183.4,689.9 C1187.7,691.5 1200.6,698.2 1208.8,699.5 C1217,700.8 1226.6,698.9 1232.7,697.9 C1238.7,696.8 1243.2,693.9 1245.4,693.1" fill="none" stroke="#000" stroke-width="1" stroke-dasharray="6 2.5"/>
<path d="M1202.5,705.8 C1205.7,706.2 1215.2,708.5 1221.5,708.2 C1227.9,708 1235,706.2 1240.6,704.2 C1246.2,702.3 1252.5,697.6 1254.9,696.3" fill="none" stroke="#000" stroke-width="1" stroke-dasharray="6 2.5"/>
<path d="M1185,688.4 C1187.7,686.8 1196.4,682.3 1200.9,678.8 C1205.4,675.4 1210.2,669.6 1212,667.7" fill="none" stroke="#000" stroke-width="1" stroke-dasharray="12 4"/>
<path d="M1173.9,599.4 L1181.8,594.7 L1208.8,585.1 L1222.3,597.8 L1220.7,604.2 L1192.9,618.5 L1188.2,616.9" fill="none" stroke="#000" stroke-width="1" stroke-dasharray="6 2.5"/>
<path d="M1173.9,599.4 L1169.9,608.9 L1172.3,613.7 L1185,628" fill="none" stroke="#000" stroke-width="1" stroke-dasharray="6 2.5"/>
<path d="M1180.2,608.2 L1189.8,618.5" fill="none" stroke="#000" stroke-width="1.6"/>
<path d="M1176.3,605.8 L1173.1,607.4" fill="none" stroke="#000" stroke-width="1.3"/>
<path d="M1193.7,597.8 L1205.7,593.1 L1212,597.8" fill="none" stroke="#000" stroke-width="1" stroke-dasharray="4 2"/>
<path d="M1200.9,606.6 L1218.4,598.6" fill="none" stroke="#000" stroke-width="1" stroke-dasharray="4 2"/>
<path d="M1197.7,616.9 L1203.3,617.7 L1203.3,620.9" fill="none" stroke="#000" stroke-width="1" stroke-dasharray="4 2"/>
<path d="M1219.2,573.2 C1217.8,573.9 1212.7,575.8 1210.7,577.5 C1208.8,579.2 1207.6,581.7 1207.6,583.5 C1207.6,585.4 1208.9,587.4 1210.7,588.6 C1212.6,589.8 1217.1,589.5 1218.7,590.7 C1220.3,591.8 1220,594.7 1220.3,595.4" fill="none" stroke="#000" stroke-width="5.5" stroke-linejoin="round"/>
<path d="M1219.2,573.2 C1217.8,573.9 1212.7,575.8 1210.7,577.5 C1208.8,579.2 1207.6,581.7 1207.6,583.5 C1207.6,585.4 1208.9,587.4 1210.7,588.6 C1212.6,589.8 1217.1,589.5 1218.7,590.7 C1220.3,591.8 1220,594.7 1220.3,595.4" fill="none" stroke="#fff" stroke-width="3.5" stroke-linejoin="round"/>
<path d="M1198.5,563.7 L1206.4,563.7 L1206.4,573.2 L1198.5,573.2Z" fill="#fff" stroke="#000" stroke-width="1"/>
<path d="M1200.5,563.7 L1200.5,573.2" fill="none" stroke="#000" stroke-width="1"/>
<path d="M1198.5,566.1 L1206.4,566.1" fill="none" stroke="#000" stroke-width="1"/>
<path d="M1202.5,563.7 L1202.5,573.2" fill="none" stroke="#000" stroke-width="1"/>
<path d="M1198.5,568.4 L1206.4,568.4" fill="none" stroke="#000" stroke-width="1"/>
<path d="M1204.5,563.7 L1204.5,573.2" fill="none" stroke="#000" stroke-width="1"/>
<path d="M1198.5,570.8 L1206.4,570.8" fill="none" stroke="#000" stroke-width="1"/>
<path d="M1185.3,628.8 L1193.7,628.8 L1193.7,636.7 L1185.3,636.7Z" fill="#fff" stroke="#000" stroke-width="1"/>
<path d="M1187.4,628.8 L1187.4,636.7" fill="none" stroke="#000" stroke-width="1"/>
<path d="M1185.3,630.8 L1193.7,630.8" fill="none" stroke="#000" stroke-width="1"/>
<path d="M1189.5,628.8 L1189.5,636.7" fill="none" stroke="#000" stroke-width="1"/>
<path d="M1185.3,632.8 L1193.7,632.8" fill="none" stroke="#000" stroke-width="1"/>
<path d="M1191.6,628.8 L1191.6,636.7" fill="none" stroke="#000" stroke-width="1"/>
<path d="M1185.3,634.8 L1193.7,634.8" fill="none" stroke="#000" stroke-width="1"/>
<path d="M1181.8,644.7 L1186.3,644.7 L1186.3,651.8 L1181.8,651.8Z" fill="#fff" stroke="#000" stroke-width="1"/>
<path d="M1182.9,644.7 L1182.9,651.8" fill="none" stroke="#000" stroke-width="1"/>
<path d="M1181.8,646.5 L1186.3,646.5" fill="none" stroke="#000" stroke-width="1"/>
<path d="M1184.1,644.7 L1184.1,651.8" fill="none" stroke="#000" stroke-width="1"/>
<path d="M1181.8,648.3 L1186.3,648.3" fill="none" stroke="#000" stroke-width="1"/>
<path d="M1185.2,644.7 L1185.2,651.8" fill="none" stroke="#000" stroke-width="1"/>
<path d="M1181.8,650 L1186.3,650" fill="none" stroke="#000" stroke-width="1"/>
<path d="M1197.7,540.6 L1204.9,531.1 L1208.8,532.7" fill="none" stroke="#000" stroke-width="1" stroke-dasharray="4 2"/>
<path d="M1201.7,537.5 L1204.9,534.3 L1204.9,542.2" fill="none" stroke="#000" stroke-width="1.6"/>
<path d="M1198.5,548.6 L1196.9,561.3 L1196.1,586.7 L1199.3,587.5" fill="none" stroke="#000" stroke-width="1" stroke-dasharray="6 2.5"/>
<path d="M1190.6,637.5 C1191.8,639.1 1194.7,644.7 1197.7,647.1 C1200.8,649.4 1205.7,651 1208.8,651.8 C1212,652.6 1215.4,651.8 1216.8,651.8" fill="none" stroke="#000" stroke-width="1.3"/>
<path d="M1188.2,651.8 C1189.5,653.2 1192.7,657.9 1196.1,659.8 C1199.6,661.6 1204.9,662.9 1208.8,662.9 C1212.8,662.9 1218.1,660.3 1219.9,659.8" fill="none" stroke="#000" stroke-width="1"/>
<path d="M1182.6,631.2 L1181,642.3 L1181.8,651.8" fill="none" stroke="#000" stroke-width="1" stroke-dasharray="6 2.5"/>
<path d="M1193.7,624.8 L1200.1,621.7 L1205.7,629.6 L1208.8,634.4" fill="none" stroke="#000" stroke-width="1" stroke-dasharray="4 2"/>
<path d="M1061.1,520 C1063.2,521.3 1069.1,526.1 1073.8,527.9 C1078.6,529.8 1084.4,531.3 1089.7,531.1 C1095,531 1102.9,527.8 1105.6,527.1" fill="none" stroke="#000" stroke-width="1"/>
<path d="M1110.4,520 C1112.2,521.3 1116.7,526.9 1121.5,527.9 C1126.2,529 1133.7,527.7 1138.9,526.4 C1144.2,525 1150.9,521.1 1153.2,520" fill="none" stroke="#000" stroke-width="1"/>
<path d="M1208.8,520 C1209.1,523.2 1208.8,533.8 1210.4,539.1 C1212,544.4 1214.7,548.6 1218.4,551.8 C1222.1,554.9 1227.9,558.1 1232.7,558.1 C1237.4,558.1 1244.6,552.8 1247,551.8" fill="none" stroke="#000" stroke-width="1" stroke-dasharray="6 2.5"/>
<path d="M1231.1,526.4 C1231.7,527.7 1234,531.4 1235,534.3 C1236.1,537.2 1237,542.2 1237.4,543.8" fill="none" stroke="#000" stroke-width="1"/>
<path d="M1251.7,520 L1256.5,543.8 L1266,535.9" fill="none" stroke="#000" stroke-width="1" stroke-dasharray="6 2.5"/>
<path d="M1237.4,554.9 L1248.5,548.6 L1253.3,550.2" fill="none" stroke="#000" stroke-width="1" stroke-dasharray="6 2.5"/>
<path d="M1218.4,567.6 L1237.4,554.1 L1243.8,558.9 L1243,566.1 L1223.1,578" fill="none" stroke="#000" stroke-width="1" stroke-dasharray="10 3"/>
<path d="M1247,562.9 L1261.2,554.1 L1276,554.1" fill="none" stroke="#000" stroke-width="1"/>
<path d="M1249.3,566.1 L1261.2,561.3 L1262.8,566.1 L1250.9,571.6 L1249.3,566.1" fill="none" stroke="#000" stroke-width="1" stroke-dasharray="4 2"/>
<path d="M1220.7,602.6 C1221.4,605.8 1222.2,614.2 1224.7,621.7 C1227.2,629.1 1230.3,637.5 1235.8,647.1 C1241.4,656.6 1252,671.7 1258.1,678.8 C1264.2,686 1270,688.1 1272.4,689.9" fill="none" stroke="#000" stroke-width="1" stroke-dasharray="12 4"/>
<path d="M1208.8,621.7 C1210.9,628 1216.2,648.1 1221.5,659.8 C1226.8,671.4 1234.8,684.4 1240.6,691.5 C1246.4,698.7 1250.6,698.4 1256.5,702.7 C1262.4,706.9 1272.8,714.6 1276,717" fill="none" stroke="#000" stroke-width="1" stroke-dasharray="12 4"/>
<path d="M1237.4,583.5 C1236.9,586.7 1236.4,596.2 1234.2,602.6 C1232.1,608.9 1226.3,618.5 1224.7,621.7" fill="none" stroke="#000" stroke-width="1" stroke-dasharray="6 2.5"/>
<path d="M1219.9,604.2 C1221.5,603.1 1227,599.4 1229.5,597.8 C1232,596.2 1234.1,595.2 1235,594.7" fill="none" stroke="#000" stroke-width="1" stroke-dasharray="6 2.5"/>
<path d="M1397.8,542 C1399.1,544.2 1404,550.3 1405.6,555.7 C1407.3,561 1407.8,566.7 1407.6,573.9 C1407.4,581.1 1406.2,590.2 1404.3,598.7 C1402.5,607.2 1399.3,616.5 1396.5,624.8 C1393.7,633 1389.2,642.8 1387.4,648.3 C1385.5,653.7 1386.1,653 1385.4,657.4 C1384.8,661.7 1385.3,668.7 1383.5,674.3 C1381.6,680 1378,686.1 1374.3,691.3 C1370.6,696.5 1366.3,701.6 1361.3,705.6 C1356.3,709.7 1347.2,713.8 1344.3,715.4" fill="none" stroke="#000" stroke-width="1" stroke-dasharray="4 2"/>
<path d="M1383.5,545.9 C1384.8,547.9 1389.3,553.2 1391.3,558.3 C1393.3,563.4 1394.6,572.2 1395.2,576.5 C1395.9,580.9 1395.2,583 1395.2,584.3" fill="none" stroke="#000" stroke-width="1" stroke-dasharray="4 2"/>
<path d="M1350.9,540 C1352.8,541 1357.2,544.8 1362.6,545.9 C1368,546.9 1380,546.2 1383.5,546.3" fill="none" stroke="#000" stroke-width="1"/>
<path d="M1358,575.2 C1360.1,574.6 1366.2,571.3 1370.4,571.3 C1374.7,571.3 1379.6,573 1383.5,575.2 C1387.4,577.4 1391.5,582.1 1393.9,584.3 C1396.3,586.6 1397.2,588.2 1397.8,588.9" fill="none" stroke="#000" stroke-width="1" stroke-dasharray="6 2.5"/>
<path d="M1360,580.4 C1362,579.8 1368,576.5 1371.7,576.5 C1375.4,576.5 1379.1,578.7 1382.2,580.4 C1385.2,582.2 1388.7,585.9 1390,587" fill="none" stroke="#000" stroke-width="1" stroke-dasharray="6 2.5"/>
<path d="M1375.6,588.9 L1390,587.6 L1391.9,588.9" fill="none" stroke="#000" stroke-width="1"/>
<ellipse cx="1347.6" cy="585" rx="5.2" ry="7.4" fill="#fff" stroke="#000" stroke-width="1.3" transform="rotate(25 1347.6 585)"/>
<ellipse cx="1347.6" cy="585" rx="2.4" ry="4.2" fill="none" stroke="#000" stroke-width="1" transform="rotate(25 1347.6 585)"/>
<path d="M1354.1,578.5 L1356.1,579.8 L1354.8,583" fill="none" stroke="#000" stroke-width="1.4"/>
<path d="M1302.3,585 L1312.4,579.1 L1324.1,585.7 L1324.1,605.2 L1313,609.8 L1302.3,604.6Z" fill="#fff" stroke="#000" stroke-width="1" stroke-dasharray="6 2.5"/>
<path d="M1302.3,585 L1313,590.2 L1324.1,585.7 M1313,590.2 L1313,609.8" fill="none" stroke="#000" stroke-width="1" stroke-dasharray="6 2.5"/>
<path d="M1323.5,596.1 L1336.5,589.6 L1348.3,596.1 L1333.9,601.3 L1323.5,596.1" fill="none" stroke="#000" stroke-width="1" stroke-dasharray="6 2.5"/>
<path d="M1333.3,601.3 L1333.3,649.6" fill="none" stroke="#000" stroke-width="1" stroke-dasharray="9 3"/>
<path d="M1323.5,596.1 L1323.5,607.8" fill="none" stroke="#000" stroke-width="1" stroke-dasharray="6 2.5"/>
<path d="M1325.4,641.7 L1326.1,647 L1333.3,650.2" fill="none" stroke="#000" stroke-width="1" stroke-dasharray="6 2.5"/>
<path d="M1348,617 L1348,643" fill="none" stroke="#000" stroke-width="1.3"/>
<path d="M1346.3,600.6 L1346.3,611.7" fill="none" stroke="#000" stroke-width="1.3"/>
<path d="M1346.3,600.6 L1357.4,598.7 L1365.2,594.8" fill="none" stroke="#000" stroke-width="1" stroke-dasharray="6 2.5"/>
<path d="M1337.8,618.3 L1345.6,614.3 L1348.3,617" fill="none" stroke="#000" stroke-width="1.2"/>
<path d="M1338.5,622.2 L1346.3,618.3" fill="none" stroke="#000" stroke-width="1.2"/>
<path d="M1348.9,622.8 C1350.4,620.3 1355.2,611.7 1358,607.8 C1360.9,603.9 1362.8,601.8 1365.9,599.3 C1368.9,596.8 1374.6,593.9 1376.3,592.8" fill="none" stroke="#000" stroke-width="5.5" stroke-linejoin="round"/>
<path d="M1348.9,622.8 C1350.4,620.3 1355.2,611.7 1358,607.8 C1360.9,603.9 1362.8,601.8 1365.9,599.3 C1368.9,596.8 1374.6,593.9 1376.3,592.8" fill="none" stroke="#fff" stroke-width="3.5" stroke-linejoin="round"/>
<path d="M1348.3,626.1 C1349.3,625.4 1352.2,623 1354.8,622.2 C1357.4,621.3 1361.3,620.4 1363.9,620.9 C1366.5,621.3 1368.4,623.3 1370.4,624.8 C1372.5,626.3 1375.3,629.1 1376.3,630" fill="none" stroke="#000" stroke-width="1"/>
<path d="M1348.5,630 C1349.7,629.2 1353.1,626.3 1355.4,625.4 C1357.8,624.6 1360.4,624.2 1362.6,624.8 C1364.8,625.3 1367.5,628 1368.5,628.7" fill="none" stroke="#000" stroke-width="1"/>
<path d="M1377,592.2 L1380.9,592.2 L1379.6,597.4 L1376.3,598" fill="none" stroke="#000" stroke-width="1.2"/>
<path d="M1380.9,598.7 C1382,598.7 1385.9,597.2 1387.4,598.7 C1388.9,600.2 1390.2,604.1 1390,607.8 C1389.8,611.5 1387.5,617.7 1386.1,620.9 C1384.7,624 1382.3,625.8 1381.5,626.7" fill="none" stroke="#000" stroke-width="1" stroke-dasharray="6 2.5"/>
<path d="M1368.5,601.3 C1369.7,603.3 1374.3,608.3 1375.6,613 C1377,617.8 1376.2,627.2 1376.3,630" fill="none" stroke="#000" stroke-width="1" stroke-dasharray="6 2.5"/>
<path d="M1373,600 C1374.2,602.2 1378.9,609.1 1380.2,613 C1381.5,617 1380.8,621.7 1380.9,623.5" fill="none" stroke="#000" stroke-width="1" stroke-dasharray="6 2.5"/>
<path d="M1348.3,594.8 C1349.8,594.5 1354.6,592.8 1357.4,592.8 C1360.2,592.8 1363.9,594.5 1365.2,594.8" fill="none" stroke="#000" stroke-width="1" stroke-dasharray="6 2.5"/>
<path d="M1370.4,624.8 C1371.1,626.7 1373.9,633.3 1374.3,636.5 C1374.8,639.8 1374.6,642.8 1373,644.3 C1371.5,645.9 1367.4,644.6 1365.2,645.6 C1363,646.7 1360.9,650 1360,650.9" fill="none" stroke="#000" stroke-width="1"/>
<path d="M1373,644.3 C1372.8,645.6 1372,648.7 1371.7,652.2 C1371.5,655.6 1372.2,661.7 1371.7,665.2 C1371.3,668.7 1370.9,670 1369.1,673 C1367.4,676.1 1365.9,679.3 1361.3,683.5 C1356.7,687.6 1345,695.4 1341.7,697.8" fill="none" stroke="#000" stroke-width="1"/>
<path d="M1371.7,653.5 C1372.8,654.1 1376,657.2 1378.3,657.4 C1380.5,657.6 1384.2,655.2 1385.4,654.8" fill="none" stroke="#000" stroke-width="1"/>
<path d="M1340.4,649.6 C1341.2,648.7 1343.4,645.1 1345,644.6 C1346.6,644.1 1348.8,644.9 1349.8,646.3 C1350.8,647.7 1351.3,650.5 1351.1,652.8 C1351,655.1 1350.3,657.6 1348.9,660 C1347.6,662.4 1345.6,664.6 1343,667.2 C1340.4,669.8 1334.9,674.2 1333.3,675.6" fill="none" stroke="#000" stroke-width="5.5" stroke-linejoin="round"/>
<path d="M1340.4,649.6 C1341.2,648.7 1343.4,645.1 1345,644.6 C1346.6,644.1 1348.8,644.9 1349.8,646.3 C1350.8,647.7 1351.3,650.5 1351.1,652.8 C1351,655.1 1350.3,657.6 1348.9,660 C1347.6,662.4 1345.6,664.6 1343,667.2 C1340.4,669.8 1334.9,674.2 1333.3,675.6" fill="none" stroke="#fff" stroke-width="3.5" stroke-linejoin="round"/>
<path d="M1337.8,647 L1343,650.9" fill="none" stroke="#000" stroke-width="1.3"/>
<path d="M1339.8,650.9 L1344.3,652.2" fill="none" stroke="#000" stroke-width="1.3"/>
<path d="M1340.4,690 C1342.2,686.7 1347.6,677 1350.9,670.4 C1354.1,663.9 1356.7,655.2 1360,650.9 C1363.3,646.5 1368.7,645.4 1370.4,644.3" fill="none" stroke="#000" stroke-width="1"/>
<path d="M1341.7,696.5 C1343.7,693 1350.2,682.2 1353.5,675.6 C1356.7,669.1 1358.5,661.7 1361.3,657.4 C1364.1,653 1368.9,650.9 1370.4,649.6" fill="none" stroke="#000" stroke-width="1"/>
<path d="M1348.3,690 C1349.8,688 1354,682.4 1357.4,678.3 C1360.8,674.1 1366.6,667.4 1368.5,665.2" fill="none" stroke="#000" stroke-width="1"/>
<path d="M1352.2,690 L1365.2,675.6" fill="none" stroke="#000" stroke-width="1" stroke-dasharray="6 2.5"/>
<path d="M1311.1,611.1 L1311.7,623.5 L1318.3,633.9 L1324.8,637.2 L1325.4,641.7" fill="none" stroke="#000" stroke-width="1" stroke-dasharray="6 2.5"/>
<path d="M1311.1,611.1 L1314.3,611.7 L1315.6,620.9 L1323.5,631.3" fill="none" stroke="#000" stroke-width="1"/>
<path d="M1318.3,622.2 L1323.5,630" fill="none" stroke="#000" stroke-width="1.4"/>
<path d="M1325.4,620.9 L1326.7,623.5" fill="none" stroke="#000" stroke-width="2"/>
<path d="M1319.6,683.5 L1328.7,678.3 L1339.8,680.9" fill="none" stroke="#000" stroke-width="1" stroke-dasharray="6 2.5"/>
<path d="M1329.3,675.6 L1336.5,680.2" fill="none" stroke="#000" stroke-width="1.4"/>
<path d="M1319.6,683.5 L1319.6,720" fill="none" stroke="#000" stroke-width="1" stroke-dasharray="10 2"/>
<path d="M1327.4,687.4 L1327.4,723.9" fill="none" stroke="#000" stroke-width="1" stroke-dasharray="10 3"/>
<path d="M1335.9,682.2 L1335.9,722.6" fill="none" stroke="#000" stroke-width="2.4" stroke-dasharray="9 3"/>
<path d="M1339.8,680.9 L1339.8,718.7" fill="none" stroke="#000" stroke-width="1" stroke-dasharray="10 2"/>
<path d="M1319.6,720 L1327.4,723.9 L1339.8,718.7" fill="none" stroke="#000" stroke-width="1" stroke-dasharray="6 2.5"/>
<path d="M1319.6,683.5 L1327.4,687.4 L1335.9,683.5" fill="none" stroke="#000" stroke-width="1" stroke-dasharray="6 2.5"/>
<path d="M1303.9,718.7 L1318.3,720" fill="none" stroke="#000" stroke-width="1" stroke-dasharray="6 2.5"/>
<path d="M1304.6,719.3 L1304.6,733 L1313,734.3 L1337.8,733 L1337.8,722.6" fill="none" stroke="#000" stroke-width="1.4" stroke-dasharray="8 3"/>
<path d="M1344.3,716.1 L1344.3,733 L1339.1,733" fill="none" stroke="#000" stroke-width="1" stroke-dasharray="6 2.5"/>
<path d="M1313,721.3 L1313,734.3" fill="none" stroke="#000" stroke-width="1" stroke-dasharray="6 2.5"/>
<path d="M1310.4,705.6 L1310.4,695.2 L1319.6,683.5" fill="none" stroke="#000" stroke-width="1"/>
<path d="M1318.3,693.9 C1317.6,694.8 1314.8,697.3 1314.3,699.1 C1313.9,701 1314.9,703.9 1315.6,705 C1316.4,706.1 1318.4,705.5 1318.9,705.6" fill="none" stroke="#000" stroke-width="1"/>
<path d="M1309.8,706.3 C1307.1,704.9 1298.4,700 1293.5,697.8 C1288.6,695.6 1283.9,693.5 1280.4,693.3 C1277,693 1274.3,694.3 1272.9,696.5 C1271.4,698.7 1270.8,703.1 1271.6,706.3 C1272.3,709.4 1274.4,712.8 1277.2,715.4 C1280,718.1 1284.1,721 1288.3,722.3 C1292.4,723.6 1299.7,723.1 1302,723.3" fill="none" stroke="#000" stroke-width="6" stroke-dasharray="60 0 6 3 6 3 6 3 300 0" stroke-linejoin="round"/>
<path d="M1309.8,706.3 C1307.1,704.9 1298.4,700 1293.5,697.8 C1288.6,695.6 1283.9,693.5 1280.4,693.3 C1277,693 1274.3,694.3 1272.9,696.5 C1271.4,698.7 1270.8,703.1 1271.6,706.3 C1272.3,709.4 1274.4,712.8 1277.2,715.4 C1280,718.1 1284.1,721 1288.3,722.3 C1292.4,723.6 1299.7,723.1 1302,723.3" fill="none" stroke="#fff" stroke-width="4" stroke-linejoin="round"/>
<path d="M1305.9,713.5 L1318.3,714.8" fill="none" stroke="#000" stroke-width="1" stroke-dasharray="6 2.5"/>
<path d="M1241.3,606.5 L1247.8,602.6 L1262.2,610.4 L1262.8,615.6 L1255.7,618.3 L1254.3,630 L1241.3,622.2 L1241.3,606.5" fill="none" stroke="#000" stroke-width="1" stroke-dasharray="6 2.5"/>
<path d="M1251.1,618.3 L1254.3,619.6" fill="none" stroke="#000" stroke-width="2.2"/>
<path d="M1251.1,624.8 L1254.3,626.1" fill="none" stroke="#000" stroke-width="2.2"/>
<path d="M1241.3,606.5 L1255.7,613 L1255.7,618.3" fill="none" stroke="#000" stroke-width="1" stroke-dasharray="4 2"/>
<path d="M1259.6,618.9 C1261,620.1 1265.9,622.9 1268,626.1 C1270.2,629.2 1271.8,633 1272.6,637.8 C1273.4,642.6 1273.8,649.7 1272.6,654.8 C1271.4,659.9 1267.8,664.7 1265.4,668.5 C1263,672.3 1259.5,676.1 1258.3,677.6" fill="none" stroke="#000" stroke-width="6" stroke-dasharray="4 2" stroke-linejoin="round"/>
<path d="M1259.6,618.9 C1261,620.1 1265.9,622.9 1268,626.1 C1270.2,629.2 1271.8,633 1272.6,637.8 C1273.4,642.6 1273.8,649.7 1272.6,654.8 C1271.4,659.9 1267.8,664.7 1265.4,668.5 C1263,672.3 1259.5,676.1 1258.3,677.6" fill="none" stroke="#fff" stroke-width="4" stroke-linejoin="round"/>
<path d="M1240,656.1 L1255.7,675.6 L1271.3,690 L1279.1,690" fill="none" stroke="#000" stroke-width="1" stroke-dasharray="10 4"/>
<path d="M1240,687.4 L1253,696.5 L1270,710.9" fill="none" stroke="#000" stroke-width="1" stroke-dasharray="10 4"/>
<path d="M1240,703 L1253,696.5" fill="none" stroke="#000" stroke-width="1" stroke-dasharray="6 2.5"/>
<path d="M1251.7,560.9 L1260.9,555.7 L1300,545.2 L1300.6,540" fill="none" stroke="#000" stroke-width="1"/>
<path d="M1301.3,545.5 L1320.9,545.9" fill="none" stroke="#000" stroke-width="1" stroke-dasharray="6 2.5"/>
<path d="M1321.5,546.5 L1328.7,547.2 L1339.1,545.2 L1343,540" fill="none" stroke="#000" stroke-width="1"/>
<path d="M1327.4,546.5 L1328.7,542 L1336.5,541.3" fill="none" stroke="#000" stroke-width="1"/>
<path d="M1250.4,567.4 L1262.2,563.5 L1262.8,566.1 L1251.1,572 L1250.4,567.4" fill="none" stroke="#000" stroke-width="1" stroke-dasharray="4 2"/>
<path d="M1240,557 L1251.7,547.8 L1257,554.3" fill="none" stroke="#000" stroke-width="1" stroke-dasharray="6 2.5"/>
<path d="M1271.3,542.6 L1285.7,540" fill="none" stroke="#000" stroke-width="1" stroke-dasharray="6 2.5"/>
<ellipse cx="1231.2" cy="784.6" rx="8" ry="5" fill="#fff" stroke="#000" stroke-width="1.3" transform="rotate(10 1231.2 784.6)"/>
<ellipse cx="1231.2" cy="784.6" rx="4" ry="2.4" fill="none" stroke="#000" stroke-width="1" transform="rotate(10 1231.2 784.6)"/>
<path d="M1221,776 L1224,781.5" fill="none" stroke="#000" stroke-width="1.3"/>
<path d="M1223.5,775 L1228,779.5" fill="none" stroke="#000" stroke-width="1.3"/>
<path d="M892,672.5 C895.3,673.1 905.8,676.1 912,676 C918.2,675.9 926.2,672.7 929,672" fill="none" stroke="#000" stroke-width="1" stroke-dasharray="6 2.5"/>
<path d="M880,685.5 C885.3,686.2 903.3,690.6 912,690 C920.7,689.4 928.7,683.3 932,682" fill="none" stroke="#000" stroke-width="1" stroke-dasharray="6 2.5"/>
<path d="M890.6,624.9 L890.6,589.9 L896.9,584.9 L910.6,589.9 L910.6,627.4 L900.6,632.4 L890.6,624.9" fill="none" stroke="#000" stroke-width="1" stroke-dasharray="6 2.5"/>
<path d="M898.1,593.7 L898.1,631.1" fill="none" stroke="#000" stroke-width="1" stroke-dasharray="6 2.5"/>
<path d="M903.1,593.7 L903.1,632.4" fill="none" stroke="#000" stroke-width="1" stroke-dasharray="6 2.5"/>
<path d="M890.6,589.9 L899.4,593.7 L910.6,589.9" fill="none" stroke="#000" stroke-width="1" stroke-dasharray="4 2"/>
<path d="M909.4,611.9 C911.1,614.5 916.8,621.5 919.8,627.4 C922.8,633.3 925.3,640.2 927.3,647.4 C929.3,654.5 931.1,666.5 931.8,670.4" fill="none" stroke="#000" stroke-width="5.5" stroke-linejoin="round"/>
<path d="M909.4,611.9 C911.1,614.5 916.8,621.5 919.8,627.4 C922.8,633.3 925.3,640.2 927.3,647.4 C929.3,654.5 931.1,666.5 931.8,670.4" fill="none" stroke="#fff" stroke-width="3.5" stroke-linejoin="round"/>
<ellipse cx="933.8" cy="676.9" rx="5.2" ry="7" fill="#fff" stroke="#000" stroke-width="1" transform="rotate(15 933.8 676.9)"/>
<ellipse cx="933.3" cy="677.4" rx="2.6" ry="4.6" fill="none" stroke="#000" stroke-width="1" transform="rotate(15 933.3 677.4)"/>
<path d="M988.8,123 L1107,193.5 L1121,199.5 L1126,196 L1126,184 L1111,177.5 L1013,122 L1003,112.5 L995,107.5 L990,108.8 L988.8,112 L993,115.6 L988.8,120Z" fill="#fff" stroke="#000" stroke-width="1.6"/>
<path d="M994,118 L999,119.5 L1003.5,121.5 L1003.5,126" fill="none" stroke="#000" stroke-width="1.6"/>
<path d="M996.5,121 L1000,123" fill="none" stroke="#000" stroke-width="1.4"/>
<circle cx="1008.3" cy="127.5" r="1.1" fill="#000" stroke="#000" stroke-width="0.5"/>
<path d="M1013.5,125 L1097.5,172.5" fill="none" stroke="#000" stroke-width="1.2"/>
<path d="M1030,145 L1035,147.6" fill="none" stroke="#000" stroke-width="3.2"/>
<path d="M1040,150 L1051.3,157" fill="none" stroke="#000" stroke-width="3.2"/>
<path d="M1062.5,163.7 L1070,167.5" fill="none" stroke="#000" stroke-width="3.2"/>
<path d="M1075,170.6 L1086.3,177" fill="none" stroke="#000" stroke-width="3.2"/>
<path d="M1092.5,181.2 L1100,185" fill="none" stroke="#000" stroke-width="3.2"/>
<path d="M1030,141.2 L1036.3,137.5" fill="none" stroke="#000" stroke-width="1.4"/>
<path d="M1111,177.5 L1126,184 L1126,187.8 L1120,189 L1126,193 L1126,196.5 L1121,199.5 L1107,193.5" fill="none" stroke="#000" stroke-width="1.6"/>
<path d="M1096,184 L1102,180 L1108,178.5" fill="none" stroke="#000" stroke-width="1.2"/>
<path d="M1101,186.5 L1106,183 L1110,182" fill="none" stroke="#000" stroke-width="1.2"/>
<path d="M1111,180 L1113,186 L1116,189.5" fill="none" stroke="#000" stroke-width="1.4"/>
<path d="M1007.5,17 L995,10 L990,11.9 L988.8,15 L993,18.8 L988.8,23 L988.8,26.9 L1003.8,34.4 L1007.5,35 L1012.5,31.9" fill="#fff" stroke="#000" stroke-width="1.6"/>
<path d="M993,21 L998,22 L1003.5,24.5 L1003.5,30" fill="none" stroke="#000" stroke-width="1.6"/>
<path d="M996,24.5 L1000,26" fill="none" stroke="#000" stroke-width="1.4"/>
<path d="M1006,16 L1124,85" fill="none" stroke="#000" stroke-width="3.2"/>
<path d="M1003,35 L1012.5,32 L1099.4,82.5 L1113.8,98.8 L1113.8,177.5 L1013,122 L1003,112.5Z" fill="#fff" stroke="#000" stroke-width="0"/>
<path d="M1012.5,32 L1013.5,32.2" fill="none" stroke="#000" stroke-width="1.6"/>
<path d="M1012.5,32 L1099.4,82.5" fill="none" stroke="#000" stroke-width="1.8"/>
<path d="M1099.4,82.5 C1099.9,83.4 1101.2,86.3 1102.5,88 C1103.8,89.7 1105.6,90.7 1107.5,92.5 C1109.4,94.3 1112.8,97.8 1113.8,98.8" fill="none" stroke="#000" stroke-width="1.6"/>
<path d="M1123.8,85 L1126.3,87.5 L1126.3,91.3 L1120,93 L1126.3,96.3 L1126.3,101.3 L1121.9,103 L1113.8,98.8" fill="none" stroke="#000" stroke-width="1.6"/>
<path d="M1106.5,84 L1108.5,87.5 L1111.5,90 L1112.5,95" fill="none" stroke="#000" stroke-width="1.6"/>
<path d="M1119,91 L1124,89.5" fill="none" stroke="#000" stroke-width="2.2"/>
<path d="M1003,35 L1003,112.5" fill="none" stroke="#000" stroke-width="1.8"/>
<path d="M1013,42.5 L1100,93.3" fill="none" stroke="#000" stroke-width="1.9"/>
<path d="M1004.5,43.5 L1109.4,104.8" fill="none" stroke="#000" stroke-width="1.9"/>
<path d="M1004.5,49.5 L1109.4,110.8" fill="none" stroke="#000" stroke-width="1.9"/>
<path d="M1004.5,55.5 L1109.4,116.8" fill="none" stroke="#000" stroke-width="1.9"/>
<path d="M1004.5,61.5 L1109.4,122.8" fill="none" stroke="#000" stroke-width="1.9"/>
<path d="M1004.5,67.5 L1109.4,128.8" fill="none" stroke="#000" stroke-width="1.9"/>
<path d="M1004.5,73.5 L1109.4,134.8" fill="none" stroke="#000" stroke-width="1.9"/>
<path d="M1004.5,79.5 L1109.4,140.8" fill="none" stroke="#000" stroke-width="1.9"/>
<path d="M1004.5,85.5 L1109.4,146.8" fill="none" stroke="#000" stroke-width="1.9"/>
<path d="M1004.5,91.5 L1109.4,152.8" fill="none" stroke="#000" stroke-width="1.9"/>
<path d="M1008.8,100 L1109.4,158.8" fill="none" stroke="#000" stroke-width="1.9"/>
<path d="M1008.8,106 L1109.4,164.8" fill="none" stroke="#000" stroke-width="1.9"/>
<path d="M1008.8,112 L1109.4,170.8" fill="none" stroke="#000" stroke-width="1.9"/>
<path d="M1009,118.1 L1109.4,176.8" fill="none" stroke="#000" stroke-width="1.9"/>
<path d="M1003.5,94.5 L1007,96.5" fill="none" stroke="#000" stroke-width="1.6"/>
<path d="M1003.5,100.5 L1007,102.5" fill="none" stroke="#000" stroke-width="1.6"/>
<path d="M1003.5,106.5 L1007,108.5" fill="none" stroke="#000" stroke-width="1.6"/>
<path d="M1003.5,112.5 L1007,114.5" fill="none" stroke="#000" stroke-width="1.6"/>
<path d="M1013,122 L1110,177.5" fill="none" stroke="#000" stroke-width="2.2"/>
<circle cx="1013.5" cy="122.3" r="1.6" fill="#000" stroke="#000" stroke-width="0.5"/>
<circle cx="1014" cy="37.8" r="1.3" fill="#000" stroke="#000" stroke-width="0.5"/>
<path d="M1008.8,92.5 L1008.8,120" fill="none" stroke="#000" stroke-width="1.4"/>
<path d="M1048.5,66 L1048.5,122.5" fill="none" stroke="#000" stroke-width="1.5"/>
<path d="M1091.3,137.5 L1091.3,155" fill="none" stroke="#000" stroke-width="1.5"/>
<path d="M1070,145 L1070,156.5" fill="none" stroke="#000" stroke-width="3.2"/>
<path d="M1062,160 C1062.7,159.2 1064.8,155.9 1066,155 C1067.2,154.1 1068.5,154.6 1069,154.5" fill="none" stroke="#000" stroke-width="1.3"/>
<path d="M1055,165 L1059,163 L1062,160" fill="none" stroke="#000" stroke-width="1.2"/>
<path d="M1023.8,102.5 L1027.5,103.8" fill="none" stroke="#000" stroke-width="1.6"/>
<path d="M1023.8,110 L1027.5,108.8" fill="none" stroke="#000" stroke-width="1.6"/>
<path d="M1023.8,115 L1027,113.8" fill="none" stroke="#000" stroke-width="1.6"/>
<circle cx="1055.3" cy="55" r="1.9" fill="#000" stroke="#000" stroke-width="0.5"/>
<path d="M1052,53 L1055,55" fill="none" stroke="#000" stroke-width="1.6"/>
<path d="M1057,57.5 L1062.5,58.7" fill="none" stroke="#000" stroke-width="1.8"/>
<path d="M1030,81 L1032,80 L1040,85 L1040,96.5 L1038,97 L1030,93Z" fill="#fff" stroke="#000" stroke-width="1.6"/>
<ellipse cx="1036.3" cy="89.5" rx="2.6" ry="4.2" fill="#000" stroke="#000" stroke-width="0.5" transform="rotate(-15 1036.3 89.5)"/>
<path d="M1041,88 L1048,91 L1048,106 L1041,103Z" fill="#fff" stroke="none" stroke-width="0"/>
<path d="M1047,91 L1043.3,90 L1043.3,94 L1046.5,95" fill="none" stroke="#000" stroke-width="1.5"/>
<path d="M1047,98 L1043.8,97.5 L1043.8,103 L1047,104" fill="none" stroke="#000" stroke-width="1.5"/>
<path d="M1043.8,100 L1046,100.5" fill="none" stroke="#000" stroke-width="1.3"/>
<path d="M1050,94 L1062,99 L1062,110 L1050,106Z" fill="#fff" stroke="none" stroke-width="0"/>
<path d="M1051.5,95.5 L1051.5,105 L1060.5,109.5" fill="none" stroke="#000" stroke-width="1.5"/>
<path d="M1061,99 L1061,107" fill="none" stroke="#000" stroke-width="1.4"/>
<path d="M1113.1,98.8 L1117.3,98.8 L1117.3,177.5 L1113.1,177.5Z" fill="#000" stroke="#000" stroke-width="0.5"/>
<path d="M1117.5,127.5 L1121.9,130.6 L1122.5,151.9 L1118,160.6" fill="none" stroke="#000" stroke-width="1.4"/>
<path d="M1081.6,0 L1062.5,47" fill="none" stroke="#000" stroke-width="1.6"/>
<path d="M1069.4,167.5 L1069.4,216.5" fill="none" stroke="#000" stroke-width="1"/>
<path d="M1405.4,202.2 L1366.8,270" fill="none" stroke="#000" stroke-width="1.6"/>
<path d="M1415.6,298.5 L1421,301.5 L1426,310 L1426,318 L1421,327 L1416,326 L1411,322 L1410,324 L1410,346 L1413,349 L1420,351 L1426,354 L1426,366 L1420,374 L1412,375.5 L1408.8,373 L1389.8,384" fill="#fff" stroke="#000" stroke-width="1.7"/>
<path d="M1405,297.5 C1405.7,297.7 1408.1,297.9 1409,298.5 C1409.9,299.1 1410.2,300.6 1410.5,301" fill="none" stroke="#000" stroke-width="1.5"/>
<circle cx="1414" cy="308" r="1.9" fill="#000" stroke="#000" stroke-width="0.5"/>
<path d="M1416,316 C1416.7,316.4 1418.7,318.3 1420,318.5 C1421.3,318.7 1423.3,317.2 1424,317" fill="none" stroke="#000" stroke-width="1.5"/>
<path d="M1420,323 C1420.3,323.5 1421.8,325.3 1422,326 C1422.2,326.7 1421.2,326.8 1421,327" fill="none" stroke="#000" stroke-width="1.2"/>
<path d="M1403.5,353 C1404.1,352.7 1406.1,351.9 1407,351 C1407.9,350.1 1408.7,348.1 1409,347.5" fill="none" stroke="#000" stroke-width="1.6"/>
<circle cx="1414" cy="370" r="2" fill="#000" stroke="#000" stroke-width="0.5"/>
<path d="M1416,358.5 C1416.7,358.8 1418.7,360.4 1420,360.5 C1421.3,360.6 1423.3,359.2 1424,359" fill="none" stroke="#000" stroke-width="1.5"/>
<circle cx="1421" cy="368" r="1" fill="#000" stroke="#000" stroke-width="0.5"/>
<path d="M1299,256.4 L1313,239.5 L1415.6,298.5 L1389.8,309.3Z" fill="#fff" stroke="#000" stroke-width="0"/>
<path d="M1299,256.4 L1313,239.5 L1415.6,298.5" fill="none" stroke="#000" stroke-width="1.7"/>
<path d="M1302.5,253 L1302.5,245.5 L1308,241 L1313,239.5" fill="#fff" stroke="#000" stroke-width="1.7"/>
<path d="M1309,249.5 L1315,245.5" fill="none" stroke="#000" stroke-width="2.4"/>
<path d="M1292.9,257.1 L1299,256.4 L1386,306.5 L1389.8,309.3 L1389.8,384 L1380,384 L1292.9,332.4Z" fill="#fff" stroke="#000" stroke-width="1.8"/>
<circle cx="1294.3" cy="261" r="3" fill="#000" stroke="#000" stroke-width="0.5"/>
<circle cx="1294.2" cy="331.5" r="3" fill="#000" stroke="#000" stroke-width="0.5"/>
<circle cx="1337.6" cy="287" r="3" fill="#000" stroke="#000" stroke-width="0.5"/>
<circle cx="1383.5" cy="313" r="3" fill="#000" stroke="#000" stroke-width="0.5"/>
<circle cx="1340.3" cy="357.5" r="3" fill="#000" stroke="#000" stroke-width="0.5"/>
<circle cx="1382.6" cy="383.5" r="3" fill="#000" stroke="#000" stroke-width="0.5"/>
<path d="M1295.8,293.7 L1315,303.2 L1315,319.5 L1295.8,309.5Z" fill="none" stroke="#000" stroke-width="1.7"/>
<path d="M1333,332.4 L1333,336.6" fill="none" stroke="#000" stroke-width="1.8"/>
<path d="M1333,342.3 L1333,344.8" fill="none" stroke="#000" stroke-width="1.8"/>
<path d="M1337.6,346.6 L1349.8,353.4" fill="none" stroke="#000" stroke-width="1.8"/>
<path d="M1354.6,356.8 L1366.8,363.5" fill="none" stroke="#000" stroke-width="1.8"/>
<path d="M1371.5,367 C1372.5,367.1 1375.4,368.3 1377.6,367.6 C1379.8,366.9 1383.3,363.7 1384.4,362.9" fill="none" stroke="#000" stroke-width="1.8"/>
<circle cx="1381" cy="339" r="1" fill="#000" stroke="#000" stroke-width="0.5"/>
<path d="M1346.4,362 L1346.4,380.5 L1307.8,402 L1307.8,457.5" fill="none" stroke="#000" stroke-width="1"/>
<path d="M253,536.4 L190.8,597" fill="none" stroke="#000" stroke-width="1.7"/>
<path d="M57.9,598.7 L26.7,629" fill="none" stroke="#000" stroke-width="1"/>
<path d="M47.8,500.2 L68.8,486.8 L72.2,487.6 L99.1,517.1 L114.2,530.5 L131.1,550.7 L166.4,569.2 L181.6,584.4 L198.4,608 L209.3,621.4 L209.3,626.5 L203.4,641.6 L195,653.4 L188.3,661.8 L181.6,660.1 L166.4,666.9 L154.6,671.9 L147.9,665.2 L112.6,643.3 L100.8,643.3 L87.3,638.2 L80.6,629.8 L63.8,609.6 L60.4,599.5 L41.9,582.7 L30.9,569.2 L31.8,559.1 L36,549 L31.8,539 L36.8,532.2 L48.6,508.7Z" fill="#fff" stroke="#000" stroke-width="2"/>
<path d="M127.8,550 L151.5,560.5 L169,570.2 L182.2,585.1 L191,597.4 L208.5,621.1 L207.6,622.9 L183.1,616.7 L174.3,611.5 L162,595.7 L142.7,571.1 L127.8,550.9Z" fill="#000" stroke="#000" stroke-width="1"/>
<path d="M142.7,561.4 C143.3,561.7 145.6,562.1 146.6,563.2 C147.7,564.2 147.7,566.6 148.8,567.6 C149.9,568.5 152,567.9 153.2,568.9 C154.4,569.8 155.4,572.5 155.8,573.3" fill="none" stroke="#fff" stroke-width="1.8"/>
<path d="M139.2,565.8 C139.9,566.2 142.5,567 143.6,568 C144.6,569 144.3,571 145.3,571.9 C146.3,572.9 149,573.4 149.7,573.7" fill="none" stroke="#fff" stroke-width="1.5"/>
<path d="M151.5,567.6 C152.1,567.9 154.4,568.3 155.4,569.3 C156.4,570.3 156.5,572.8 157.6,573.7 C158.7,574.7 160.8,574.1 162,575 C163.2,576 164.2,578.7 164.6,579.4" fill="none" stroke="#fff" stroke-width="1.8"/>
<path d="M147.9,571.9 C148.7,572.3 151.3,573.1 152.3,574.1 C153.4,575.2 153.1,577.1 154.1,578.1 C155.1,579 157.7,579.6 158.5,579.9" fill="none" stroke="#fff" stroke-width="1.5"/>
<path d="M159.4,576.3 C160,576.6 162.3,577.1 163.3,578.1 C164.3,579.1 164.4,581.5 165.5,582.5 C166.6,583.4 168.7,582.9 169.9,583.8 C171.1,584.8 172.1,587.5 172.5,588.2" fill="none" stroke="#fff" stroke-width="1.8"/>
<path d="M155.8,580.7 C156.6,581.1 159.2,581.9 160.2,582.9 C161.3,583.9 161,585.9 162,586.9 C163,587.8 165.7,588.3 166.4,588.6" fill="none" stroke="#fff" stroke-width="1.5"/>
<path d="M167.3,585.1 C167.9,585.4 170.2,585.9 171.2,586.9 C172.2,587.9 172.3,590.3 173.4,591.3 C174.5,592.2 176.6,591.6 177.8,592.6 C179,593.5 180,596.2 180.4,597" fill="none" stroke="#fff" stroke-width="1.8"/>
<path d="M163.7,589.5 C164.5,589.9 167.1,590.7 168.1,591.7 C169.2,592.7 168.9,594.7 169.9,595.7 C170.9,596.6 173.6,597.1 174.3,597.4" fill="none" stroke="#fff" stroke-width="1.5"/>
<path d="M174.3,593.9 C174.9,594.2 177.2,594.6 178.2,595.7 C179.3,596.7 179.3,599.1 180.4,600 C181.5,601 183.6,600.4 184.8,601.4 C186,602.3 187,605 187.5,605.8" fill="none" stroke="#fff" stroke-width="1.8"/>
<path d="M170.8,598.3 C171.5,598.7 174.1,599.5 175.2,600.5 C176.2,601.5 175.9,603.5 176.9,604.4 C177.9,605.4 180.6,605.9 181.3,606.2" fill="none" stroke="#fff" stroke-width="1.5"/>
<path d="M181.3,601.8 C182,602.1 184.2,602.5 185.3,603.6 C186.3,604.6 186.4,607 187.5,607.9 C188.6,608.9 190.7,608.3 191.8,609.3 C193,610.2 194,612.9 194.5,613.7" fill="none" stroke="#fff" stroke-width="1.8"/>
<path d="M177.8,606.2 C178.5,606.6 181.2,607.4 182.2,608.4 C183.2,609.4 182.9,611.4 183.9,612.3 C185,613.3 187.6,613.8 188.3,614.1" fill="none" stroke="#fff" stroke-width="1.5"/>
<path d="M176,606.2 L191,606.2 L201.5,616.7 L207.6,622.9Z" fill="#fff" stroke="#000" stroke-width="0"/>
<path d="M176,606.2 L207.6,622.9" fill="none" stroke="#000" stroke-width="1.6"/>
<path d="M186.6,603.6 L201.5,617.2" fill="none" stroke="#000" stroke-width="1.4"/>
<path d="M193.6,607.1 L195.4,611.5" fill="none" stroke="#000" stroke-width="1.4"/>
<path d="M68.4,486.2 L135,552 L127.8,550" fill="none" stroke="#000" stroke-width="2.6"/>
<path d="M51.7,498.2 L69.2,490.1 L116.3,550 L131.3,567.1 L183.1,617.2 L183.1,620.2 L169,630.8 L132.1,597.4 L118.1,586 L118,583.8Z" fill="#fff" stroke="#000" stroke-width="1.8"/>
<path d="M80,500.1 L135,567.5 L132.1,567.6 L162,595.7" fill="none" stroke="#000" stroke-width="1.2"/>
<path d="M121.6,571.5 L128.6,568 L132.1,567.6" fill="none" stroke="#000" stroke-width="1.8"/>
<path d="M119.9,585.1 L125.1,581.6 L128.6,581.2" fill="none" stroke="#000" stroke-width="1.8"/>
<path d="M59.9,494.3 L66.8,490.5" fill="none" stroke="#000" stroke-width="1.2"/>
<path d="M49,500.5 L112.5,584.6 L119,587.8 L165.5,632.1" fill="none" stroke="#000" stroke-width="1.5"/>
<path d="M47.5,503.2 L109.4,586.1 L116.3,589.5 L146.2,617.6" fill="none" stroke="#000" stroke-width="1.3"/>
<path d="M38.2,529.6 L50.6,510.6 L105.9,576.4 L92.4,595.4Z" fill="#000" stroke="#000" stroke-width="1"/>
<path d="M42.2,530.3 L52.1,513.2" fill="none" stroke="#fff" stroke-width="3.4" stroke-linecap="round"/>
<path d="M46.3,535.5 L56.2,518.3" fill="none" stroke="#fff" stroke-width="3.4" stroke-linecap="round"/>
<path d="M50.3,540.6 L60.2,523.4" fill="none" stroke="#fff" stroke-width="3.4" stroke-linecap="round"/>
<path d="M54.4,545.7 L64.3,528.5" fill="none" stroke="#fff" stroke-width="3.4" stroke-linecap="round"/>
<path d="M58.5,550.8 L68.4,533.6" fill="none" stroke="#fff" stroke-width="3.4" stroke-linecap="round"/>
<path d="M62.5,555.9 L72.4,538.7" fill="none" stroke="#fff" stroke-width="3.4" stroke-linecap="round"/>
<path d="M66.6,561 L76.5,543.8" fill="none" stroke="#fff" stroke-width="3.4" stroke-linecap="round"/>
<path d="M70.7,566.1 L80.6,548.9" fill="none" stroke="#fff" stroke-width="3.4" stroke-linecap="round"/>
<path d="M74.7,571.2 L84.6,554.1" fill="none" stroke="#fff" stroke-width="3.4" stroke-linecap="round"/>
<path d="M78.8,576.4 L88.7,559.2" fill="none" stroke="#fff" stroke-width="3.4" stroke-linecap="round"/>
<path d="M82.9,581.5 L92.8,564.3" fill="none" stroke="#fff" stroke-width="3.4" stroke-linecap="round"/>
<path d="M86.9,586.6 L96.8,569.4" fill="none" stroke="#fff" stroke-width="3.4" stroke-linecap="round"/>
<path d="M91,591.7 L100.9,574.5" fill="none" stroke="#fff" stroke-width="3.4" stroke-linecap="round"/>
<path d="M48.2,505.9 L50.6,510.6 L39.7,528.4 L37.4,529.6 L46.7,512.5Z" fill="#fff" stroke="#000" stroke-width="1.6"/>
<path d="M47.5,508.7 L50.6,507.1 L51.3,510.2 L48.6,511.8Z" fill="#fff" stroke="#000" stroke-width="1.6"/>
<path d="M34.3,532.7 L85.4,600 L87.3,608" fill="none" stroke="#000" stroke-width="1.6"/>
<path d="M38.2,531.5 L89.3,600 L92.4,604.6" fill="none" stroke="#000" stroke-width="1.6"/>
<path d="M35.1,537.3 L79.2,600" fill="none" stroke="#000" stroke-width="1.2"/>
<path d="M31.2,538.9 L34.3,532.7 L38.2,531.5" fill="none" stroke="#000" stroke-width="1.8"/>
<path d="M32,566.8 L39.7,552" fill="none" stroke="#000" stroke-width="2"/>
<path d="M36.6,572.2 L43.6,557.5" fill="none" stroke="#000" stroke-width="2"/>
<path d="M40.5,578.4 L47.5,563.7" fill="none" stroke="#000" stroke-width="2"/>
<path d="M44.4,583.8 L51.3,568.3" fill="none" stroke="#000" stroke-width="2"/>
<path d="M36.6,549.7 L30.4,561.3" fill="none" stroke="#000" stroke-width="2.2"/>
<path d="M64.1,608.8 C64.5,607.5 65.5,603.6 66.6,601.2 C67.7,598.8 70.1,595.6 70.8,594.5" fill="none" stroke="#000" stroke-width="1.8"/>
<path d="M68.8,613.8 C69.2,612.6 70.2,608.7 71.3,606.3 C72.5,603.9 74.8,600.7 75.5,599.5" fill="none" stroke="#000" stroke-width="1.8"/>
<path d="M73.5,618.9 C73.9,617.6 74.9,613.7 76,611.3 C77.2,608.9 79.5,605.7 80.2,604.6" fill="none" stroke="#000" stroke-width="1.8"/>
<path d="M78.2,623.9 C78.7,622.7 79.6,618.8 80.8,616.4 C81.9,614 84.3,610.8 85,609.6" fill="none" stroke="#000" stroke-width="1.8"/>
<path d="M82.9,629 C83.4,627.7 84.3,623.8 85.5,621.4 C86.6,619 89,615.8 89.7,614.7" fill="none" stroke="#000" stroke-width="1.8"/>
<path d="M52.1,576.8 L57.5,573 L71.5,590 L65.3,594.6Z" fill="#fff" stroke="#000" stroke-width="1.6"/>
<path d="M53.7,577.6 L61.4,588.4 L68.4,593.9" fill="none" stroke="#000" stroke-width="3"/>
<path d="M59.5,600.4 L62.1,602.9 L68.8,592.8" fill="none" stroke="#000" stroke-width="2.6"/>
<path d="M98.8,607.1 L110.2,599.2 L113.7,600.9 L125.1,607.9 L133.9,613.2 L144.4,624.6 L142.7,634.3 L133.9,635.2 L127.8,629 L112.8,621.1 L102.3,615Z" fill="#000" stroke="#000" stroke-width="1"/>
<path d="M110.2,601.8 L119.9,606.2 L119,609.7 L111.1,607.1Z" fill="#fff" stroke="#000" stroke-width="0"/>
<path d="M117.2,617.6 L126.9,610.6 L130.4,613.2 L125.1,620.2 L120.7,620.2Z" fill="#fff" stroke="#000" stroke-width="0"/>
<path d="M133,618.5 L137.4,619.4 L141.8,625.5 L137.4,626.4Z" fill="#fff" stroke="#000" stroke-width="0"/>
<path d="M142.7,629 L146.2,627.3 L148.8,629.9 L145.3,631.7Z" fill="#fff" stroke="#000" stroke-width="0"/>
<path d="M107.6,587.8 L108.9,591.3 L112.8,592.1" fill="none" stroke="#000" stroke-width="2"/>
<path d="M106.7,593.9 L108.9,597 L111.9,597.4" fill="none" stroke="#000" stroke-width="2"/>
<path d="M110.2,586.9 L132.1,606.2 L158.5,629 L155,632.5 L151.5,632.1" fill="none" stroke="#000" stroke-width="1.8"/>
<path d="M178.7,626.4 L199.7,638.7 L191.8,651 L169,636Z" fill="#000" stroke="#000" stroke-width="1"/>
<path d="M146.2,634.3 L191,658.4" fill="none" stroke="#000" stroke-width="2"/>
<path d="M151.5,632.5 L191.8,653.6" fill="none" stroke="#000" stroke-width="1.4"/>
<path d="M146.2,636.5 L185.7,657.6" fill="none" stroke="#000" stroke-width="1.2"/>
<path d="M166.4,636.5 L167.6,640" fill="none" stroke="#000" stroke-width="1.6"/>
<path d="M169.1,637.9 L170.3,641.4" fill="none" stroke="#000" stroke-width="1.6"/>
<path d="M171.8,639.4 L173.1,642.9" fill="none" stroke="#000" stroke-width="1.6"/>
<path d="M174.5,640.8 L175.8,644.3" fill="none" stroke="#000" stroke-width="1.6"/>
<path d="M177.3,642.3 L178.5,645.8" fill="none" stroke="#000" stroke-width="1.6"/>
<path d="M180,643.7 L181.2,647.2" fill="none" stroke="#000" stroke-width="1.6"/>
<path d="M182.7,645.2 L183.9,648.7" fill="none" stroke="#000" stroke-width="1.6"/>
<path d="M185.4,646.6 L186.7,650.1" fill="none" stroke="#000" stroke-width="1.6"/>
<path d="M188.2,648.1 L189.4,651.6" fill="none" stroke="#000" stroke-width="1.6"/>
<path d="M195.4,649.2 L196.7,650.1 L196.2,655.4 L190.1,660.6 L184.8,662.4 L182.2,660.6" fill="none" stroke="#000" stroke-width="1.8"/>
<path d="M90,627.3 L105.8,616.7" fill="none" stroke="#000" stroke-width="1.6"/>
<path d="M95.3,637.8 L110.2,621.1" fill="none" stroke="#000" stroke-width="1.6"/>
<path d="M90,636.9 L94.4,638.7" fill="none" stroke="#000" stroke-width="1.6"/>
<path d="M147.1,663.3 L147.9,667.6 L153.2,672 L159.4,670.7" fill="none" stroke="#000" stroke-width="1.8"/>
<path d="M152.3,667.6 L156.7,670.3" fill="none" stroke="#000" stroke-width="1.4"/>
<path d="M111.1,642.2 L112.8,640 L114.6,642.2" fill="none" stroke="#000" stroke-width="1.6"/>
<path d="M80.6,629.8 L87.3,609.6 L99.1,608" fill="none" stroke="#000" stroke-width="1.6"/>
<text x="1309" y="1548.6" font-family="Liberation Sans, sans-serif" font-size="24.9" fill="#000" style="text-rendering:geometricPrecision">JH020255</text>
</svg>
</body></html>
